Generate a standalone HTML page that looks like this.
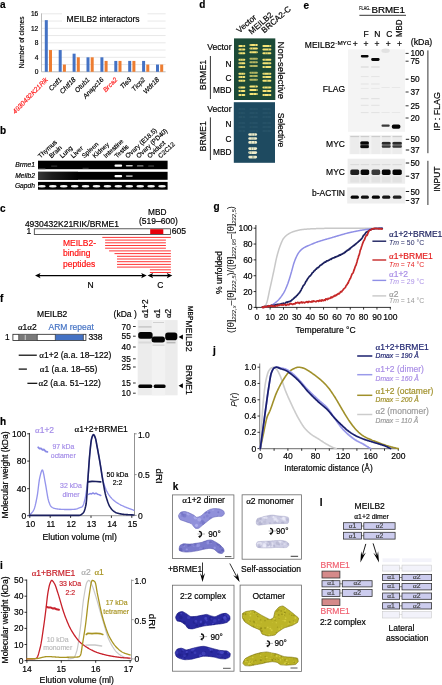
<!DOCTYPE html>
<html><head><meta charset="utf-8"><style>
html,body{margin:0;padding:0;background:#fff;}
svg{display:block;font-family:"Liberation Sans", sans-serif;will-change:transform;}
</style></head><body>
<svg width="442" height="685" viewBox="0 0 442 685">
<rect width="442" height="685" fill="#fff"/>
<text x="0.00" y="8.00" font-size="10" stroke="#000" stroke-width="0.18" font-weight="bold">a</text>
<line x1="41.50" y1="64.55" x2="165.60" y2="64.55" stroke="#d9d9d9" stroke-width="0.6" />
<line x1="41.50" y1="57.30" x2="165.60" y2="57.30" stroke="#d9d9d9" stroke-width="0.6" />
<line x1="41.50" y1="50.05" x2="165.60" y2="50.05" stroke="#d9d9d9" stroke-width="0.6" />
<line x1="41.50" y1="42.80" x2="165.60" y2="42.80" stroke="#d9d9d9" stroke-width="0.6" />
<line x1="41.50" y1="35.55" x2="165.60" y2="35.55" stroke="#d9d9d9" stroke-width="0.6" />
<line x1="41.50" y1="28.30" x2="165.60" y2="28.30" stroke="#d9d9d9" stroke-width="0.6" />
<line x1="41.50" y1="21.05" x2="165.60" y2="21.05" stroke="#d9d9d9" stroke-width="0.6" />
<line x1="41.50" y1="13.80" x2="165.60" y2="13.80" stroke="#d9d9d9" stroke-width="0.6" />
<rect x="62.00" y="10.00" width="85.50" height="14.50" fill="#fff"/>
<text x="66.50" y="21.60" font-size="8.6" stroke="#000" stroke-width="0.18">MEILB2 interactors</text>
<line x1="41.50" y1="13.40" x2="41.50" y2="71.80" stroke="#a0a0a0" stroke-width="0.7" />
<line x1="41.50" y1="71.80" x2="165.60" y2="71.80" stroke="#a0a0a0" stroke-width="0.7" />
<text x="38.30" y="74.10" font-size="6.6" text-anchor="end" stroke="#000" stroke-width="0.18">0</text>
<text x="38.30" y="59.60" font-size="6.6" text-anchor="end" stroke="#000" stroke-width="0.18">4</text>
<text x="38.30" y="45.10" font-size="6.6" text-anchor="end" stroke="#000" stroke-width="0.18">8</text>
<text x="38.30" y="30.60" font-size="6.6" text-anchor="end" stroke="#000" stroke-width="0.18">12</text>
<text x="38.30" y="16.10" font-size="6.6" text-anchor="end" stroke="#000" stroke-width="0.18">16</text>
<text x="24.00" y="42.30" font-size="6.6" text-anchor="middle" stroke="#000" stroke-width="0.18" transform="rotate(-90 24.00 42.30)">Number of clones</text>
<rect x="44.80" y="20.14" width="3.00" height="51.66" fill="#4472c4"/>
<rect x="49.00" y="50.05" width="3.00" height="21.75" fill="#ed7d31"/>
<text x="48.40" y="80.00" font-size="6.7" text-anchor="end" fill="#ff2020" stroke="#ff2020" stroke-width="0.18" font-style="italic" transform="rotate(-46 48.40 80.00)">4930432K21Rik</text>
<rect x="58.70" y="50.05" width="3.00" height="21.75" fill="#4472c4"/>
<rect x="62.90" y="64.55" width="3.00" height="7.25" fill="#ed7d31"/>
<text x="62.30" y="80.00" font-size="6.7" text-anchor="end" stroke="#000" stroke-width="0.18" font-style="italic" transform="rotate(-46 62.30 80.00)">Cstf1</text>
<rect x="72.60" y="53.67" width="3.00" height="18.12" fill="#4472c4"/>
<rect x="76.80" y="57.30" width="3.00" height="14.50" fill="#ed7d31"/>
<text x="76.20" y="80.00" font-size="6.7" text-anchor="end" stroke="#000" stroke-width="0.18" font-style="italic" transform="rotate(-46 76.20 80.00)">Chtf18</text>
<rect x="86.50" y="57.30" width="3.00" height="14.50" fill="#4472c4"/>
<rect x="90.70" y="57.30" width="3.00" height="14.50" fill="#ed7d31"/>
<text x="90.10" y="80.00" font-size="6.7" text-anchor="end" stroke="#000" stroke-width="0.18" font-style="italic" transform="rotate(-46 90.10 80.00)">Otub1</text>
<rect x="100.40" y="57.30" width="3.00" height="14.50" fill="#4472c4"/>
<rect x="104.60" y="60.92" width="3.00" height="10.88" fill="#ed7d31"/>
<text x="104.00" y="80.00" font-size="6.7" text-anchor="end" stroke="#000" stroke-width="0.18" font-style="italic" transform="rotate(-46 104.00 80.00)">Anapc16</text>
<rect x="114.30" y="60.92" width="3.00" height="10.88" fill="#4472c4"/>
<rect x="118.50" y="60.92" width="3.00" height="10.88" fill="#ed7d31"/>
<text x="117.90" y="80.00" font-size="6.7" text-anchor="end" fill="#ff2020" stroke="#ff2020" stroke-width="0.18" font-style="italic" transform="rotate(-46 117.90 80.00)">Brca2</text>
<rect x="128.20" y="60.92" width="3.00" height="10.88" fill="#4472c4"/>
<rect x="132.40" y="60.92" width="3.00" height="10.88" fill="#ed7d31"/>
<text x="131.80" y="80.00" font-size="6.7" text-anchor="end" stroke="#000" stroke-width="0.18" font-style="italic" transform="rotate(-46 131.80 80.00)">Tle3</text>
<rect x="142.10" y="60.92" width="3.00" height="10.88" fill="#4472c4"/>
<rect x="146.30" y="64.55" width="3.00" height="7.25" fill="#ed7d31"/>
<text x="145.70" y="80.00" font-size="6.7" text-anchor="end" stroke="#000" stroke-width="0.18" font-style="italic" transform="rotate(-46 145.70 80.00)">Ticp2</text>
<rect x="156.00" y="64.55" width="3.00" height="7.25" fill="#4472c4"/>
<rect x="160.20" y="64.55" width="3.00" height="7.25" fill="#ed7d31"/>
<text x="159.60" y="80.00" font-size="6.7" text-anchor="end" stroke="#000" stroke-width="0.18" font-style="italic" transform="rotate(-46 159.60 80.00)">Wdr18</text>
<text x="0.00" y="134.30" font-size="10" stroke="#000" stroke-width="0.18" font-weight="bold">b</text>
<rect x="38.00" y="160.70" width="129.60" height="8.50" fill="#000"/>
<rect x="38.00" y="171.80" width="129.60" height="8.00" fill="#000"/>
<rect x="38.00" y="181.90" width="129.60" height="7.80" fill="#000"/>
<text x="35.00" y="167.00" font-size="6.7" text-anchor="end" stroke="#000" stroke-width="0.18" font-style="italic">Brme1</text>
<text x="35.00" y="178.00" font-size="6.7" text-anchor="end" stroke="#000" stroke-width="0.18" font-style="italic">Meilb2</text>
<text x="35.00" y="187.80" font-size="6.7" text-anchor="end" stroke="#000" stroke-width="0.18" font-style="italic">Gapdh</text>
<text x="40.50" y="158.50" font-size="6.5" stroke="#000" stroke-width="0.18" transform="rotate(-43 40.50 158.50)">Thymus</text>
<ellipse cx="41.90" cy="186.2" rx="3.8" ry="1.2" fill="#f4f4f4"/>
<text x="51.42" y="158.50" font-size="6.5" stroke="#000" stroke-width="0.18" transform="rotate(-43 51.42 158.50)">Brain</text>
<ellipse cx="52.82" cy="186.2" rx="3.8" ry="1.2" fill="#f4f4f4"/>
<text x="62.34" y="158.50" font-size="6.5" stroke="#000" stroke-width="0.18" transform="rotate(-43 62.34 158.50)">Lung</text>
<ellipse cx="63.74" cy="186.2" rx="3.8" ry="1.2" fill="#f4f4f4"/>
<text x="73.26" y="158.50" font-size="6.5" stroke="#000" stroke-width="0.18" transform="rotate(-43 73.26 158.50)">Liver</text>
<ellipse cx="74.66" cy="186.2" rx="3.8" ry="1.2" fill="#f4f4f4"/>
<text x="84.18" y="158.50" font-size="6.5" stroke="#000" stroke-width="0.18" transform="rotate(-43 84.18 158.50)">Spleen</text>
<ellipse cx="85.58" cy="186.2" rx="3.8" ry="1.2" fill="#f4f4f4"/>
<text x="95.10" y="158.50" font-size="6.5" stroke="#000" stroke-width="0.18" transform="rotate(-43 95.10 158.50)">Kidney</text>
<ellipse cx="96.50" cy="186.2" rx="3.8" ry="1.2" fill="#f4f4f4"/>
<text x="106.02" y="158.50" font-size="6.5" stroke="#000" stroke-width="0.18" transform="rotate(-43 106.02 158.50)">Intestine</text>
<ellipse cx="107.42" cy="186.2" rx="3.8" ry="1.2" fill="#f4f4f4"/>
<text x="116.94" y="158.50" font-size="6.5" stroke="#000" stroke-width="0.18" transform="rotate(-43 116.94 158.50)">Testis</text>
<ellipse cx="118.34" cy="186.2" rx="3.8" ry="1.2" fill="#f4f4f4"/>
<text x="127.86" y="158.50" font-size="6.5" stroke="#000" stroke-width="0.18" transform="rotate(-43 127.86 158.50)">Ovary (E18.5)</text>
<ellipse cx="129.26" cy="186.2" rx="3.8" ry="1.2" fill="#f4f4f4"/>
<text x="138.78" y="158.50" font-size="6.5" stroke="#000" stroke-width="0.18" transform="rotate(-43 138.78 158.50)">Ovary (PD40)</text>
<ellipse cx="140.18" cy="186.2" rx="3.8" ry="1.2" fill="#f4f4f4"/>
<text x="149.70" y="158.50" font-size="6.5" stroke="#000" stroke-width="0.18" transform="rotate(-43 149.70 158.50)">Oviduct</text>
<ellipse cx="151.10" cy="186.2" rx="3.8" ry="1.2" fill="#f4f4f4"/>
<text x="160.62" y="158.50" font-size="6.5" stroke="#000" stroke-width="0.18" transform="rotate(-43 160.62 158.50)">C2C12</text>
<ellipse cx="162.02" cy="186.2" rx="3.8" ry="1.2" fill="#f4f4f4"/>
<rect x="114.50" y="164.60" width="7.60" height="2.20" fill="#fff" rx="1"/>
<rect x="125.80" y="164.90" width="7.00" height="1.60" fill="#c8c8c8" rx="0.8"/>
<rect x="136.90" y="165.30" width="6.60" height="1.30" fill="#8a8a8a" rx="0.6"/>
<rect x="148.10" y="165.50" width="6.00" height="1.10" fill="#505050" rx="0.5"/>
<rect x="51.20" y="165.60" width="6.00" height="1.00" fill="#3a3a3a"/>
<rect x="38.40" y="168.20" width="7.00" height="1.00" fill="#404040"/>
<rect x="82.60" y="167.80" width="6.00" height="1.00" fill="#3a3a3a"/>
<rect x="114.50" y="175.00" width="7.60" height="2.20" fill="#fff" rx="1"/>
<rect x="125.80" y="175.30" width="7.00" height="1.60" fill="#a0a0a0" rx="0.8"/>
<defs><linearGradient id="mg" x1="0" x2="1" y1="0" y2="0"><stop offset="0" stop-color="#383838"/><stop offset="0.35" stop-color="#1c1c1c"/><stop offset="1" stop-color="#000"/></linearGradient></defs>
<rect x="38.00" y="171.80" width="40.00" height="8.00" fill="url(#mg)"/>
<text x="0.00" y="211.50" font-size="10" stroke="#000" stroke-width="0.18" font-weight="bold">c</text>
<text x="24.90" y="226.60" font-size="8.5" stroke="#000" stroke-width="0.18">4930432K21RIK/BRME1</text>
<text x="157.20" y="215.00" font-size="8.3" text-anchor="middle" stroke="#000" stroke-width="0.18">MBD</text>
<text x="158.40" y="223.80" font-size="8.5" text-anchor="middle" stroke="#000" stroke-width="0.18">(519–600)</text>
<text x="26.60" y="234.20" font-size="8.5" stroke="#000" stroke-width="0.18">1</text>
<text x="171.80" y="234.00" font-size="8.6" stroke="#000" stroke-width="0.18">605</text>
<rect x="34.30" y="228.80" width="136.20" height="5.60" fill="#fff" stroke="#333" stroke-width="0.8"/>
<rect x="150.20" y="229.20" width="13.10" height="4.80" fill="#e8000b"/>
<line x1="102.30" y1="237.40" x2="170.90" y2="237.40" stroke="#ff2020" stroke-width="0.9" />
<line x1="105.10" y1="240.10" x2="165.90" y2="240.10" stroke="#ff2020" stroke-width="0.9" />
<line x1="105.10" y1="242.80" x2="165.90" y2="242.80" stroke="#ff2020" stroke-width="0.9" />
<line x1="105.10" y1="245.50" x2="165.90" y2="245.50" stroke="#ff2020" stroke-width="0.9" />
<line x1="105.10" y1="248.20" x2="165.90" y2="248.20" stroke="#ff2020" stroke-width="0.9" />
<line x1="109.10" y1="250.90" x2="170.90" y2="250.90" stroke="#ff2020" stroke-width="0.9" />
<line x1="114.50" y1="253.60" x2="170.90" y2="253.60" stroke="#ff2020" stroke-width="0.9" />
<line x1="117.00" y1="256.30" x2="170.90" y2="256.30" stroke="#ff2020" stroke-width="0.9" />
<line x1="117.00" y1="259.00" x2="170.90" y2="259.00" stroke="#ff2020" stroke-width="0.9" />
<line x1="117.00" y1="261.70" x2="170.90" y2="261.70" stroke="#ff2020" stroke-width="0.9" />
<line x1="117.00" y1="264.40" x2="170.90" y2="264.40" stroke="#ff2020" stroke-width="0.9" />
<line x1="117.00" y1="267.10" x2="170.90" y2="267.10" stroke="#ff2020" stroke-width="0.9" />
<line x1="149.90" y1="269.80" x2="170.90" y2="269.80" stroke="#ff2020" stroke-width="0.9" />
<line x1="149.90" y1="272.50" x2="170.90" y2="272.50" stroke="#ff2020" stroke-width="0.9" />
<text x="63.00" y="246.00" font-size="8.5" fill="#ff1010" stroke="#ff1010" stroke-width="0.18">MEILB2-</text>
<text x="63.00" y="256.20" font-size="8.5" fill="#ff1010" stroke="#ff1010" stroke-width="0.18">binding</text>
<text x="63.00" y="266.60" font-size="8.5" fill="#ff1010" stroke="#ff1010" stroke-width="0.18">peptides</text>
<line x1="38.50" y1="275.60" x2="143.50" y2="275.60" stroke="#000" stroke-width="1.4" />
<polygon points="35.00,275.60 40.50,273.00 39.30,275.60 40.50,278.20" fill="#000" stroke="none" stroke-width="1" />
<polygon points="146.70,275.60 141.20,273.00 142.40,275.60 141.20,278.20" fill="#000" stroke="none" stroke-width="1" />
<line x1="150.50" y1="275.60" x2="169.00" y2="275.60" stroke="#000" stroke-width="1.4" />
<polygon points="147.60,275.60 153.10,273.00 151.90,275.60 153.10,278.20" fill="#000" stroke="none" stroke-width="1" />
<polygon points="172.30,275.60 166.80,273.00 168.00,275.60 166.80,278.20" fill="#000" stroke="none" stroke-width="1" />
<text x="90.60" y="288.00" font-size="8.5" text-anchor="middle" stroke="#000" stroke-width="0.18">N</text>
<text x="160.30" y="288.00" font-size="8.5" text-anchor="middle" stroke="#000" stroke-width="0.18">C</text>
<text x="199.30" y="8.00" font-size="10" stroke="#000" stroke-width="0.18" font-weight="bold">d</text>
<text x="239.50" y="33.40" font-size="8.2" stroke="#000" stroke-width="0.18" transform="rotate(-41 239.50 33.40)">Vector</text>
<text x="251.50" y="34.80" font-size="8.2" stroke="#000" stroke-width="0.18" transform="rotate(-41 251.50 34.80)">MEILB2</text>
<text x="264.30" y="33.40" font-size="8.2" stroke="#000" stroke-width="0.18" transform="rotate(-41 264.30 33.40)">BRCA2-C</text>
<rect x="234.00" y="38.40" width="41.30" height="61.60" fill="#1c4a37"/>
<rect x="238.40" y="44.90" width="6.90" height="2.00" fill="#f5e476" rx="1.00" opacity="1.00"/>
<rect x="242.14" y="44.90" width="0.77" height="2.00" fill="#1c4734" opacity="0.35"/>
<rect x="242.90" y="44.90" width="0.87" height="2.00" fill="#1c4734" opacity="0.35"/>
<rect x="249.40" y="43.90" width="8.50" height="2.00" fill="#f5e476" rx="1.00" opacity="1.00"/>
<rect x="254.84" y="43.90" width="0.86" height="2.00" fill="#1c4734" opacity="0.35"/>
<rect x="250.57" y="43.90" width="0.63" height="2.00" fill="#1c4734" opacity="0.35"/>
<rect x="262.40" y="44.90" width="9.00" height="2.00" fill="#f5e476" rx="1.00" opacity="1.00"/>
<rect x="269.53" y="44.90" width="0.72" height="2.00" fill="#1c4734" opacity="0.35"/>
<rect x="269.26" y="44.90" width="0.46" height="2.00" fill="#1c4734" opacity="0.35"/>
<rect x="238.40" y="48.50" width="6.90" height="2.00" fill="#f5e476" rx="1.00" opacity="1.00"/>
<rect x="241.46" y="48.50" width="0.52" height="2.00" fill="#1c4734" opacity="0.35"/>
<rect x="241.79" y="48.50" width="0.69" height="2.00" fill="#1c4734" opacity="0.35"/>
<rect x="249.40" y="47.50" width="8.50" height="2.00" fill="#f5e476" rx="1.00" opacity="1.00"/>
<rect x="250.48" y="47.50" width="0.51" height="2.00" fill="#1c4734" opacity="0.35"/>
<rect x="252.08" y="47.50" width="0.86" height="2.00" fill="#1c4734" opacity="0.35"/>
<rect x="262.40" y="48.50" width="9.00" height="2.00" fill="#f5e476" rx="1.00" opacity="1.00"/>
<rect x="268.38" y="48.50" width="0.48" height="2.00" fill="#1c4734" opacity="0.35"/>
<rect x="268.58" y="48.50" width="0.47" height="2.00" fill="#1c4734" opacity="0.35"/>
<rect x="238.40" y="52.20" width="6.90" height="2.00" fill="#f5e476" rx="1.00" opacity="1.00"/>
<rect x="242.12" y="52.20" width="0.46" height="2.00" fill="#1c4734" opacity="0.35"/>
<rect x="239.41" y="52.20" width="0.84" height="2.00" fill="#1c4734" opacity="0.35"/>
<rect x="249.40" y="51.20" width="8.50" height="2.00" fill="#f5e476" rx="1.00" opacity="1.00"/>
<rect x="251.66" y="51.20" width="0.51" height="2.00" fill="#1c4734" opacity="0.35"/>
<rect x="256.29" y="51.20" width="0.84" height="2.00" fill="#1c4734" opacity="0.35"/>
<rect x="262.40" y="52.20" width="9.00" height="2.00" fill="#f5e476" rx="1.00" opacity="1.00"/>
<rect x="265.28" y="52.20" width="0.88" height="2.00" fill="#1c4734" opacity="0.35"/>
<rect x="266.90" y="52.20" width="0.74" height="2.00" fill="#1c4734" opacity="0.35"/>
<rect x="238.40" y="58.70" width="6.90" height="2.00" fill="#f5e476" rx="1.00" opacity="1.00"/>
<rect x="240.30" y="58.70" width="0.87" height="2.00" fill="#1c4734" opacity="0.35"/>
<rect x="242.44" y="58.70" width="0.88" height="2.00" fill="#1c4734" opacity="0.35"/>
<rect x="249.40" y="57.70" width="8.50" height="2.00" fill="#f5e476" rx="1.00" opacity="0.70"/>
<rect x="255.76" y="57.70" width="0.55" height="2.00" fill="#1c4734" opacity="0.24"/>
<rect x="252.57" y="57.70" width="0.48" height="2.00" fill="#1c4734" opacity="0.24"/>
<rect x="262.40" y="58.70" width="9.00" height="2.00" fill="#f5e476" rx="1.00" opacity="1.00"/>
<rect x="264.35" y="58.70" width="0.43" height="2.00" fill="#1c4734" opacity="0.35"/>
<rect x="265.36" y="58.70" width="0.70" height="2.00" fill="#1c4734" opacity="0.35"/>
<rect x="238.40" y="62.30" width="6.90" height="2.00" fill="#f5e476" rx="1.00" opacity="1.00"/>
<rect x="239.41" y="62.30" width="0.74" height="2.00" fill="#1c4734" opacity="0.35"/>
<rect x="240.89" y="62.30" width="0.55" height="2.00" fill="#1c4734" opacity="0.35"/>
<rect x="249.40" y="61.30" width="8.50" height="2.00" fill="#f5e476" rx="1.00" opacity="0.70"/>
<rect x="255.31" y="61.30" width="0.64" height="2.00" fill="#1c4734" opacity="0.24"/>
<rect x="252.29" y="61.30" width="0.64" height="2.00" fill="#1c4734" opacity="0.24"/>
<rect x="262.40" y="62.30" width="9.00" height="2.00" fill="#f5e476" rx="1.00" opacity="1.00"/>
<rect x="267.98" y="62.30" width="0.43" height="2.00" fill="#1c4734" opacity="0.35"/>
<rect x="269.74" y="62.30" width="0.41" height="2.00" fill="#1c4734" opacity="0.35"/>
<rect x="238.40" y="66.00" width="6.90" height="2.00" fill="#f5e476" rx="1.00" opacity="1.00"/>
<rect x="242.70" y="66.00" width="0.82" height="2.00" fill="#1c4734" opacity="0.35"/>
<rect x="239.48" y="66.00" width="0.79" height="2.00" fill="#1c4734" opacity="0.35"/>
<rect x="249.40" y="65.00" width="8.50" height="2.00" fill="#f5e476" rx="1.00" opacity="0.70"/>
<rect x="252.60" y="65.00" width="0.69" height="2.00" fill="#1c4734" opacity="0.24"/>
<rect x="250.45" y="65.00" width="0.42" height="2.00" fill="#1c4734" opacity="0.24"/>
<rect x="262.40" y="66.00" width="9.00" height="2.00" fill="#f5e476" rx="1.00" opacity="1.00"/>
<rect x="264.58" y="66.00" width="0.88" height="2.00" fill="#1c4734" opacity="0.35"/>
<rect x="264.68" y="66.00" width="0.78" height="2.00" fill="#1c4734" opacity="0.35"/>
<rect x="238.40" y="72.70" width="6.90" height="2.00" fill="#f5e476" rx="1.00" opacity="1.00"/>
<rect x="243.49" y="72.70" width="0.87" height="2.00" fill="#1c4734" opacity="0.35"/>
<rect x="240.92" y="72.70" width="0.58" height="2.00" fill="#1c4734" opacity="0.35"/>
<rect x="249.40" y="71.70" width="8.50" height="2.00" fill="#f5e476" rx="1.00" opacity="0.70"/>
<rect x="253.55" y="71.70" width="0.79" height="2.00" fill="#1c4734" opacity="0.24"/>
<rect x="251.05" y="71.70" width="0.77" height="2.00" fill="#1c4734" opacity="0.24"/>
<rect x="262.40" y="72.70" width="9.00" height="2.00" fill="#f5e476" rx="1.00" opacity="1.00"/>
<rect x="268.58" y="72.70" width="0.83" height="2.00" fill="#1c4734" opacity="0.35"/>
<rect x="263.64" y="72.70" width="0.87" height="2.00" fill="#1c4734" opacity="0.35"/>
<rect x="238.40" y="76.00" width="6.90" height="2.00" fill="#f5e476" rx="1.00" opacity="1.00"/>
<rect x="239.80" y="76.00" width="0.57" height="2.00" fill="#1c4734" opacity="0.35"/>
<rect x="242.09" y="76.00" width="0.86" height="2.00" fill="#1c4734" opacity="0.35"/>
<rect x="249.40" y="75.00" width="8.50" height="2.00" fill="#f5e476" rx="1.00" opacity="0.70"/>
<rect x="252.44" y="75.00" width="0.86" height="2.00" fill="#1c4734" opacity="0.24"/>
<rect x="253.67" y="75.00" width="0.56" height="2.00" fill="#1c4734" opacity="0.24"/>
<rect x="262.40" y="76.00" width="9.00" height="2.00" fill="#f5e476" rx="1.00" opacity="1.00"/>
<rect x="265.46" y="76.00" width="0.49" height="2.00" fill="#1c4734" opacity="0.35"/>
<rect x="263.91" y="76.00" width="0.47" height="2.00" fill="#1c4734" opacity="0.35"/>
<rect x="238.40" y="79.70" width="6.90" height="2.00" fill="#f5e476" rx="1.00" opacity="1.00"/>
<rect x="242.43" y="79.70" width="0.90" height="2.00" fill="#1c4734" opacity="0.35"/>
<rect x="240.11" y="79.70" width="0.42" height="2.00" fill="#1c4734" opacity="0.35"/>
<rect x="249.40" y="78.70" width="8.50" height="2.00" fill="#f5e476" rx="1.00" opacity="0.70"/>
<rect x="256.32" y="78.70" width="0.67" height="2.00" fill="#1c4734" opacity="0.24"/>
<rect x="252.84" y="78.70" width="0.52" height="2.00" fill="#1c4734" opacity="0.24"/>
<rect x="262.40" y="79.70" width="9.00" height="2.00" fill="#f5e476" rx="1.00" opacity="1.00"/>
<rect x="267.26" y="79.70" width="0.81" height="2.00" fill="#1c4734" opacity="0.35"/>
<rect x="266.36" y="79.70" width="0.61" height="2.00" fill="#1c4734" opacity="0.35"/>
<rect x="238.40" y="86.40" width="6.90" height="2.00" fill="#f5e476" rx="1.00" opacity="1.00"/>
<rect x="239.65" y="86.40" width="0.86" height="2.00" fill="#1c4734" opacity="0.35"/>
<rect x="239.54" y="86.40" width="0.65" height="2.00" fill="#1c4734" opacity="0.35"/>
<rect x="249.40" y="85.40" width="8.50" height="2.00" fill="#f5e476" rx="1.00" opacity="1.00"/>
<rect x="255.43" y="85.40" width="0.47" height="2.00" fill="#1c4734" opacity="0.35"/>
<rect x="254.79" y="85.40" width="0.87" height="2.00" fill="#1c4734" opacity="0.35"/>
<rect x="262.40" y="86.40" width="9.00" height="2.00" fill="#f5e476" rx="1.00" opacity="1.00"/>
<rect x="267.50" y="86.40" width="0.79" height="2.00" fill="#1c4734" opacity="0.35"/>
<rect x="264.09" y="86.40" width="0.62" height="2.00" fill="#1c4734" opacity="0.35"/>
<rect x="238.40" y="90.00" width="6.90" height="2.00" fill="#f5e476" rx="1.00" opacity="1.00"/>
<rect x="240.06" y="90.00" width="0.82" height="2.00" fill="#1c4734" opacity="0.35"/>
<rect x="240.70" y="90.00" width="0.63" height="2.00" fill="#1c4734" opacity="0.35"/>
<rect x="249.40" y="89.00" width="8.50" height="2.00" fill="#f5e476" rx="1.00" opacity="1.00"/>
<rect x="256.40" y="89.00" width="0.83" height="2.00" fill="#1c4734" opacity="0.35"/>
<rect x="256.26" y="89.00" width="0.63" height="2.00" fill="#1c4734" opacity="0.35"/>
<rect x="262.40" y="90.00" width="9.00" height="2.00" fill="#f5e476" rx="1.00" opacity="1.00"/>
<rect x="266.57" y="90.00" width="0.76" height="2.00" fill="#1c4734" opacity="0.35"/>
<rect x="266.51" y="90.00" width="0.55" height="2.00" fill="#1c4734" opacity="0.35"/>
<rect x="238.40" y="94.10" width="6.90" height="2.00" fill="#f5e476" rx="1.00" opacity="1.00"/>
<rect x="241.18" y="94.10" width="0.47" height="2.00" fill="#1c4734" opacity="0.35"/>
<rect x="241.06" y="94.10" width="0.89" height="2.00" fill="#1c4734" opacity="0.35"/>
<rect x="249.40" y="93.10" width="8.50" height="2.00" fill="#f5e476" rx="1.00" opacity="1.00"/>
<rect x="256.16" y="93.10" width="0.71" height="2.00" fill="#1c4734" opacity="0.35"/>
<rect x="253.40" y="93.10" width="0.57" height="2.00" fill="#1c4734" opacity="0.35"/>
<rect x="262.40" y="94.10" width="9.00" height="2.00" fill="#f5e476" rx="1.00" opacity="1.00"/>
<rect x="263.98" y="94.10" width="0.54" height="2.00" fill="#1c4734" opacity="0.35"/>
<rect x="268.48" y="94.10" width="0.83" height="2.00" fill="#1c4734" opacity="0.35"/>
<rect x="233.80" y="102.20" width="41.20" height="60.60" fill="#1e4a60"/>
<rect x="248.30" y="133.20" width="8.80" height="2.60" fill="#eeeccc" rx="1.30" opacity="1.00"/>
<rect x="251.58" y="133.20" width="0.79" height="2.60" fill="#1c4734" opacity="0.35"/>
<rect x="254.18" y="133.20" width="0.75" height="2.60" fill="#1c4734" opacity="0.35"/>
<rect x="248.30" y="137.20" width="8.80" height="2.60" fill="#eeeccc" rx="1.30" opacity="1.00"/>
<rect x="253.48" y="137.20" width="0.78" height="2.60" fill="#1c4734" opacity="0.35"/>
<rect x="251.59" y="137.20" width="0.75" height="2.60" fill="#1c4734" opacity="0.35"/>
<rect x="248.30" y="141.10" width="8.80" height="2.60" fill="#eeeccc" rx="1.30" opacity="1.00"/>
<rect x="251.07" y="141.10" width="0.64" height="2.60" fill="#1c4734" opacity="0.35"/>
<rect x="254.15" y="141.10" width="0.75" height="2.60" fill="#1c4734" opacity="0.35"/>
<rect x="248.30" y="147.30" width="8.80" height="2.60" fill="#eeeccc" rx="1.30" opacity="1.00"/>
<rect x="251.15" y="147.30" width="0.87" height="2.60" fill="#1c4734" opacity="0.35"/>
<rect x="253.39" y="147.30" width="0.69" height="2.60" fill="#1c4734" opacity="0.35"/>
<rect x="248.30" y="151.30" width="8.80" height="2.60" fill="#eeeccc" rx="1.30" opacity="1.00"/>
<rect x="249.37" y="151.30" width="0.67" height="2.60" fill="#1c4734" opacity="0.35"/>
<rect x="250.88" y="151.30" width="0.74" height="2.60" fill="#1c4734" opacity="0.35"/>
<rect x="248.30" y="155.80" width="8.80" height="2.60" fill="#eeeccc" rx="1.30" opacity="1.00"/>
<rect x="252.22" y="155.80" width="0.81" height="2.60" fill="#1c4734" opacity="0.35"/>
<rect x="253.38" y="155.80" width="0.80" height="2.60" fill="#1c4734" opacity="0.35"/>
<rect x="238.40" y="108.40" width="6.90" height="1.20" fill="#3f6a80" rx="0.60" opacity="0.45"/>
<rect x="240.93" y="108.40" width="0.72" height="1.20" fill="#1c4734" opacity="0.16"/>
<rect x="242.65" y="108.40" width="0.81" height="1.20" fill="#1c4734" opacity="0.16"/>
<rect x="249.40" y="108.40" width="8.50" height="1.20" fill="#3f6a80" rx="0.60" opacity="0.45"/>
<rect x="252.50" y="108.40" width="0.82" height="1.20" fill="#1c4734" opacity="0.16"/>
<rect x="255.62" y="108.40" width="0.74" height="1.20" fill="#1c4734" opacity="0.16"/>
<rect x="262.40" y="108.40" width="9.00" height="1.20" fill="#3f6a80" rx="0.60" opacity="0.45"/>
<rect x="269.74" y="108.40" width="0.88" height="1.20" fill="#1c4734" opacity="0.16"/>
<rect x="266.77" y="108.40" width="0.66" height="1.20" fill="#1c4734" opacity="0.16"/>
<rect x="238.40" y="112.40" width="6.90" height="1.20" fill="#3f6a80" rx="0.60" opacity="0.45"/>
<rect x="240.13" y="112.40" width="0.82" height="1.20" fill="#1c4734" opacity="0.16"/>
<rect x="243.52" y="112.40" width="0.64" height="1.20" fill="#1c4734" opacity="0.16"/>
<rect x="249.40" y="112.40" width="8.50" height="1.20" fill="#3f6a80" rx="0.60" opacity="0.45"/>
<rect x="254.55" y="112.40" width="0.76" height="1.20" fill="#1c4734" opacity="0.16"/>
<rect x="254.78" y="112.40" width="0.49" height="1.20" fill="#1c4734" opacity="0.16"/>
<rect x="262.40" y="112.40" width="9.00" height="1.20" fill="#3f6a80" rx="0.60" opacity="0.45"/>
<rect x="268.47" y="112.40" width="0.69" height="1.20" fill="#1c4734" opacity="0.16"/>
<rect x="267.73" y="112.40" width="0.61" height="1.20" fill="#1c4734" opacity="0.16"/>
<rect x="238.40" y="116.40" width="6.90" height="1.20" fill="#3f6a80" rx="0.60" opacity="0.45"/>
<rect x="242.14" y="116.40" width="0.79" height="1.20" fill="#1c4734" opacity="0.16"/>
<rect x="242.20" y="116.40" width="0.76" height="1.20" fill="#1c4734" opacity="0.16"/>
<rect x="249.40" y="116.40" width="8.50" height="1.20" fill="#3f6a80" rx="0.60" opacity="0.45"/>
<rect x="250.57" y="116.40" width="0.48" height="1.20" fill="#1c4734" opacity="0.16"/>
<rect x="253.05" y="116.40" width="0.73" height="1.20" fill="#1c4734" opacity="0.16"/>
<rect x="262.40" y="116.40" width="9.00" height="1.20" fill="#3f6a80" rx="0.60" opacity="0.45"/>
<rect x="264.82" y="116.40" width="0.74" height="1.20" fill="#1c4734" opacity="0.16"/>
<rect x="267.50" y="116.40" width="0.42" height="1.20" fill="#1c4734" opacity="0.16"/>
<rect x="238.40" y="122.40" width="6.90" height="1.20" fill="#3f6a80" rx="0.60" opacity="0.45"/>
<rect x="241.47" y="122.40" width="0.51" height="1.20" fill="#1c4734" opacity="0.16"/>
<rect x="239.64" y="122.40" width="0.47" height="1.20" fill="#1c4734" opacity="0.16"/>
<rect x="249.40" y="122.40" width="8.50" height="1.20" fill="#3f6a80" rx="0.60" opacity="0.45"/>
<rect x="252.30" y="122.40" width="0.49" height="1.20" fill="#1c4734" opacity="0.16"/>
<rect x="251.56" y="122.40" width="0.42" height="1.20" fill="#1c4734" opacity="0.16"/>
<rect x="262.40" y="122.40" width="9.00" height="1.20" fill="#3f6a80" rx="0.60" opacity="0.45"/>
<rect x="266.42" y="122.40" width="0.59" height="1.20" fill="#1c4734" opacity="0.16"/>
<rect x="267.38" y="122.40" width="0.70" height="1.20" fill="#1c4734" opacity="0.16"/>
<rect x="238.40" y="126.40" width="6.90" height="1.20" fill="#3f6a80" rx="0.60" opacity="0.45"/>
<rect x="240.45" y="126.40" width="0.85" height="1.20" fill="#1c4734" opacity="0.16"/>
<rect x="239.40" y="126.40" width="0.60" height="1.20" fill="#1c4734" opacity="0.16"/>
<rect x="249.40" y="126.40" width="8.50" height="1.20" fill="#3f6a80" rx="0.60" opacity="0.45"/>
<rect x="252.07" y="126.40" width="0.61" height="1.20" fill="#1c4734" opacity="0.16"/>
<rect x="251.09" y="126.40" width="0.82" height="1.20" fill="#1c4734" opacity="0.16"/>
<rect x="262.40" y="126.40" width="9.00" height="1.20" fill="#3f6a80" rx="0.60" opacity="0.45"/>
<rect x="265.83" y="126.40" width="0.42" height="1.20" fill="#1c4734" opacity="0.16"/>
<rect x="267.39" y="126.40" width="0.45" height="1.20" fill="#1c4734" opacity="0.16"/>
<rect x="238.40" y="130.40" width="6.90" height="1.20" fill="#3f6a80" rx="0.60" opacity="0.45"/>
<rect x="241.80" y="130.40" width="0.57" height="1.20" fill="#1c4734" opacity="0.16"/>
<rect x="241.96" y="130.40" width="0.88" height="1.20" fill="#1c4734" opacity="0.16"/>
<rect x="249.40" y="130.40" width="8.50" height="1.20" fill="#3f6a80" rx="0.60" opacity="0.45"/>
<rect x="255.31" y="130.40" width="0.61" height="1.20" fill="#1c4734" opacity="0.16"/>
<rect x="255.28" y="130.40" width="0.72" height="1.20" fill="#1c4734" opacity="0.16"/>
<rect x="262.40" y="130.40" width="9.00" height="1.20" fill="#3f6a80" rx="0.60" opacity="0.45"/>
<rect x="265.80" y="130.40" width="0.47" height="1.20" fill="#1c4734" opacity="0.16"/>
<rect x="267.27" y="130.40" width="0.68" height="1.20" fill="#1c4734" opacity="0.16"/>
<text x="231.50" y="50.30" font-size="8.6" text-anchor="end" stroke="#000" stroke-width="0.18">Vector</text>
<text x="231.50" y="66.50" font-size="8.3" text-anchor="end" stroke="#000" stroke-width="0.18">N</text>
<text x="231.50" y="80.60" font-size="8.3" text-anchor="end" stroke="#000" stroke-width="0.18">C</text>
<text x="231.50" y="93.00" font-size="8.3" text-anchor="end" stroke="#000" stroke-width="0.18">MBD</text>
<line x1="210.40" y1="56.00" x2="210.40" y2="99.00" stroke="#000" stroke-width="0.8" />
<text x="206.40" y="75.00" font-size="8.8" text-anchor="middle" stroke="#000" stroke-width="0.18" transform="rotate(-90 206.40 75.00)">BRME1</text>
<text x="231.50" y="111.70" font-size="8.6" text-anchor="end" stroke="#000" stroke-width="0.18">Vector</text>
<text x="231.50" y="127.00" font-size="8.3" text-anchor="end" stroke="#000" stroke-width="0.18">N</text>
<text x="231.50" y="141.70" font-size="8.3" text-anchor="end" stroke="#000" stroke-width="0.18">C</text>
<text x="231.50" y="155.00" font-size="8.3" text-anchor="end" stroke="#000" stroke-width="0.18">MBD</text>
<line x1="210.40" y1="117.40" x2="210.40" y2="160.00" stroke="#000" stroke-width="0.8" />
<text x="206.40" y="136.30" font-size="8.8" text-anchor="middle" stroke="#000" stroke-width="0.18" transform="rotate(-90 206.40 136.30)">BRME1</text>
<text x="278.00" y="70.30" font-size="8.8" text-anchor="middle" stroke="#000" stroke-width="0.18" transform="rotate(90 278.00 70.30)" textLength="57.5" lengthAdjust="spacingAndGlyphs">Non-selective</text>
<text x="278.00" y="130.00" font-size="8.5" text-anchor="middle" stroke="#000" stroke-width="0.18" transform="rotate(90 278.00 130.00)">Selective</text>
<text x="303.50" y="9.20" font-size="10" stroke="#000" stroke-width="0.18" font-weight="bold">e</text>
<text x="359.30" y="10.20" font-size="6.0" stroke="#000" stroke-width="0.18" textLength="9.8" lengthAdjust="spacingAndGlyphs">FLAG</text>
<text x="368.60" y="11.00" font-size="6" stroke="#000" stroke-width="0.18">-</text>
<text x="371.40" y="12.60" font-size="8.6" stroke="#000" stroke-width="0.18" textLength="33.6" lengthAdjust="spacingAndGlyphs">BRME1</text>
<line x1="359.40" y1="15.30" x2="406.00" y2="15.30" stroke="#000" stroke-width="0.8" />
<text x="366.00" y="37.20" font-size="8.5" text-anchor="middle" stroke="#000" stroke-width="0.18">F</text>
<text x="377.20" y="37.20" font-size="8.5" text-anchor="middle" stroke="#000" stroke-width="0.18">N</text>
<text x="389.30" y="37.20" font-size="8.5" text-anchor="middle" stroke="#000" stroke-width="0.18">C</text>
<text x="402.40" y="37.00" font-size="8.8" stroke="#000" stroke-width="0.18" transform="rotate(-90 402.40 37.00)" textLength="17.6" lengthAdjust="spacingAndGlyphs">MBD</text>
<text x="304.80" y="47.60" font-size="8.5" stroke="#000" stroke-width="0.18">MEILB2</text>
<text x="335.30" y="45.00" font-size="5.6" stroke="#000" stroke-width="0.18" textLength="16" lengthAdjust="spacingAndGlyphs">-MYC</text>
<text x="355.30" y="47.30" font-size="8.5" text-anchor="middle" stroke="#000" stroke-width="0.18">+</text>
<text x="366.00" y="47.30" font-size="8.5" text-anchor="middle" stroke="#000" stroke-width="0.18">+</text>
<text x="377.00" y="47.30" font-size="8.5" text-anchor="middle" stroke="#000" stroke-width="0.18">+</text>
<text x="388.30" y="47.30" font-size="8.5" text-anchor="middle" stroke="#000" stroke-width="0.18">+</text>
<text x="399.60" y="47.30" font-size="8.5" text-anchor="middle" stroke="#000" stroke-width="0.18">+</text>
<text x="410.80" y="45.40" font-size="8.8" stroke="#000" stroke-width="0.18">(kDa)</text>
<rect x="348.00" y="49.40" width="57.00" height="82.40" fill="#f4f4f4"/>
<rect x="360.80" y="55.00" width="7.80" height="2.40" fill="#080808" rx="1.1"/>
<rect x="371.20" y="58.00" width="8.40" height="2.90" fill="#080808" rx="1.3"/>
<rect x="360.80" y="66.50" width="7.80" height="1.00" fill="#d4d4d4"/>
<rect x="371.20" y="66.50" width="8.40" height="1.00" fill="#d4d4d4"/>
<rect x="360.80" y="76.10" width="7.80" height="1.00" fill="#e4e4e4"/>
<rect x="371.20" y="76.10" width="8.40" height="1.00" fill="#e4e4e4"/>
<rect x="360.80" y="83.50" width="7.80" height="1.00" fill="#e2e2e2"/>
<rect x="371.20" y="83.50" width="8.40" height="1.00" fill="#e2e2e2"/>
<rect x="360.80" y="87.90" width="7.80" height="1.00" fill="#e8e8e8"/>
<rect x="371.20" y="87.90" width="8.40" height="1.00" fill="#e8e8e8"/>
<rect x="360.80" y="98.20" width="7.80" height="1.00" fill="#dedede"/>
<rect x="371.20" y="98.20" width="8.40" height="1.00" fill="#dedede"/>
<rect x="360.80" y="104.80" width="7.80" height="1.00" fill="#e2e2e2"/>
<rect x="371.20" y="104.80" width="8.40" height="1.00" fill="#e2e2e2"/>
<rect x="360.80" y="112.10" width="7.80" height="1.00" fill="#e2e2e2"/>
<rect x="371.20" y="112.10" width="8.40" height="1.00" fill="#e2e2e2"/>
<rect x="381.50" y="87.20" width="8.20" height="0.80" fill="#e4e4e4"/>
<rect x="391.80" y="87.20" width="8.40" height="0.80" fill="#e4e4e4"/>
<rect x="381.50" y="112.20" width="8.20" height="0.80" fill="#e4e4e4"/>
<rect x="391.80" y="112.20" width="8.40" height="0.80" fill="#e4e4e4"/>
<rect x="381.50" y="124.60" width="8.20" height="2.20" fill="#3a3a3a" rx="1"/>
<ellipse cx="385.6" cy="50.8" rx="4.2" ry="2.2" fill="#e2e2e2"/>
<rect x="391.80" y="124.50" width="8.60" height="4.20" fill="#050505" rx="1.8"/>
<line x1="405.60" y1="53.40" x2="408.60" y2="53.40" stroke="#000" stroke-width="0.8" />
<text x="410.40" y="56.40" font-size="8.3" stroke="#000" stroke-width="0.18">100</text>
<line x1="405.60" y1="61.20" x2="408.60" y2="61.20" stroke="#000" stroke-width="0.8" />
<text x="410.40" y="64.20" font-size="8.3" stroke="#000" stroke-width="0.18">75</text>
<line x1="405.60" y1="79.20" x2="408.60" y2="79.20" stroke="#000" stroke-width="0.8" />
<text x="410.40" y="82.20" font-size="8.3" stroke="#000" stroke-width="0.18">50</text>
<line x1="405.60" y1="92.00" x2="408.60" y2="92.00" stroke="#000" stroke-width="0.8" />
<text x="410.40" y="95.00" font-size="8.3" stroke="#000" stroke-width="0.18">37</text>
<line x1="405.60" y1="105.80" x2="408.60" y2="105.80" stroke="#000" stroke-width="0.8" />
<text x="410.40" y="108.80" font-size="8.3" stroke="#000" stroke-width="0.18">25</text>
<line x1="405.60" y1="118.00" x2="408.60" y2="118.00" stroke="#000" stroke-width="0.8" />
<text x="410.40" y="121.00" font-size="8.3" stroke="#000" stroke-width="0.18">20</text>
<line x1="427.90" y1="50.40" x2="427.90" y2="153.20" stroke="#000" stroke-width="0.8" />
<text x="439.60" y="111.50" font-size="8.8" text-anchor="middle" stroke="#000" stroke-width="0.18" transform="rotate(-90 439.60 111.50)">IP : FLAG</text>
<rect x="349.40" y="135.10" width="53.00" height="19.20" fill="#f3f3f3"/>
<rect x="350.30" y="135.60" width="8.90" height="18.40" fill="#ececec"/>
<rect x="350.30" y="136.20" width="8.90" height="0.90" fill="#c4c4c4"/>
<rect x="360.60" y="135.60" width="8.60" height="18.40" fill="#ececec"/>
<rect x="360.60" y="136.20" width="8.60" height="0.90" fill="#c4c4c4"/>
<rect x="371.50" y="135.60" width="8.70" height="18.40" fill="#ececec"/>
<rect x="371.50" y="136.20" width="8.70" height="0.90" fill="#c4c4c4"/>
<rect x="381.80" y="135.60" width="8.80" height="18.40" fill="#ececec"/>
<rect x="381.80" y="136.20" width="8.80" height="0.90" fill="#c4c4c4"/>
<rect x="392.50" y="135.60" width="9.30" height="18.40" fill="#ececec"/>
<rect x="392.50" y="136.20" width="9.30" height="0.90" fill="#c4c4c4"/>
<rect x="360.40" y="141.40" width="8.40" height="6.80" fill="#5a5a5a" rx="1.5"/>
<rect x="360.40" y="141.60" width="8.40" height="2.70" fill="#050505" rx="1.2"/>
<rect x="360.40" y="145.30" width="8.40" height="2.60" fill="#0c0c0c" rx="1.2"/>
<rect x="381.80" y="141.70" width="8.80" height="6.20" fill="#8a8a8a" rx="1.5"/>
<rect x="381.80" y="142.00" width="8.80" height="2.40" fill="#2a2a2a" rx="1.1"/>
<rect x="381.80" y="145.40" width="8.80" height="2.20" fill="#383838" rx="1.1"/>
<rect x="392.50" y="141.70" width="9.30" height="6.20" fill="#8a8a8a" rx="1.5"/>
<rect x="392.50" y="142.00" width="9.30" height="2.40" fill="#2a2a2a" rx="1.1"/>
<rect x="392.50" y="145.40" width="9.30" height="2.20" fill="#383838" rx="1.1"/>
<line x1="405.80" y1="139.30" x2="409.20" y2="139.30" stroke="#000" stroke-width="0.9" />
<text x="410.40" y="142.30" font-size="8.3" stroke="#000" stroke-width="0.18">50</text>
<line x1="405.80" y1="150.00" x2="409.20" y2="150.00" stroke="#000" stroke-width="0.9" />
<text x="410.40" y="153.00" font-size="8.3" stroke="#000" stroke-width="0.18">37</text>
<rect x="347.60" y="158.70" width="57.50" height="25.00" fill="#ededed"/>
<rect x="350.30" y="164.20" width="8.90" height="0.90" fill="#d8d8d8"/>
<rect x="350.30" y="169.40" width="8.90" height="5.50" fill="#1e1e1e" rx="1.6"/>
<rect x="350.30" y="176.50" width="8.90" height="6.00" fill="#e2e2e2"/>
<rect x="360.60" y="164.20" width="8.60" height="0.90" fill="#d8d8d8"/>
<rect x="360.60" y="169.40" width="8.60" height="5.50" fill="#080808" rx="1.6"/>
<rect x="360.60" y="176.50" width="8.60" height="6.00" fill="#e2e2e2"/>
<rect x="371.50" y="164.20" width="8.70" height="0.90" fill="#d8d8d8"/>
<rect x="371.50" y="169.40" width="8.70" height="5.50" fill="#3a3a3a" rx="1.6"/>
<rect x="371.50" y="176.50" width="8.70" height="6.00" fill="#e2e2e2"/>
<rect x="381.80" y="164.20" width="8.80" height="0.90" fill="#d8d8d8"/>
<rect x="381.80" y="169.40" width="8.80" height="5.50" fill="#050505" rx="1.6"/>
<rect x="381.80" y="176.50" width="8.80" height="6.00" fill="#e2e2e2"/>
<rect x="392.50" y="164.20" width="9.30" height="0.90" fill="#d8d8d8"/>
<rect x="392.50" y="169.40" width="9.30" height="5.50" fill="#050505" rx="1.6"/>
<rect x="392.50" y="176.50" width="9.30" height="6.00" fill="#e2e2e2"/>
<line x1="405.80" y1="163.00" x2="409.20" y2="163.00" stroke="#000" stroke-width="0.9" />
<text x="410.40" y="166.00" font-size="8.3" stroke="#000" stroke-width="0.18">50</text>
<line x1="405.80" y1="176.20" x2="409.20" y2="176.20" stroke="#000" stroke-width="0.9" />
<text x="410.40" y="179.20" font-size="8.3" stroke="#000" stroke-width="0.18">37</text>
<rect x="347.20" y="187.40" width="58.00" height="16.10" fill="#eeeeee"/>
<rect x="350.60" y="195.40" width="8.30" height="3.40" fill="#050505" rx="1.5"/>
<rect x="360.90" y="195.40" width="8.00" height="3.40" fill="#101010" rx="1.5"/>
<rect x="371.80" y="195.40" width="8.10" height="3.40" fill="#050505" rx="1.5"/>
<rect x="382.10" y="195.40" width="8.20" height="3.40" fill="#151515" rx="1.5"/>
<rect x="392.80" y="195.40" width="8.70" height="3.40" fill="#202020" rx="1.5"/>
<line x1="405.80" y1="191.50" x2="409.20" y2="191.50" stroke="#000" stroke-width="0.9" />
<text x="410.40" y="194.50" font-size="8.3" stroke="#000" stroke-width="0.18">50</text>
<line x1="405.80" y1="200.50" x2="409.20" y2="200.50" stroke="#000" stroke-width="0.9" />
<text x="410.40" y="203.50" font-size="8.3" stroke="#000" stroke-width="0.18">37</text>
<line x1="427.90" y1="160.80" x2="427.90" y2="205.00" stroke="#000" stroke-width="0.8" />
<text x="439.60" y="179.20" font-size="8.4" text-anchor="middle" stroke="#000" stroke-width="0.18" transform="rotate(-90 439.60 179.20)">INPUT</text>
<text x="345.00" y="92.40" font-size="8.5" text-anchor="end" stroke="#000" stroke-width="0.18">FLAG</text>
<text x="345.00" y="147.20" font-size="8.5" text-anchor="end" stroke="#000" stroke-width="0.18">MYC</text>
<text x="345.00" y="175.30" font-size="8.5" text-anchor="end" stroke="#000" stroke-width="0.18">MYC</text>
<text x="345.00" y="195.80" font-size="8.5" text-anchor="end" stroke="#000" stroke-width="0.18">b-ACTIN</text>
<text x="0.00" y="302.00" font-size="10" stroke="#000" stroke-width="0.18" font-weight="bold">f</text>
<text x="52.20" y="316.60" font-size="8.5" text-anchor="middle" stroke="#000" stroke-width="0.18">MEILB2</text>
<text x="17.90" y="329.80" font-size="8.5" stroke="#000" stroke-width="0.18"><tspan font-family="Liberation Serif" font-size="1.05em">α</tspan>1<tspan font-family="Liberation Serif" font-size="1.05em">α</tspan>2</text>
<text x="48.50" y="329.80" font-size="8.5" fill="#4472c4" stroke="#4472c4" stroke-width="0.18">ARM repeat</text>
<text x="5.00" y="339.80" font-size="8.3" stroke="#000" stroke-width="0.18">1</text>
<rect x="12.90" y="334.30" width="73.00" height="6.20" fill="#fff" stroke="#222" stroke-width="0.8"/>
<rect x="18.70" y="334.70" width="6.20" height="5.40" fill="#7a7a7a"/>
<rect x="25.50" y="334.70" width="11.80" height="5.40" fill="#7a7a7a"/>
<line x1="25.20" y1="334.70" x2="25.20" y2="340.10" stroke="#bbb" stroke-width="0.6" />
<rect x="55.30" y="334.70" width="28.10" height="5.40" fill="#4472c4"/>
<line x1="18.70" y1="334.30" x2="18.70" y2="340.50" stroke="#222" stroke-width="0.6" />
<line x1="37.30" y1="334.30" x2="37.30" y2="340.50" stroke="#222" stroke-width="0.6" />
<line x1="55.30" y1="334.30" x2="55.30" y2="340.50" stroke="#222" stroke-width="0.6" />
<line x1="83.40" y1="334.30" x2="83.40" y2="340.50" stroke="#222" stroke-width="0.6" />
<text x="88.40" y="340.00" font-size="8.5" stroke="#000" stroke-width="0.18">338</text>
<line x1="18.70" y1="355.20" x2="36.80" y2="355.20" stroke="#000" stroke-width="1.2" />
<text x="39.30" y="358.20" font-size="8.5" stroke="#000" stroke-width="0.18"><tspan font-family="Liberation Serif" font-size="1.05em">α</tspan>1+2 (a.a. 18–122)</text>
<line x1="18.70" y1="369.10" x2="26.90" y2="369.10" stroke="#000" stroke-width="1.2" />
<text x="39.80" y="372.10" font-size="8.5" stroke="#000" stroke-width="0.18"><tspan font-family="Liberation Serif" font-size="1.05em">α</tspan>1 (a.a. 18–55)</text>
<line x1="27.40" y1="383.30" x2="37.30" y2="383.30" stroke="#000" stroke-width="1.2" />
<text x="38.60" y="386.30" font-size="8.5" stroke="#000" stroke-width="0.18"><tspan font-family="Liberation Serif" font-size="1.05em">α</tspan>2 (a.a. 51–122)</text>
<text x="113.60" y="316.60" font-size="8.5" stroke="#000" stroke-width="0.18">(kDa )</text>
<rect x="137.70" y="320.10" width="39.90" height="75.20" fill="#ececec"/>
<rect x="151.90" y="320.10" width="13.30" height="75.20" fill="#f2f2f2"/>
<line x1="133.00" y1="326.50" x2="135.70" y2="326.50" stroke="#000" stroke-width="0.8" />
<text x="130.80" y="329.50" font-size="8.3" text-anchor="end" stroke="#000" stroke-width="0.18">70</text>
<line x1="133.00" y1="336.20" x2="135.70" y2="336.20" stroke="#000" stroke-width="0.8" />
<text x="130.80" y="339.20" font-size="8.3" text-anchor="end" stroke="#000" stroke-width="0.18">55</text>
<line x1="133.00" y1="347.00" x2="135.70" y2="347.00" stroke="#000" stroke-width="0.8" />
<text x="130.80" y="350.00" font-size="8.3" text-anchor="end" stroke="#000" stroke-width="0.18">40</text>
<line x1="133.00" y1="358.80" x2="135.70" y2="358.80" stroke="#000" stroke-width="0.8" />
<text x="130.80" y="361.80" font-size="8.3" text-anchor="end" stroke="#000" stroke-width="0.18">35</text>
<line x1="133.00" y1="367.00" x2="135.70" y2="367.00" stroke="#000" stroke-width="0.8" />
<text x="130.80" y="370.00" font-size="8.3" text-anchor="end" stroke="#000" stroke-width="0.18">25</text>
<line x1="133.00" y1="383.00" x2="135.70" y2="383.00" stroke="#000" stroke-width="0.8" />
<text x="130.80" y="386.00" font-size="8.3" text-anchor="end" stroke="#000" stroke-width="0.18">15</text>
<line x1="133.00" y1="393.20" x2="135.70" y2="393.20" stroke="#000" stroke-width="0.8" />
<text x="130.80" y="396.20" font-size="8.3" text-anchor="end" stroke="#000" stroke-width="0.18">10</text>
<rect x="138.20" y="332.00" width="14.40" height="6.80" fill="#050505" rx="2.5"/>
<rect x="151.60" y="336.50" width="13.30" height="6.00" fill="#050505" rx="2.5"/>
<rect x="165.20" y="332.60" width="12.10" height="7.60" fill="#050505" rx="2.8"/>
<rect x="138.50" y="326.20" width="13.00" height="1.40" fill="#c4c4c4"/>
<rect x="153.00" y="322.00" width="11.00" height="0.80" fill="#c8c8c8"/>
<rect x="152.50" y="344.50" width="12.00" height="1.30" fill="#d4d4d4"/>
<rect x="166.50" y="341.80" width="9.00" height="1.60" fill="#b8b8b8"/>
<rect x="138.30" y="384.40" width="14.00" height="3.70" fill="#050505" rx="1.5"/>
<rect x="153.70" y="384.40" width="11.90" height="3.70" fill="#050505" rx="1.5"/>
<rect x="138.50" y="341.50" width="13.00" height="2.00" fill="#dadada"/>
<text x="148.00" y="318.00" font-size="8.3" stroke="#000" stroke-width="0.18" transform="rotate(-90 148.00 318.00)"><tspan font-family="Liberation Serif" font-size="1.05em">α</tspan>1+2</text>
<text x="160.00" y="318.00" font-size="8.3" stroke="#000" stroke-width="0.18" transform="rotate(-90 160.00 318.00)"><tspan font-family="Liberation Serif" font-size="1.05em">α</tspan>1</text>
<text x="171.30" y="318.00" font-size="8.3" stroke="#000" stroke-width="0.18" transform="rotate(-90 171.30 318.00)"><tspan font-family="Liberation Serif" font-size="1.05em">α</tspan>2</text>
<polygon points="178.60,337.00 182.90,334.40 182.90,339.60" fill="#000" stroke="none" stroke-width="1" />
<polygon points="178.60,385.70 182.90,383.20 182.90,388.20" fill="#000" stroke="none" stroke-width="1" />
<text x="188.30" y="306.00" font-size="6.6" stroke="#000" stroke-width="0.18" transform="rotate(90 188.30 306.00)">MBP</text>
<text x="185.60" y="320.30" font-size="8.8" stroke="#000" stroke-width="0.18" transform="rotate(90 185.60 320.30)">MEILB2</text>
<text x="186.30" y="365.10" font-size="8.6" stroke="#000" stroke-width="0.18" transform="rotate(90 186.30 365.10)">BRME1</text>
<text x="213.50" y="210.30" font-size="10" stroke="#000" stroke-width="0.18" font-weight="bold">g</text>
<line x1="255.90" y1="225.00" x2="255.90" y2="307.80" stroke="#000" stroke-width="0.8" />
<line x1="255.50" y1="307.40" x2="391.00" y2="307.40" stroke="#000" stroke-width="0.8" />
<line x1="253.60" y1="307.40" x2="255.90" y2="307.40" stroke="#000" stroke-width="0.8" />
<text x="252.60" y="310.40" font-size="8.5" text-anchor="end" stroke="#000" stroke-width="0.18">0</text>
<line x1="253.60" y1="291.56" x2="255.90" y2="291.56" stroke="#000" stroke-width="0.8" />
<text x="252.60" y="294.56" font-size="8.5" text-anchor="end" stroke="#000" stroke-width="0.18">20</text>
<line x1="253.60" y1="275.72" x2="255.90" y2="275.72" stroke="#000" stroke-width="0.8" />
<text x="252.60" y="278.72" font-size="8.5" text-anchor="end" stroke="#000" stroke-width="0.18">40</text>
<line x1="253.60" y1="259.88" x2="255.90" y2="259.88" stroke="#000" stroke-width="0.8" />
<text x="252.60" y="262.88" font-size="8.5" text-anchor="end" stroke="#000" stroke-width="0.18">60</text>
<line x1="253.60" y1="244.04" x2="255.90" y2="244.04" stroke="#000" stroke-width="0.8" />
<text x="252.60" y="247.04" font-size="8.5" text-anchor="end" stroke="#000" stroke-width="0.18">80</text>
<line x1="253.60" y1="228.20" x2="255.90" y2="228.20" stroke="#000" stroke-width="0.8" />
<text x="252.60" y="231.20" font-size="8.5" text-anchor="end" stroke="#000" stroke-width="0.18">100</text>
<line x1="256.80" y1="307.40" x2="256.80" y2="309.60" stroke="#000" stroke-width="0.8" />
<text x="256.80" y="320.00" font-size="8.5" text-anchor="middle" stroke="#000" stroke-width="0.18">0</text>
<line x1="270.15" y1="307.40" x2="270.15" y2="309.60" stroke="#000" stroke-width="0.8" />
<text x="270.15" y="320.00" font-size="8.5" text-anchor="middle" stroke="#000" stroke-width="0.18">10</text>
<line x1="283.50" y1="307.40" x2="283.50" y2="309.60" stroke="#000" stroke-width="0.8" />
<text x="283.50" y="320.00" font-size="8.5" text-anchor="middle" stroke="#000" stroke-width="0.18">20</text>
<line x1="296.85" y1="307.40" x2="296.85" y2="309.60" stroke="#000" stroke-width="0.8" />
<text x="296.85" y="320.00" font-size="8.5" text-anchor="middle" stroke="#000" stroke-width="0.18">30</text>
<line x1="310.20" y1="307.40" x2="310.20" y2="309.60" stroke="#000" stroke-width="0.8" />
<text x="310.20" y="320.00" font-size="8.5" text-anchor="middle" stroke="#000" stroke-width="0.18">40</text>
<line x1="323.55" y1="307.40" x2="323.55" y2="309.60" stroke="#000" stroke-width="0.8" />
<text x="323.55" y="320.00" font-size="8.5" text-anchor="middle" stroke="#000" stroke-width="0.18">50</text>
<line x1="336.90" y1="307.40" x2="336.90" y2="309.60" stroke="#000" stroke-width="0.8" />
<text x="336.90" y="320.00" font-size="8.5" text-anchor="middle" stroke="#000" stroke-width="0.18">60</text>
<line x1="350.25" y1="307.40" x2="350.25" y2="309.60" stroke="#000" stroke-width="0.8" />
<text x="350.25" y="320.00" font-size="8.5" text-anchor="middle" stroke="#000" stroke-width="0.18">70</text>
<line x1="363.60" y1="307.40" x2="363.60" y2="309.60" stroke="#000" stroke-width="0.8" />
<text x="363.60" y="320.00" font-size="8.5" text-anchor="middle" stroke="#000" stroke-width="0.18">80</text>
<line x1="376.95" y1="307.40" x2="376.95" y2="309.60" stroke="#000" stroke-width="0.8" />
<text x="376.95" y="320.00" font-size="8.5" text-anchor="middle" stroke="#000" stroke-width="0.18">90</text>
<line x1="390.30" y1="307.40" x2="390.30" y2="309.60" stroke="#000" stroke-width="0.8" />
<text x="390.30" y="320.00" font-size="8.5" text-anchor="middle" stroke="#000" stroke-width="0.18">100</text>
<text x="325.60" y="333.20" font-size="8.6" text-anchor="middle" stroke="#000" stroke-width="0.18">Temperature °C</text>
<text x="222.00" y="272.60" font-size="8.6" text-anchor="middle" stroke="#000" stroke-width="0.18" transform="rotate(-90 222.00 272.60)">% unfolded</text>
<text x="233.6" y="269.5" font-size="9.2" text-anchor="middle" transform="rotate(-90 233.6 269.5)">([θ]<tspan font-size="5.8" dy="2.2" font-style="italic">222,x</tspan><tspan dy="-2.2">–[θ]</tspan><tspan font-size="5.8" dy="2.2" font-style="italic">222,5</tspan><tspan dy="-2.2">)/([θ]</tspan><tspan font-size="5.8" dy="2.2" font-style="italic">222,95</tspan><tspan dy="-2.2">–[θ]</tspan><tspan font-size="5.8" dy="2.2" font-style="italic">222,5</tspan><tspan dy="-2.2">)</tspan></text>
<polyline points="263.48,307.40 263.99,306.83 264.51,306.32 265.03,305.78 265.55,305.15 266.07,304.37 266.58,303.24 267.10,301.61 267.62,299.57 268.14,297.24 268.66,294.74 269.17,292.18 269.69,289.68 270.21,287.34 270.73,285.06 271.25,282.75 271.77,280.41 272.28,278.05 272.80,275.66 273.32,273.27 273.84,270.86 274.36,268.43 274.87,265.88 275.39,263.27 275.91,260.72 276.43,258.34 276.95,256.25 277.47,254.32 277.98,252.48 278.50,250.74 279.02,249.09 279.54,247.53 280.06,246.06 280.57,244.68 281.09,243.39 281.61,242.14 282.13,240.96 282.65,239.89 283.16,238.98 283.68,238.26 284.20,237.63 284.72,237.05 285.24,236.51 285.76,236.01 286.27,235.56 286.79,235.14 287.31,234.75 287.83,234.38 288.35,234.05 288.86,233.73 289.38,233.43 289.90,233.15 290.42,232.88 290.94,232.62 291.46,232.38 291.97,232.16 292.49,231.95 293.01,231.75 293.53,231.57 294.05,231.41 294.56,231.25 295.08,231.11 295.60,230.96 296.12,230.82 296.64,230.68 297.15,230.55 297.67,230.42 298.19,230.29 298.71,230.18 299.23,230.06 299.75,229.96 300.26,229.86 300.78,229.76 301.30,229.68 301.82,229.60 302.34,229.52 302.85,229.46 303.37,229.40 303.89,229.35 304.41,229.31 304.93,229.26 305.45,229.22 305.96,229.17 306.48,229.13 307.00,229.09 307.52,229.06 308.04,229.02 308.55,228.98 309.07,228.95 309.59,228.92 310.11,228.89 310.63,228.86 311.14,228.83 311.66,228.80 312.18,228.78 312.70,228.75 313.22,228.73 313.74,228.71 314.25,228.69 314.77,228.67 315.29,228.65 315.81,228.63 316.33,228.61 316.84,228.60 317.36,228.58 317.88,228.57 318.40,228.55 318.92,228.53 319.44,228.52 319.95,228.50 320.47,228.49 320.99,228.47 321.51,228.46 322.03,228.44 322.54,228.43 323.06,228.42 323.58,228.40 324.10,228.39 324.62,228.37 325.13,228.36 325.65,228.35 326.17,228.34 326.69,228.33 327.21,228.31 327.73,228.30 328.24,228.29 328.76,228.28 329.28,228.27 329.80,228.26 330.32,228.26 330.83,228.25 331.35,228.24 331.87,228.23 332.39,228.23 332.91,228.22 333.43,228.22 333.94,228.21 334.46,228.21 334.98,228.21 335.50,228.20 336.02,228.20 336.53,228.20 337.05,228.20 337.57,228.20 338.09,228.20 338.61,228.20 339.12,228.20 339.64,228.20 340.16,228.20 340.68,228.20 341.20,228.20 341.72,228.20 342.23,228.20 342.75,228.20 343.27,228.20 343.79,228.20 344.31,228.20 344.82,228.20 345.34,228.20 345.86,228.20 346.38,228.20 346.90,228.20 347.42,228.20 347.93,228.20 348.45,228.20 348.97,228.20 349.49,228.20 350.01,228.20 350.52,228.20 351.04,228.20 351.56,228.20 352.08,228.20 352.60,228.20 353.12,228.20 353.63,228.20 354.15,228.20 354.67,228.20 355.19,228.20 355.71,228.20 356.22,228.20 356.74,228.20 357.26,228.20 357.78,228.20 358.30,228.20 358.81,228.20 359.33,228.20 359.85,228.20 360.37,228.20 360.89,228.20 361.41,228.20 361.92,228.20 362.44,228.20 362.96,228.20 363.48,228.20 364.00,228.20 364.51,228.20 365.03,228.20 365.55,228.20 366.07,228.20 366.59,228.20 367.11,228.20 367.62,228.20 368.14,228.20 368.66,228.20 369.18,228.20 369.70,228.20 370.21,228.20 370.73,228.20 371.25,228.20 371.77,228.20 372.29,228.20 372.80,228.20 373.32,228.20 373.84,228.20 374.36,228.20 374.88,228.20 375.40,228.20 375.91,228.20 376.43,228.20 376.95,228.20" stroke="#c8c8c8" stroke-width="1.5" fill="none" stroke-linejoin="round" stroke-linecap="round" />
<polyline points="263.48,307.40 264.02,307.28 264.56,307.16 265.10,307.05 265.65,306.94 266.19,306.83 266.73,306.72 267.27,306.60 267.82,306.48 268.36,306.35 268.90,306.20 269.44,306.05 269.99,305.87 270.53,305.68 271.07,305.45 271.61,305.18 272.16,304.89 272.70,304.57 273.24,304.23 273.78,303.86 274.33,303.47 274.87,303.06 275.41,302.63 275.95,302.19 276.50,301.74 277.04,301.27 277.58,300.78 278.12,300.25 278.67,299.68 279.21,299.08 279.75,298.44 280.29,297.78 280.84,297.07 281.38,296.34 281.92,295.57 282.46,294.77 283.01,293.93 283.55,293.06 284.09,292.13 284.63,291.09 285.18,289.98 285.72,288.78 286.26,287.52 286.80,286.21 287.35,284.84 287.89,283.41 288.43,281.85 288.97,280.20 289.52,278.46 290.06,276.66 290.60,274.84 291.14,273.00 291.69,271.15 292.23,269.17 292.77,267.11 293.31,265.09 293.86,263.24 294.40,261.64 294.94,260.19 295.48,258.86 296.03,257.62 296.57,256.47 297.11,255.42 297.65,254.41 298.20,253.47 298.74,252.61 299.28,251.86 299.82,251.21 300.37,250.62 300.91,250.08 301.45,249.57 301.99,249.11 302.54,248.68 303.08,248.29 303.62,247.94 304.17,247.61 304.71,247.30 305.25,247.02 305.79,246.74 306.34,246.49 306.88,246.24 307.42,246.00 307.96,245.77 308.51,245.55 309.05,245.32 309.59,245.09 310.13,244.86 310.68,244.63 311.22,244.39 311.76,244.16 312.30,243.94 312.85,243.71 313.39,243.49 313.93,243.27 314.47,243.05 315.02,242.84 315.56,242.63 316.10,242.42 316.64,242.22 317.19,242.02 317.73,241.83 318.27,241.64 318.81,241.46 319.36,241.28 319.90,241.10 320.44,240.93 320.98,240.76 321.53,240.60 322.07,240.43 322.61,240.27 323.15,240.11 323.70,239.95 324.24,239.79 324.78,239.64 325.32,239.48 325.87,239.33 326.41,239.18 326.95,239.03 327.49,238.87 328.04,238.72 328.58,238.57 329.12,238.42 329.66,238.26 330.21,238.11 330.75,237.95 331.29,237.79 331.83,237.63 332.38,237.47 332.92,237.31 333.46,237.15 334.00,236.99 334.55,236.82 335.09,236.66 335.63,236.50 336.17,236.33 336.72,236.17 337.26,236.01 337.80,235.84 338.34,235.68 338.89,235.52 339.43,235.36 339.97,235.20 340.51,235.04 341.06,234.88 341.60,234.72 342.14,234.56 342.69,234.41 343.23,234.25 343.77,234.10 344.31,233.95 344.86,233.80 345.40,233.65 345.94,233.51 346.48,233.37 347.03,233.23 347.57,233.09 348.11,232.95 348.65,232.82 349.20,232.69 349.74,232.57 350.28,232.44 350.82,232.32 351.37,232.21 351.91,232.09 352.45,231.98 352.99,231.87 353.54,231.75 354.08,231.64 354.62,231.53 355.16,231.42 355.71,231.31 356.25,231.20 356.79,231.09 357.33,230.98 357.88,230.87 358.42,230.77 358.96,230.67 359.50,230.56 360.05,230.46 360.59,230.36 361.13,230.27 361.67,230.17 362.22,230.08 362.76,229.99 363.30,229.90 363.84,229.81 364.39,229.73 364.93,229.64 365.47,229.56 366.01,229.49 366.56,229.41 367.10,229.34 367.64,229.27 368.18,229.21 368.73,229.15 369.27,229.09 369.81,229.04 370.35,228.98 370.90,228.94 371.44,228.89 371.98,228.85 372.52,228.80 373.07,228.77 373.61,228.73 374.15,228.69 374.69,228.65 375.24,228.62 375.78,228.59 376.32,228.55 376.86,228.52 377.41,228.49 377.95,228.46 378.49,228.43 379.03,228.40 379.58,228.37 380.12,228.33 380.66,228.30 381.20,228.27 381.75,228.24 382.29,228.20" stroke="#8f8fe6" stroke-width="1.5" fill="none" stroke-linejoin="round" stroke-linecap="round" />
<polyline points="262.14,307.27 262.69,306.90 263.24,307.11 263.79,306.72 264.33,306.65 264.88,306.76 265.43,306.57 265.98,306.63 266.53,306.26 267.08,306.37 267.63,305.99 268.17,306.00 268.72,306.11 269.27,306.17 269.82,306.08 270.37,305.67 270.92,305.46 271.47,305.56 272.02,305.37 272.56,305.56 273.11,305.62 273.66,305.35 274.21,305.27 274.76,305.13 275.31,304.86 275.86,305.09 276.40,304.92 276.95,304.45 277.50,304.35 278.05,304.77 278.60,304.41 279.15,304.21 279.70,304.23 280.24,304.30 280.79,304.04 281.34,303.56 281.89,303.71 282.44,303.52 282.99,303.27 283.54,303.22 284.09,303.39 284.63,303.54 285.18,303.12 285.73,302.64 286.28,302.38 286.83,302.12 287.38,302.35 287.93,301.88 288.47,301.81 289.02,301.53 289.57,301.58 290.12,301.31 290.67,300.84 291.22,300.79 291.77,300.14 292.31,299.42 292.86,299.16 293.41,298.85 293.96,298.12 294.51,297.90 295.06,297.01 295.61,296.97 296.16,296.16 296.70,295.49 297.25,295.35 297.80,294.28 298.35,294.07 298.90,293.16 299.45,292.80 300.00,291.79 300.54,291.08 301.09,290.07 301.64,288.76 302.19,288.06 302.74,286.76 303.29,285.71 303.84,285.22 304.38,284.45 304.93,283.62 305.48,282.33 306.03,281.10 306.58,280.75 307.13,279.67 307.68,278.75 308.22,278.07 308.77,277.23 309.32,276.34 309.87,276.22 310.42,275.67 310.97,274.88 311.52,274.24 312.07,273.16 312.61,272.62 313.16,272.29 313.71,271.32 314.26,270.70 314.81,270.63 315.36,269.75 315.91,269.13 316.45,269.13 317.00,268.09 317.55,267.50 318.10,267.71 318.65,267.32 319.20,266.65 319.75,265.91 320.29,265.25 320.84,265.25 321.39,264.56 321.94,264.64 322.49,263.74 323.04,263.39 323.59,263.41 324.14,262.51 324.68,262.10 325.23,261.97 325.78,262.04 326.33,261.05 326.88,260.92 327.43,260.98 327.98,260.65 328.52,260.43 329.07,260.06 329.62,259.93 330.17,259.28 330.72,259.05 331.27,259.36 331.82,258.44 332.36,258.44 332.91,258.03 333.46,257.87 334.01,257.83 334.56,257.35 335.11,256.93 335.66,257.25 336.21,256.59 336.75,256.57 337.30,256.38 337.85,256.18 338.40,255.70 338.95,255.82 339.50,255.10 340.05,254.86 340.59,255.18 341.14,254.26 341.69,254.47 342.24,253.99 342.79,253.55 343.34,253.39 343.89,253.32 344.43,252.30 344.98,252.46 345.53,252.06 346.08,251.21 346.63,251.18 347.18,250.36 347.73,250.11 348.27,250.05 348.82,249.85 349.37,248.70 349.92,248.96 350.47,248.04 351.02,247.79 351.57,247.14 352.12,246.76 352.66,246.35 353.21,246.02 353.76,245.33 354.31,245.43 354.86,244.87 355.41,244.04 355.96,243.89 356.50,243.22 357.05,242.86 357.60,242.36 358.15,241.99 358.70,241.26 359.25,241.10 359.80,240.29 360.34,240.09 360.89,239.52 361.44,238.97 361.99,238.15 362.54,237.37 363.09,236.19 363.64,235.18 364.19,234.86 364.73,234.18 365.28,233.42 365.83,232.71 366.38,232.00 366.93,231.88 367.48,231.62 368.03,231.35 368.57,230.90 369.12,230.39 369.67,230.11 370.22,229.92 370.77,229.60 371.32,229.48 371.87,229.15 372.41,229.09 372.96,228.91 373.51,228.92 374.06,228.64 374.61,228.64 375.16,228.47 375.71,228.49 376.26,228.48 376.80,228.45 377.35,228.48 377.90,228.48 378.45,228.25 379.00,228.33 379.55,228.23 380.10,228.31 380.64,228.37 381.19,228.22 381.74,228.33 382.29,228.28" stroke="#1a1f5e" stroke-width="1.7" fill="none" stroke-linejoin="round" stroke-linecap="round" />
<polyline points="262.14,307.31 262.69,307.60 263.24,306.53 263.79,307.69 264.33,306.68 264.88,306.82 265.43,306.47 265.98,307.19 266.53,306.68 267.08,306.70 267.63,306.63 268.17,305.95 268.72,305.69 269.27,306.60 269.82,306.08 270.37,306.03 270.92,305.79 271.47,305.43 272.02,306.43 272.56,306.38 273.11,305.68 273.66,306.35 274.21,306.28 274.76,306.38 275.31,306.44 275.86,305.75 276.40,305.51 276.95,305.89 277.50,305.94 278.05,305.22 278.60,305.18 279.15,305.49 279.70,305.11 280.24,304.73 280.79,304.87 281.34,305.06 281.89,304.96 282.44,304.51 282.99,305.18 283.54,304.96 284.09,304.75 284.63,304.31 285.18,304.37 285.73,305.37 286.28,305.17 286.83,304.89 287.38,304.19 287.93,304.37 288.47,304.69 289.02,304.85 289.57,303.96 290.12,303.87 290.67,303.44 291.22,303.99 291.77,303.91 292.31,304.42 292.86,304.39 293.41,303.75 293.96,303.83 294.51,303.85 295.06,303.99 295.61,302.67 296.16,302.77 296.70,303.07 297.25,302.45 297.80,302.31 298.35,302.70 298.90,303.21 299.45,303.47 300.00,302.38 300.54,302.72 301.09,302.41 301.64,301.97 302.19,302.96 302.74,302.33 303.29,302.21 303.84,302.37 304.38,302.89 304.93,302.48 305.48,302.45 306.03,301.93 306.58,301.62 307.13,302.33 307.68,301.77 308.22,302.30 308.77,301.33 309.32,301.47 309.87,301.80 310.42,301.90 310.97,302.05 311.52,302.00 312.07,301.03 312.61,301.79 313.16,301.59 313.71,300.86 314.26,301.28 314.81,301.39 315.36,301.52 315.91,301.78 316.45,301.47 317.00,300.85 317.55,300.97 318.10,300.71 318.65,301.43 319.20,300.86 319.75,300.23 320.29,300.84 320.84,300.38 321.39,301.10 321.94,299.78 322.49,300.19 323.04,300.61 323.59,300.60 324.14,299.92 324.68,299.79 325.23,300.31 325.78,298.89 326.33,298.86 326.88,299.35 327.43,299.68 327.98,298.48 328.52,298.77 329.07,298.25 329.62,298.34 330.17,298.46 330.72,297.43 331.27,296.99 331.82,297.80 332.36,297.11 332.91,297.10 333.46,296.08 334.01,296.41 334.56,295.61 335.11,295.36 335.66,295.92 336.21,294.89 336.75,295.12 337.30,294.05 337.85,294.32 338.40,293.52 338.95,293.91 339.50,293.49 340.05,292.65 340.59,291.60 341.14,291.82 341.69,291.78 342.24,290.66 342.79,290.34 343.34,289.43 343.89,288.80 344.43,288.26 344.98,287.76 345.53,287.22 346.08,285.71 346.63,285.05 347.18,284.66 347.73,282.97 348.27,283.06 348.82,281.08 349.37,280.11 349.92,278.87 350.47,278.32 351.02,276.73 351.57,275.30 352.12,273.87 352.66,273.35 353.21,272.77 353.76,270.85 354.31,269.41 354.86,267.64 355.41,266.19 355.96,265.24 356.50,263.39 357.05,261.65 357.60,259.39 358.15,257.99 358.70,255.83 359.25,254.69 359.80,252.40 360.34,249.90 360.89,249.13 361.44,247.05 361.99,245.56 362.54,243.77 363.09,242.33 363.64,240.94 364.19,240.31 364.73,239.18 365.28,237.48 365.83,236.36 366.38,235.21 366.93,235.48 367.48,234.56 368.03,232.90 368.57,231.62 369.12,230.69 369.67,230.36 370.22,230.24 370.77,230.05 371.32,229.50 371.87,229.10 372.41,229.04 372.96,228.73 373.51,228.50 374.06,228.80 374.61,228.47 375.16,228.69 375.71,228.67 376.26,228.79 376.80,228.65 377.35,228.66 377.90,228.60 378.45,228.90 379.00,228.97 379.55,228.67 380.10,228.81 380.64,229.01 381.19,228.75 381.74,229.12 382.29,229.01" stroke="#c62828" stroke-width="1.7" fill="none" stroke-linejoin="round" stroke-linecap="round" />
<line x1="372.40" y1="241.20" x2="386.20" y2="241.20" stroke="#1a1f5e" stroke-width="1.4" />
<text x="389.00" y="237.30" font-size="8.5" fill="#1a1f5e" stroke="#1a1f5e" stroke-width="0.18"><tspan font-family="Liberation Serif" font-size="1.05em">α</tspan>1+2+BRME1</text>
<text x="389.0" y="244.8" font-size="6.9" fill="#1a1f5e"><tspan font-style="italic">Tm</tspan> = 50 °C</text>
<line x1="372.40" y1="260.00" x2="386.20" y2="260.00" stroke="#c62828" stroke-width="1.4" />
<text x="389.00" y="259.40" font-size="8.5" fill="#e42020" stroke="#e42020" stroke-width="0.18"><tspan font-family="Liberation Serif" font-size="1.05em">α</tspan>1+BRME1</text>
<text x="389.0" y="267.2" font-size="6.9" fill="#e42020"><tspan font-style="italic">Tm</tspan> = 74 °C</text>
<line x1="372.40" y1="280.40" x2="386.20" y2="280.40" stroke="#8f8fe6" stroke-width="1.4" />
<text x="389.00" y="276.50" font-size="8.5" fill="#a98ee6" stroke="#a98ee6" stroke-width="0.18"><tspan font-family="Liberation Serif" font-size="1.05em">α</tspan>1+2</text>
<text x="389.0" y="284.0" font-size="6.9" fill="#a98ee6"><tspan font-style="italic">Tm</tspan> = 29 °C</text>
<line x1="372.40" y1="295.90" x2="386.20" y2="295.90" stroke="#c8c8c8" stroke-width="1.4" />
<text x="389.00" y="297.20" font-size="8.5" fill="#999" stroke="#999" stroke-width="0.18"><tspan font-family="Liberation Serif" font-size="1.05em">α</tspan>2</text>
<text x="389.0" y="303.1" font-size="6.9" fill="#999"><tspan font-style="italic">Tm</tspan> = 14 °C</text>
<text x="0.00" y="424.70" font-size="10" stroke="#000" stroke-width="0.18" font-weight="bold">h</text>
<line x1="29.40" y1="433.00" x2="29.40" y2="515.70" stroke="#000" stroke-width="0.8" />
<line x1="29.00" y1="515.70" x2="134.50" y2="515.70" stroke="#999" stroke-width="1.0" />
<line x1="134.50" y1="433.00" x2="134.50" y2="515.70" stroke="#777" stroke-width="0.8" />
<line x1="27.20" y1="433.80" x2="29.40" y2="433.80" stroke="#000" stroke-width="0.8" />
<text x="26.20" y="436.80" font-size="8.5" text-anchor="end" stroke="#000" stroke-width="0.18">100</text>
<line x1="27.20" y1="461.10" x2="29.40" y2="461.10" stroke="#000" stroke-width="0.8" />
<text x="26.20" y="464.10" font-size="8.5" text-anchor="end" stroke="#000" stroke-width="0.18">80</text>
<line x1="27.20" y1="488.70" x2="29.40" y2="488.70" stroke="#000" stroke-width="0.8" />
<text x="26.20" y="491.70" font-size="8.5" text-anchor="end" stroke="#000" stroke-width="0.18">40</text>
<line x1="27.20" y1="515.70" x2="29.40" y2="515.70" stroke="#000" stroke-width="0.8" />
<text x="26.20" y="518.70" font-size="8.5" text-anchor="end" stroke="#000" stroke-width="0.18">0</text>
<line x1="29.80" y1="515.70" x2="29.80" y2="517.90" stroke="#000" stroke-width="0.8" />
<text x="30.40" y="526.70" font-size="8.5" text-anchor="middle" stroke="#000" stroke-width="0.18">10</text>
<line x1="50.20" y1="515.70" x2="50.20" y2="517.90" stroke="#000" stroke-width="0.8" />
<text x="50.80" y="526.70" font-size="8.5" text-anchor="middle" stroke="#000" stroke-width="0.18">11</text>
<line x1="70.60" y1="515.70" x2="70.60" y2="517.90" stroke="#000" stroke-width="0.8" />
<text x="71.20" y="526.70" font-size="8.5" text-anchor="middle" stroke="#000" stroke-width="0.18">12</text>
<line x1="91.00" y1="515.70" x2="91.00" y2="517.90" stroke="#000" stroke-width="0.8" />
<text x="91.60" y="526.70" font-size="8.5" text-anchor="middle" stroke="#000" stroke-width="0.18">13</text>
<line x1="111.40" y1="515.70" x2="111.40" y2="517.90" stroke="#000" stroke-width="0.8" />
<text x="112.00" y="526.70" font-size="8.5" text-anchor="middle" stroke="#000" stroke-width="0.18">14</text>
<line x1="131.80" y1="515.70" x2="131.80" y2="517.90" stroke="#000" stroke-width="0.8" />
<text x="132.40" y="526.70" font-size="8.5" text-anchor="middle" stroke="#000" stroke-width="0.18">15</text>
<line x1="134.50" y1="433.80" x2="136.70" y2="433.80" stroke="#777" stroke-width="0.8" />
<text x="137.90" y="437.80" font-size="8.5" stroke="#000" stroke-width="0.18">1.0</text>
<line x1="134.50" y1="474.60" x2="136.70" y2="474.60" stroke="#777" stroke-width="0.8" />
<text x="137.90" y="477.80" font-size="8.5" stroke="#000" stroke-width="0.18">0.5</text>
<line x1="134.50" y1="515.40" x2="136.70" y2="515.40" stroke="#777" stroke-width="0.8" />
<text x="137.90" y="518.60" font-size="8.5" stroke="#000" stroke-width="0.18">0</text>
<text x="155.60" y="476.20" font-size="9.8" text-anchor="middle" stroke="#000" stroke-width="0.18" transform="rotate(90 155.60 476.20)">dRI</text>
<text x="8.00" y="475.00" font-size="8.5" text-anchor="middle" stroke="#000" stroke-width="0.18" transform="rotate(-90 8.00 475.00)">Molecular weight (kDa)</text>
<text x="42.50" y="539.80" font-size="8.7" stroke="#000" stroke-width="0.18">Elution volume (ml)</text>
<polyline points="29.40,515.40 29.88,514.81 30.35,514.28 30.83,513.77 31.31,513.27 31.78,512.75 32.26,512.18 32.74,511.55 33.22,510.83 33.69,509.99 34.17,508.99 34.65,507.63 35.12,505.93 35.60,503.95 36.08,501.75 36.55,499.37 37.03,496.87 37.51,494.12 37.98,490.52 38.46,486.50 38.94,482.59 39.41,479.30 39.89,477.06 40.37,475.06 40.85,473.22 41.32,471.66 41.80,470.56 42.28,470.05 42.75,470.41 43.23,471.85 43.71,474.04 44.18,476.70 44.66,479.50 45.14,482.14 45.61,484.59 46.09,487.36 46.57,490.31 47.05,493.26 47.52,496.04 48.00,498.50 48.48,500.44 48.95,501.94 49.43,503.31 49.91,504.52 50.38,505.51 50.86,506.24 51.34,506.71 51.81,507.11 52.29,507.46 52.77,507.75 53.25,508.00 53.72,508.19 54.20,508.35 54.68,508.47 55.15,508.58 55.63,508.68 56.11,508.78 56.58,508.86 57.06,508.94 57.54,509.01 58.01,509.08 58.49,509.13 58.97,509.18 59.44,509.22 59.92,509.26 60.40,509.29 60.88,509.31 61.35,509.34 61.83,509.36 62.31,509.38 62.78,509.40 63.26,509.42 63.74,509.44 64.21,509.46 64.69,509.47 65.17,509.49 65.64,509.50 66.12,509.51 66.60,509.52 67.08,509.52 67.55,509.52 68.03,509.52 68.51,509.52 68.98,509.52 69.46,509.51 69.94,509.50 70.41,509.49 70.89,509.48 71.37,509.46 71.84,509.44 72.32,509.42 72.80,509.40 73.28,509.38 73.75,509.35 74.23,509.32 74.71,509.29 75.18,509.26 75.66,509.18 76.14,509.07 76.61,508.93 77.09,508.77 77.57,508.59 78.04,508.40 78.52,508.20 79.00,508.00 79.47,507.80 79.95,507.62 80.43,507.46 80.91,507.30 81.38,507.12 81.86,506.89 82.34,506.59 82.81,506.00 83.29,504.99 83.77,503.63 84.24,502.02 84.72,500.24 85.20,498.33 85.67,495.87 86.15,492.89 86.63,489.57 87.11,485.88 87.58,481.60 88.06,476.78 88.54,470.90 89.01,463.96 89.49,457.31 89.97,452.03 90.44,447.15 90.92,442.83 91.40,439.63 91.87,437.80 92.35,436.34 92.83,435.23 93.31,434.66 93.78,434.75 94.26,435.39 94.74,436.40 95.21,437.60 95.69,439.14 96.17,441.42 96.64,444.09 97.12,446.74 97.60,449.22 98.07,451.75 98.55,454.33 99.03,456.95 99.50,459.62 99.98,462.33 100.46,465.22 100.94,468.38 101.41,471.64 101.89,474.78 102.37,477.60 102.84,479.92 103.32,481.73 103.80,483.39 104.27,484.93 104.75,486.36 105.23,487.67 105.70,488.88 106.18,489.99 106.66,491.01 107.14,491.94 107.61,492.79 108.09,493.60 108.57,494.36 109.04,495.07 109.52,495.75 110.00,496.40 110.47,497.00 110.95,497.57 111.43,498.11 111.90,498.62 112.38,499.10 112.86,499.55 113.34,499.98 113.81,500.38 114.29,500.78 114.77,501.15 115.24,501.52 115.72,501.87 116.20,502.20 116.67,502.53 117.15,502.84 117.63,503.15 118.10,503.44 118.58,503.72 119.06,504.00 119.53,504.27 120.01,504.53 120.49,504.78 120.97,505.03 121.44,505.28 121.92,505.52 122.40,505.75 122.87,505.98 123.35,506.20 123.83,506.42 124.30,506.63 124.78,506.83 125.26,507.03 125.73,507.22 126.21,507.41 126.69,507.60 127.17,507.78 127.64,507.96 128.12,508.14 128.60,508.31 129.07,508.49 129.55,508.66 130.03,508.83 130.50,509.00 130.98,509.18 131.46,509.35 131.93,509.53 132.41,509.71 132.89,509.89 133.37,510.07 133.84,510.26" stroke="#9494ec" stroke-width="1.35" fill="none" stroke-linejoin="round" stroke-linecap="round" />
<polyline points="29.40,515.40 29.88,515.40 30.35,515.40 30.83,515.40 31.31,515.40 31.78,515.40 32.26,515.40 32.74,515.40 33.22,515.40 33.69,515.40 34.17,515.40 34.65,515.40 35.12,515.40 35.60,515.40 36.08,515.40 36.55,515.40 37.03,515.40 37.51,515.40 37.98,515.40 38.46,515.40 38.94,515.40 39.41,515.40 39.89,515.40 40.37,515.40 40.85,515.40 41.32,515.40 41.80,515.40 42.28,515.40 42.75,515.40 43.23,515.40 43.71,515.40 44.18,515.40 44.66,515.40 45.14,515.40 45.61,515.40 46.09,515.40 46.57,515.40 47.05,515.40 47.52,515.40 48.00,515.40 48.48,515.40 48.95,515.40 49.43,515.40 49.91,515.40 50.38,515.40 50.86,515.40 51.34,515.40 51.81,515.40 52.29,515.40 52.77,515.40 53.25,515.40 53.72,515.40 54.20,515.40 54.68,515.40 55.15,515.40 55.63,515.40 56.11,515.40 56.58,515.40 57.06,515.40 57.54,515.40 58.01,515.40 58.49,515.40 58.97,515.40 59.44,515.40 59.92,515.40 60.40,515.40 60.88,515.40 61.35,515.40 61.83,515.40 62.31,515.40 62.78,515.40 63.26,515.40 63.74,515.40 64.21,515.40 64.69,515.40 65.17,515.40 65.64,515.40 66.12,515.40 66.60,515.40 67.08,515.40 67.55,515.40 68.03,515.40 68.51,515.40 68.98,515.40 69.46,515.40 69.94,515.40 70.41,515.40 70.89,515.40 71.37,515.40 71.84,515.40 72.32,515.40 72.80,515.40 73.28,515.40 73.75,515.40 74.23,515.40 74.71,515.40 75.18,515.40 75.66,515.40 76.14,515.40 76.61,515.40 77.09,515.40 77.57,515.40 78.04,515.40 78.52,515.40 79.00,515.40 79.47,515.34 79.95,515.21 80.43,515.02 80.91,514.77 81.38,514.47 81.86,514.12 82.34,513.73 82.81,513.29 83.29,512.82 83.77,512.12 84.24,511.11 84.72,509.79 85.20,508.15 85.67,506.18 86.15,503.78 86.63,499.03 87.11,492.08 87.58,484.26 88.06,476.93 88.54,470.25 89.01,463.46 89.49,457.21 89.97,452.03 90.44,447.15 90.92,442.83 91.40,439.63 91.87,437.80 92.35,436.34 92.83,435.23 93.31,434.66 93.78,434.75 94.26,435.39 94.74,436.40 95.21,437.60 95.69,439.13 96.17,441.41 96.64,444.07 97.12,446.74 97.60,449.26 98.07,451.84 98.55,454.49 99.03,457.19 99.50,459.94 99.98,462.73 100.46,465.60 100.94,468.62 101.41,471.69 101.89,474.76 102.37,477.74 102.84,480.57 103.32,483.27 103.80,485.98 104.27,488.63 104.75,491.14 105.23,493.42 105.70,495.38 106.18,497.04 106.66,498.61 107.14,500.09 107.61,501.48 108.09,502.77 108.57,503.97 109.04,505.06 109.52,506.04 110.00,506.90 110.47,507.66 110.95,508.34 111.43,508.96 111.90,509.53 112.38,510.05 112.86,510.51 113.34,510.92 113.81,511.29 114.29,511.61 114.77,511.91 115.24,512.19 115.72,512.45 116.20,512.68 116.67,512.89 117.15,513.07 117.63,513.21 118.10,513.34 118.58,513.47 119.06,513.59 119.53,513.70 120.01,513.80 120.49,513.90 120.97,513.99 121.44,514.07 121.92,514.15 122.40,514.22 122.87,514.28 123.35,514.34 123.83,514.39 124.30,514.43 124.78,514.48 125.26,514.51 125.73,514.55 126.21,514.58 126.69,514.62 127.17,514.65 127.64,514.67 128.12,514.70 128.60,514.73 129.07,514.75 129.55,514.77 130.03,514.80 130.50,514.82 130.98,514.84 131.46,514.87 131.93,514.89 132.41,514.91 132.89,514.94 133.37,514.96 133.84,514.99" stroke="#1a1f5e" stroke-width="1.6" fill="none" stroke-linejoin="round" stroke-linecap="round" />
<polyline points="88.20,481.90 92.00,481.40 96.00,481.50 100.70,481.90" stroke="#1a1f5e" stroke-width="1.7" fill="none" stroke-linejoin="round" stroke-linecap="round" />
<polyline points="88.60,494.40 90.00,493.60 91.50,493.90 93.00,493.00 94.50,493.90 96.00,493.20 97.50,494.20 99.00,494.60 100.80,495.50" stroke="#8a8ae6" stroke-width="1.5" fill="none" stroke-linejoin="round" stroke-linecap="round" />
<polyline points="38.20,447.30 39.50,448.60 41.00,448.30 42.50,449.80 44.00,449.50 45.60,451.30 47.40,451.90" stroke="#8a8ae6" stroke-width="1.8" fill="none" stroke-linejoin="round" stroke-linecap="round" />
<text x="35.00" y="433.40" font-size="8.5" fill="#a48de8" stroke="#a48de8" stroke-width="0.18"><tspan font-family="Liberation Serif" font-size="1.05em">α</tspan>1+2</text>
<text x="63.30" y="448.60" font-size="6.9" text-anchor="middle" fill="#a48de8" stroke="#a48de8" stroke-width="0.18">97 kDa</text>
<text x="63.30" y="457.60" font-size="6.9" text-anchor="middle" fill="#a48de8" stroke="#a48de8" stroke-width="0.18">octamer</text>
<text x="71.00" y="487.50" font-size="6.9" text-anchor="middle" fill="#a48de8" stroke="#a48de8" stroke-width="0.18">32 kDa</text>
<text x="71.00" y="496.60" font-size="6.9" text-anchor="middle" fill="#a48de8" stroke="#a48de8" stroke-width="0.18">dimer</text>
<text x="74.50" y="432.20" font-size="8.5" stroke="#000" stroke-width="0.18"><tspan font-family="Liberation Serif" font-size="1.05em">α</tspan>1+2+BRME1</text>
<text x="117.50" y="477.00" font-size="6.9" text-anchor="middle" stroke="#000" stroke-width="0.18">50 kDa</text>
<text x="117.50" y="485.40" font-size="6.9" text-anchor="middle" stroke="#000" stroke-width="0.18">2:2</text>
<text x="0.00" y="568.60" font-size="10" stroke="#000" stroke-width="0.18" font-weight="bold">i</text>
<line x1="26.70" y1="579.50" x2="26.70" y2="660.60" stroke="#000" stroke-width="0.8" />
<line x1="26.30" y1="660.60" x2="131.50" y2="660.60" stroke="#000" stroke-width="0.8" />
<line x1="131.50" y1="579.50" x2="131.50" y2="660.60" stroke="#888" stroke-width="0.8" />
<line x1="24.50" y1="660.60" x2="26.70" y2="660.60" stroke="#000" stroke-width="0.8" />
<text x="23.50" y="663.60" font-size="8.5" text-anchor="end" stroke="#000" stroke-width="0.18">0</text>
<line x1="24.50" y1="644.50" x2="26.70" y2="644.50" stroke="#000" stroke-width="0.8" />
<text x="23.50" y="647.50" font-size="8.5" text-anchor="end" stroke="#000" stroke-width="0.18">10</text>
<line x1="24.50" y1="628.40" x2="26.70" y2="628.40" stroke="#000" stroke-width="0.8" />
<text x="23.50" y="631.40" font-size="8.5" text-anchor="end" stroke="#000" stroke-width="0.18">20</text>
<line x1="24.50" y1="612.30" x2="26.70" y2="612.30" stroke="#000" stroke-width="0.8" />
<text x="23.50" y="615.30" font-size="8.5" text-anchor="end" stroke="#000" stroke-width="0.18">30</text>
<line x1="24.50" y1="596.20" x2="26.70" y2="596.20" stroke="#000" stroke-width="0.8" />
<text x="23.50" y="599.20" font-size="8.5" text-anchor="end" stroke="#000" stroke-width="0.18">40</text>
<line x1="24.50" y1="580.10" x2="26.70" y2="580.10" stroke="#000" stroke-width="0.8" />
<text x="23.50" y="583.10" font-size="8.5" text-anchor="end" stroke="#000" stroke-width="0.18">50</text>
<line x1="26.90" y1="660.60" x2="26.90" y2="662.80" stroke="#000" stroke-width="0.8" />
<text x="26.90" y="671.60" font-size="8.5" text-anchor="middle" stroke="#000" stroke-width="0.18">14</text>
<line x1="61.30" y1="660.60" x2="61.30" y2="662.80" stroke="#000" stroke-width="0.8" />
<text x="61.30" y="671.60" font-size="8.5" text-anchor="middle" stroke="#000" stroke-width="0.18">15</text>
<line x1="95.70" y1="660.60" x2="95.70" y2="662.80" stroke="#000" stroke-width="0.8" />
<text x="95.70" y="671.60" font-size="8.5" text-anchor="middle" stroke="#000" stroke-width="0.18">16</text>
<line x1="130.10" y1="660.60" x2="130.10" y2="662.80" stroke="#000" stroke-width="0.8" />
<text x="128.60" y="671.60" font-size="8.5" text-anchor="middle" stroke="#000" stroke-width="0.18">17</text>
<line x1="131.50" y1="580.40" x2="133.70" y2="580.40" stroke="#888" stroke-width="0.8" />
<text x="134.50" y="584.40" font-size="8.5" stroke="#000" stroke-width="0.18">1.0</text>
<line x1="131.50" y1="619.65" x2="133.70" y2="619.65" stroke="#888" stroke-width="0.8" />
<text x="134.50" y="623.65" font-size="8.5" stroke="#000" stroke-width="0.18">0.5</text>
<line x1="131.50" y1="658.90" x2="133.70" y2="658.90" stroke="#888" stroke-width="0.8" />
<text x="134.50" y="661.90" font-size="8.5" stroke="#000" stroke-width="0.18">0</text>
<text x="148.60" y="621.40" font-size="9.8" text-anchor="middle" stroke="#000" stroke-width="0.18" transform="rotate(90 148.60 621.40)">dRI</text>
<text x="8.00" y="620.00" font-size="8.5" text-anchor="middle" stroke="#000" stroke-width="0.18" transform="rotate(-90 8.00 620.00)">Molecular weight (kDa)</text>
<text x="39.60" y="683.30" font-size="8.7" stroke="#000" stroke-width="0.18">Elution volume (ml)</text>
<polyline points="68.18,658.90 68.46,658.86 68.75,658.82 69.03,658.79 69.31,658.76 69.59,658.73 69.88,658.70 70.16,658.67 70.44,658.64 70.72,658.61 71.01,658.57 71.29,658.54 71.57,658.50 71.86,658.45 72.14,658.40 72.42,658.35 72.70,658.28 72.99,658.21 73.27,658.14 73.55,658.02 73.83,657.80 74.12,657.48 74.40,657.07 74.68,656.57 74.97,656.00 75.25,655.36 75.53,654.66 75.81,653.90 76.10,653.11 76.38,652.27 76.66,651.41 76.94,650.49 77.23,649.35 77.51,648.00 77.79,646.45 78.08,644.74 78.36,642.89 78.64,640.93 78.92,638.88 79.21,636.76 79.49,634.61 79.77,632.45 80.06,630.31 80.34,628.17 80.62,625.85 80.90,623.34 81.19,620.68 81.47,617.93 81.75,615.12 82.03,612.31 82.32,609.54 82.60,606.87 82.88,604.33 83.17,601.98 83.45,599.86 83.73,598.01 84.01,596.24 84.30,594.48 84.58,592.74 84.86,591.05 85.14,589.43 85.43,587.90 85.71,586.49 85.99,585.22 86.28,584.10 86.56,583.17 86.84,582.44 87.12,581.94 87.41,581.54 87.69,581.18 87.97,580.87 88.25,580.62 88.54,580.46 88.82,580.40 89.10,580.47 89.39,580.66 89.67,580.95 89.95,581.33 90.23,581.79 90.52,582.29 90.80,582.83 91.08,583.38 91.36,583.93 91.65,584.47 91.93,585.04 92.21,585.68 92.50,586.37 92.78,587.11 93.06,587.89 93.34,588.70 93.63,589.55 93.91,590.42 94.19,591.31 94.47,592.21 94.76,593.11 95.04,594.02 95.32,594.92 95.61,595.81 95.89,596.69 96.17,597.58 96.45,598.49 96.74,599.42 97.02,600.36 97.30,601.32 97.58,602.29 97.87,603.26 98.15,604.25 98.43,605.24 98.72,606.24 99.00,607.24 99.28,608.24 99.56,609.25 99.85,610.25 100.13,611.26 100.41,612.26 100.70,613.25 100.98,614.24 101.26,615.22 101.54,616.19 101.83,617.15 102.11,618.10 102.39,619.04 102.67,619.96 102.96,620.89 103.24,621.83 103.52,622.79 103.81,623.75 104.09,624.72 104.37,625.70 104.65,626.67 104.94,627.64 105.22,628.61 105.50,629.57 105.78,630.53 106.07,631.47 106.35,632.39 106.63,633.30 106.92,634.19 107.20,635.05 107.48,635.89 107.76,636.70 108.05,637.48 108.33,638.23 108.61,638.95 108.89,639.62 109.18,640.25 109.46,640.85 109.74,641.41 110.03,641.96 110.31,642.51 110.59,643.05 110.87,643.58 111.16,644.10 111.44,644.61 111.72,645.11 112.00,645.60 112.29,646.09 112.57,646.56 112.85,647.02 113.14,647.47 113.42,647.91 113.70,648.34 113.98,648.76 114.27,649.16 114.55,649.56 114.83,649.94 115.11,650.31 115.40,650.67 115.68,651.02 115.96,651.35 116.25,651.67 116.53,651.98 116.81,652.27 117.09,652.55 117.38,652.82 117.66,653.07 117.94,653.31 118.22,653.54 118.51,653.76 118.79,653.97 119.07,654.18 119.36,654.39 119.64,654.59 119.92,654.79 120.20,654.98 120.49,655.17 120.77,655.35 121.05,655.53 121.34,655.70 121.62,655.87 121.90,656.03 122.18,656.19 122.47,656.35 122.75,656.50 123.03,656.64 123.31,656.78 123.60,656.92 123.88,657.05 124.16,657.18 124.45,657.30 124.73,657.42 125.01,657.54 125.29,657.65 125.58,657.75 125.86,657.85 126.14,657.95 126.42,658.04 126.71,658.13 126.99,658.21 127.27,658.29 127.56,658.36 127.84,658.42 128.12,658.49 128.40,658.55 128.69,658.60 128.97,658.66 129.25,658.72 129.53,658.78 129.82,658.84 130.10,658.90" stroke="#c8c8c8" stroke-width="1.2" fill="none" stroke-linejoin="round" stroke-linecap="round" />
<polyline points="26.90,658.90 27.37,658.90 27.84,658.90 28.31,658.90 28.78,658.90 29.26,658.90 29.73,658.90 30.20,658.90 30.67,658.90 31.14,658.90 31.61,658.90 32.08,658.90 32.55,658.90 33.03,658.90 33.50,658.90 33.97,658.90 34.44,658.85 34.91,658.75 35.38,658.61 35.85,658.43 36.32,658.22 36.80,657.92 37.27,657.25 37.74,656.24 38.21,654.94 38.68,653.41 39.15,651.70 39.62,649.88 40.09,648.01 40.57,646.06 41.04,643.72 41.51,641.01 41.98,638.03 42.45,634.87 42.92,631.63 43.39,628.41 43.86,625.15 44.34,621.72 44.81,618.16 45.28,614.50 45.75,610.79 46.22,606.84 46.69,602.54 47.16,598.31 47.63,594.59 48.11,591.67 48.58,589.08 49.05,586.78 49.52,584.87 49.99,583.43 50.46,582.22 50.93,581.17 51.40,580.51 51.88,580.43 52.35,580.68 52.82,581.14 53.29,581.76 53.76,582.48 54.23,583.24 54.70,584.04 55.17,585.05 55.65,586.25 56.12,587.59 56.59,589.02 57.06,590.49 57.53,591.96 58.00,593.38 58.47,594.84 58.94,596.37 59.42,597.95 59.89,599.56 60.36,601.21 60.83,602.86 61.30,604.51 61.77,606.14 62.24,607.75 62.71,609.31 63.18,610.81 63.66,612.24 64.13,613.58 64.60,614.88 65.07,616.16 65.54,617.41 66.01,618.64 66.48,619.84 66.95,621.02 67.43,622.16 67.90,623.27 68.37,624.35 68.84,625.40 69.31,626.41 69.78,627.37 70.25,628.30 70.72,629.19 71.20,630.06 71.67,630.89 72.14,631.69 72.61,632.46 73.08,633.21 73.55,633.94 74.02,634.65 74.49,635.33 74.97,636.00 75.44,636.66 75.91,637.31 76.38,637.94 76.85,638.56 77.32,639.17 77.79,639.76 78.26,640.33 78.74,640.87 79.21,641.39 79.68,641.89 80.15,642.35 80.62,642.78 81.09,643.19 81.56,643.59 82.03,643.96 82.51,644.33 82.98,644.67 83.45,645.01 83.92,645.34 84.39,645.67 84.86,645.99 85.33,646.31 85.80,646.62 86.28,646.94 86.75,647.24 87.22,647.54 87.69,647.84 88.16,648.13 88.63,648.41 89.10,648.69 89.57,648.96 90.05,649.22 90.52,649.47 90.99,649.71 91.46,649.96 91.93,650.20 92.40,650.44 92.87,650.68 93.34,650.91 93.82,651.13 94.29,651.35 94.76,651.56 95.23,651.77 95.70,651.97 96.17,652.16 96.64,652.34 97.11,652.51 97.58,652.68 98.06,652.83 98.53,652.99 99.00,653.14 99.47,653.29 99.94,653.43 100.41,653.58 100.88,653.72 101.35,653.85 101.83,653.99 102.30,654.12 102.77,654.25 103.24,654.37 103.71,654.49 104.18,654.61 104.65,654.73 105.12,654.84 105.60,654.95 106.07,655.06 106.54,655.17 107.01,655.27 107.48,655.37 107.95,655.47 108.42,655.56 108.89,655.65 109.37,655.74 109.84,655.83 110.31,655.92 110.78,656.00 111.25,656.09 111.72,656.17 112.19,656.25 112.66,656.34 113.14,656.42 113.61,656.50 114.08,656.57 114.55,656.65 115.02,656.72 115.49,656.80 115.96,656.87 116.43,656.94 116.91,657.01 117.38,657.08 117.85,657.14 118.32,657.20 118.79,657.26 119.26,657.32 119.73,657.38 120.20,657.43 120.68,657.49 121.15,657.54 121.62,657.58 122.09,657.63 122.56,657.67 123.03,657.71 123.50,657.74 123.97,657.78 124.45,657.81 124.92,657.84 125.39,657.87 125.86,657.89 126.33,657.92 126.80,657.94 127.27,657.97 127.74,657.99 128.22,658.02 128.69,658.04 129.16,658.06 129.63,658.09 130.10,658.12" stroke="#c8202a" stroke-width="1.3" fill="none" stroke-linejoin="round" stroke-linecap="round" />
<polyline points="26.90,658.90 27.37,658.88 27.84,658.87 28.31,658.85 28.78,658.84 29.26,658.82 29.73,658.81 30.20,658.80 30.67,658.79 31.14,658.77 31.61,658.76 32.08,658.75 32.55,658.73 33.03,658.72 33.50,658.70 33.97,658.68 34.44,658.66 34.91,658.64 35.38,658.62 35.85,658.59 36.32,658.57 36.80,658.54 37.27,658.50 37.74,658.45 38.21,658.38 38.68,658.28 39.15,658.16 39.62,658.04 40.09,657.91 40.57,657.77 41.04,657.64 41.51,657.52 41.98,657.41 42.45,657.32 42.92,657.23 43.39,657.13 43.86,657.03 44.34,656.94 44.81,656.85 45.28,656.76 45.75,656.69 46.22,656.63 46.69,656.58 47.16,656.55 47.63,656.55 48.11,656.55 48.58,656.56 49.05,656.58 49.52,656.60 49.99,656.63 50.46,656.66 50.93,656.69 51.40,656.72 51.88,656.76 52.35,656.79 52.82,656.83 53.29,656.86 53.76,656.90 54.23,656.93 54.70,656.95 55.17,656.98 55.65,657.02 56.12,657.05 56.59,657.09 57.06,657.12 57.53,657.16 58.00,657.19 58.47,657.22 58.94,657.25 59.42,657.28 59.89,657.30 60.36,657.32 60.83,657.33 61.30,657.33 61.77,657.33 62.24,657.33 62.71,657.33 63.18,657.32 63.66,657.32 64.13,657.31 64.60,657.31 65.07,657.30 65.54,657.29 66.01,657.29 66.48,657.28 66.95,657.27 67.43,657.26 67.90,657.25 68.37,657.24 68.84,657.23 69.31,657.22 69.78,657.21 70.25,657.20 70.72,657.19 71.20,657.18 71.67,657.17 72.14,657.16 72.61,657.15 73.08,657.15 73.55,657.14 74.02,657.13 74.49,657.12 74.97,657.11 75.44,657.09 75.91,657.08 76.38,657.06 76.85,657.04 77.32,657.02 77.79,656.99 78.26,656.96 78.74,656.89 79.21,656.64 79.68,656.20 80.15,655.61 80.62,654.87 81.09,653.18 81.56,650.42 82.03,647.16 82.51,643.95 82.98,641.13 83.45,638.32 83.92,635.47 84.39,632.54 84.86,629.48 85.33,626.26 85.80,622.72 86.28,618.79 86.75,614.62 87.22,610.38 87.69,606.23 88.16,602.35 88.63,598.90 89.10,595.85 89.57,592.68 90.05,589.49 90.52,586.50 90.99,583.89 91.46,581.88 91.93,580.67 92.40,580.40 92.87,580.49 93.34,580.67 93.82,580.94 94.29,581.29 94.76,581.71 95.23,582.34 95.70,584.00 96.17,586.48 96.64,589.34 97.11,592.15 97.58,594.53 98.06,596.80 98.53,599.11 99.00,601.42 99.47,603.73 99.94,606.01 100.41,608.23 100.88,610.39 101.35,612.47 101.83,614.43 102.30,616.26 102.77,617.96 103.24,619.60 103.71,621.21 104.18,622.78 104.65,624.31 105.12,625.79 105.60,627.23 106.07,628.62 106.54,629.95 107.01,631.24 107.48,632.46 107.95,633.63 108.42,634.73 108.89,635.77 109.37,636.73 109.84,637.65 110.31,638.52 110.78,639.37 111.25,640.19 111.72,640.97 112.19,641.73 112.66,642.46 113.14,643.15 113.61,643.82 114.08,644.46 114.55,645.07 115.02,645.65 115.49,646.20 115.96,646.72 116.43,647.22 116.91,647.70 117.38,648.17 117.85,648.63 118.32,649.08 118.79,649.51 119.26,649.92 119.73,650.31 120.20,650.69 120.68,651.05 121.15,651.39 121.62,651.71 122.09,652.01 122.56,652.28 123.03,652.53 123.50,652.75 123.97,652.96 124.45,653.15 124.92,653.33 125.39,653.50 125.86,653.66 126.33,653.81 126.80,653.96 127.27,654.10 127.74,654.24 128.22,654.38 128.69,654.52 129.16,654.67 129.63,654.82 130.10,654.98" stroke="#a89422" stroke-width="1.3" fill="none" stroke-linejoin="round" stroke-linecap="round" />
<polyline points="46.80,606.80 48.50,607.60 50.50,607.40 52.50,608.40 54.50,608.20 56.50,609.30 59.00,609.80" stroke="#c8202a" stroke-width="2.0" fill="none" stroke-linejoin="round" stroke-linecap="round" />
<polyline points="86.30,634.50 88.00,633.20 92.00,633.60 96.00,633.20 100.00,633.60 102.80,634.50" stroke="#a89422" stroke-width="1.6" fill="none" stroke-linejoin="round" stroke-linecap="round" />
<polyline points="85.80,645.20 90.00,644.80 95.00,645.00 101.70,646.00" stroke="#c8c8c8" stroke-width="1.3" fill="none" stroke-linejoin="round" stroke-linecap="round" />
<text x="31.70" y="576.30" font-size="8.5" fill="#c8202a" stroke="#c8202a" stroke-width="0.18"><tspan font-family="Liberation Serif" font-size="1.05em">α</tspan>1+BRME1</text>
<text x="81.30" y="575.40" font-size="8.5" fill="#aaa" stroke="#aaa" stroke-width="0.18"><tspan font-family="Liberation Serif" font-size="1.05em">α</tspan>2</text>
<text x="94.40" y="575.40" font-size="8.5" fill="#a89422" stroke="#a89422" stroke-width="0.18"><tspan font-family="Liberation Serif" font-size="1.05em">α</tspan>1</text>
<text x="70.20" y="586.20" font-size="6.9" text-anchor="middle" fill="#c8202a" stroke="#c8202a" stroke-width="0.18">33 kDa</text>
<text x="70.20" y="595.20" font-size="6.9" text-anchor="middle" fill="#c8202a" stroke="#c8202a" stroke-width="0.18">2:2</text>
<text x="116.60" y="605.40" font-size="6.9" text-anchor="middle" fill="#a89422" stroke="#a89422" stroke-width="0.18">17 kDa</text>
<text x="116.20" y="614.40" font-size="6.9" text-anchor="middle" fill="#a89422" stroke="#a89422" stroke-width="0.18">tetramer</text>
<text x="57.70" y="641.50" font-size="6.9" text-anchor="middle" fill="#bbb" stroke="#bbb" stroke-width="0.18">10 kDa</text>
<text x="57.70" y="650.00" font-size="6.9" text-anchor="middle" fill="#bbb" stroke="#bbb" stroke-width="0.18">monomer</text>
<text x="213.00" y="353.60" font-size="10" stroke="#000" stroke-width="0.18" font-weight="bold">j</text>
<line x1="259.70" y1="363.50" x2="259.70" y2="448.60" stroke="#888" stroke-width="1.1" />
<line x1="259.30" y1="448.60" x2="399.00" y2="448.60" stroke="#888" stroke-width="1.1" />
<line x1="257.50" y1="448.60" x2="259.70" y2="448.60" stroke="#000" stroke-width="0.8" />
<text x="256.30" y="451.60" font-size="8.5" text-anchor="end" stroke="#000" stroke-width="0.18">0</text>
<line x1="257.50" y1="432.32" x2="259.70" y2="432.32" stroke="#000" stroke-width="0.8" />
<text x="256.30" y="435.32" font-size="8.5" text-anchor="end" stroke="#000" stroke-width="0.18">0.2</text>
<line x1="257.50" y1="416.04" x2="259.70" y2="416.04" stroke="#000" stroke-width="0.8" />
<text x="256.30" y="419.04" font-size="8.5" text-anchor="end" stroke="#000" stroke-width="0.18">0.4</text>
<line x1="257.50" y1="399.76" x2="259.70" y2="399.76" stroke="#000" stroke-width="0.8" />
<text x="256.30" y="402.76" font-size="8.5" text-anchor="end" stroke="#000" stroke-width="0.18">0.6</text>
<line x1="257.50" y1="383.48" x2="259.70" y2="383.48" stroke="#000" stroke-width="0.8" />
<text x="256.30" y="386.48" font-size="8.5" text-anchor="end" stroke="#000" stroke-width="0.18">0.8</text>
<line x1="257.50" y1="367.20" x2="259.70" y2="367.20" stroke="#000" stroke-width="0.8" />
<text x="256.30" y="370.20" font-size="8.5" text-anchor="end" stroke="#000" stroke-width="0.18">1.0</text>
<line x1="260.30" y1="448.60" x2="260.30" y2="450.80" stroke="#000" stroke-width="0.8" />
<line x1="274.10" y1="448.60" x2="274.10" y2="450.80" stroke="#000" stroke-width="0.8" />
<line x1="287.90" y1="448.60" x2="287.90" y2="450.80" stroke="#000" stroke-width="0.8" />
<line x1="301.70" y1="448.60" x2="301.70" y2="450.80" stroke="#000" stroke-width="0.8" />
<line x1="315.50" y1="448.60" x2="315.50" y2="450.80" stroke="#000" stroke-width="0.8" />
<line x1="329.30" y1="448.60" x2="329.30" y2="450.80" stroke="#000" stroke-width="0.8" />
<line x1="343.10" y1="448.60" x2="343.10" y2="450.80" stroke="#000" stroke-width="0.8" />
<line x1="356.90" y1="448.60" x2="356.90" y2="450.80" stroke="#000" stroke-width="0.8" />
<line x1="370.70" y1="448.60" x2="370.70" y2="450.80" stroke="#000" stroke-width="0.8" />
<line x1="384.50" y1="448.60" x2="384.50" y2="450.80" stroke="#000" stroke-width="0.8" />
<line x1="398.30" y1="448.60" x2="398.30" y2="450.80" stroke="#000" stroke-width="0.8" />
<text x="260.30" y="459.20" font-size="8.5" text-anchor="middle" stroke="#000" stroke-width="0.18">0</text>
<text x="287.90" y="459.20" font-size="8.5" text-anchor="middle" stroke="#000" stroke-width="0.18">40</text>
<text x="315.50" y="459.20" font-size="8.5" text-anchor="middle" stroke="#000" stroke-width="0.18">80</text>
<text x="343.10" y="459.20" font-size="8.5" text-anchor="middle" stroke="#000" stroke-width="0.18">120</text>
<text x="370.70" y="459.20" font-size="8.5" text-anchor="middle" stroke="#000" stroke-width="0.18">160</text>
<text x="398.30" y="459.20" font-size="8.5" text-anchor="middle" stroke="#000" stroke-width="0.18">200</text>
<text x="328.50" y="470.70" font-size="8.4" text-anchor="middle" stroke="#000" stroke-width="0.18">Interatomic distance (Å)</text>
<text x="237.5" y="399.7" font-size="8.5" text-anchor="middle" transform="rotate(-90 237.5 399.7)"><tspan font-style="italic">P</tspan>(<tspan font-style="italic">r</tspan>)</text>
<polyline points="260.30,448.60 260.65,442.36 260.99,436.06 261.34,429.89 261.69,424.08 262.03,418.46 262.38,412.97 262.73,407.94 263.07,403.69 263.42,400.00 263.77,396.51 264.11,393.24 264.46,390.21 264.81,387.45 265.15,384.96 265.50,382.77 265.85,380.91 266.19,379.25 266.54,377.69 266.88,376.25 267.23,374.94 267.58,373.77 267.92,372.75 268.27,371.89 268.62,371.20 268.96,370.62 269.31,370.07 269.66,369.58 270.00,369.14 270.35,368.76 270.70,368.44 271.04,368.18 271.39,367.99 271.74,367.83 272.08,367.68 272.43,367.55 272.78,367.43 273.12,367.33 273.47,367.26 273.82,367.21 274.16,367.20 274.51,367.28 274.86,367.47 275.20,367.74 275.55,368.09 275.90,368.47 276.24,368.89 276.59,369.32 276.94,369.73 277.28,370.20 277.63,370.73 277.98,371.31 278.32,371.95 278.67,372.62 279.02,373.32 279.36,374.03 279.71,374.77 280.05,375.55 280.40,376.39 280.75,377.27 281.09,378.19 281.44,379.14 281.79,380.12 282.13,381.12 282.48,382.13 282.83,383.16 283.17,384.19 283.52,385.22 283.87,386.24 284.21,387.25 284.56,388.24 284.91,389.20 285.25,390.14 285.60,391.04 285.95,391.91 286.29,392.75 286.64,393.58 286.99,394.41 287.33,395.22 287.68,396.03 288.03,396.82 288.37,397.61 288.72,398.39 289.07,399.16 289.41,399.93 289.76,400.69 290.11,401.44 290.45,402.19 290.80,402.94 291.15,403.68 291.49,404.41 291.84,405.15 292.18,405.88 292.53,406.61 292.88,407.34 293.22,408.07 293.57,408.79 293.92,409.52 294.26,410.24 294.61,410.95 294.96,411.66 295.30,412.36 295.65,413.06 296.00,413.75 296.34,414.43 296.69,415.10 297.04,415.77 297.38,416.42 297.73,417.06 298.08,417.69 298.42,418.30 298.77,418.91 299.12,419.51 299.46,420.11 299.81,420.71 300.16,421.30 300.50,421.89 300.85,422.47 301.20,423.05 301.54,423.61 301.89,424.16 302.24,424.71 302.58,425.24 302.93,425.75 303.28,426.25 303.62,426.74 303.97,427.20 304.32,427.65 304.66,428.08 305.01,428.49 305.35,428.89 305.70,429.28 306.05,429.65 306.39,430.02 306.74,430.39 307.09,430.74 307.43,431.08 307.78,431.42 308.13,431.74 308.47,432.06 308.82,432.38 309.17,432.68 309.51,432.98 309.86,433.27 310.21,433.55 310.55,433.83 310.90,434.11 311.25,434.37 311.59,434.63 311.94,434.89 312.29,435.13 312.63,435.37 312.98,435.60 313.33,435.83 313.67,436.05 314.02,436.27 314.37,436.48 314.71,436.69 315.06,436.90 315.41,437.11 315.75,437.31 316.10,437.52 316.45,437.72 316.79,437.92 317.14,438.13 317.48,438.33 317.83,438.54 318.18,438.76 318.52,438.97 318.87,439.19 319.22,439.41 319.56,439.64 319.91,439.87 320.26,440.09 320.60,440.33 320.95,440.56 321.30,440.79 321.64,441.03 321.99,441.26 322.34,441.49 322.68,441.72 323.03,441.95 323.38,442.18 323.72,442.41 324.07,442.63 324.42,442.85 324.76,443.07 325.11,443.28 325.46,443.49 325.80,443.69 326.15,443.89 326.50,444.09 326.84,444.28 327.19,444.48 327.54,444.68 327.88,444.87 328.23,445.06 328.58,445.25 328.92,445.44 329.27,445.63 329.62,445.81 329.96,445.99 330.31,446.17 330.65,446.35 331.00,446.52 331.35,446.69 331.69,446.85 332.04,447.02 332.39,447.17 332.73,447.33 333.08,447.47 333.43,447.62 333.77,447.76 334.12,447.88 334.47,448.01 334.81,448.13 335.16,448.25 335.51,448.36 335.85,448.48 336.20,448.60" stroke="#cccccc" stroke-width="1.6" fill="none" stroke-linejoin="round" stroke-linecap="round" />
<polyline points="260.30,448.60 260.93,445.62 261.56,442.62 262.19,439.64 262.82,436.69 263.45,433.72 264.08,430.59 264.71,427.41 265.34,424.30 265.97,421.40 266.60,418.84 267.23,416.76 267.86,415.15 268.49,413.81 269.12,412.56 269.75,411.24 270.38,409.70 271.01,408.03 271.64,406.27 272.27,404.44 272.90,402.58 273.53,400.72 274.16,398.89 274.79,397.11 275.42,395.42 276.05,393.85 276.68,392.39 277.31,390.99 277.94,389.62 278.57,388.29 279.20,387.01 279.83,385.77 280.46,384.57 281.09,383.41 281.72,382.30 282.35,381.23 282.98,380.21 283.62,379.21 284.25,378.23 284.88,377.27 285.51,376.34 286.14,375.46 286.77,374.61 287.40,373.82 288.03,373.09 288.66,372.42 289.29,371.82 289.92,371.25 290.55,370.71 291.18,370.21 291.81,369.75 292.44,369.35 293.07,369.00 293.70,368.70 294.33,368.42 294.96,368.14 295.59,367.87 296.22,367.64 296.85,367.45 297.48,367.30 298.11,367.22 298.74,367.20 299.37,367.24 300.00,367.32 300.63,367.42 301.26,367.56 301.89,367.71 302.52,367.87 303.15,368.03 303.78,368.23 304.41,368.49 305.04,368.79 305.67,369.12 306.30,369.47 306.93,369.84 307.56,370.21 308.19,370.58 308.82,370.97 309.45,371.38 310.08,371.81 310.71,372.25 311.34,372.71 311.97,373.16 312.60,373.61 313.23,374.06 313.86,374.50 314.49,374.95 315.12,375.40 315.75,375.85 316.38,376.32 317.01,376.79 317.64,377.28 318.27,377.79 318.90,378.31 319.53,378.84 320.16,379.38 320.79,379.93 321.42,380.49 322.05,381.06 322.68,381.64 323.31,382.24 323.94,382.85 324.57,383.48 325.20,384.12 325.83,384.79 326.46,385.47 327.09,386.17 327.72,386.91 328.35,387.68 328.98,388.49 329.62,389.33 330.25,390.20 330.88,391.10 331.51,392.01 332.14,392.95 332.77,393.90 333.40,394.85 334.03,395.82 334.66,396.78 335.29,397.78 335.92,398.80 336.55,399.85 337.18,400.91 337.81,401.99 338.44,403.08 339.07,404.18 339.70,405.27 340.33,406.36 340.96,407.44 341.59,408.49 342.22,409.54 342.85,410.60 343.48,411.67 344.11,412.73 344.74,413.80 345.37,414.85 346.00,415.90 346.63,416.93 347.26,417.93 347.89,418.91 348.52,419.87 349.15,420.78 349.78,421.69 350.41,422.58 351.04,423.47 351.67,424.34 352.30,425.19 352.93,426.02 353.56,426.83 354.19,427.61 354.82,428.36 355.45,429.07 356.08,429.74 356.71,430.39 357.34,431.01 357.97,431.62 358.60,432.22 359.23,432.79 359.86,433.34 360.49,433.87 361.12,434.38 361.75,434.86 362.38,435.31 363.01,435.74 363.64,436.14 364.27,436.52 364.90,436.88 365.53,437.23 366.16,437.56 366.79,437.87 367.42,438.18 368.05,438.47 368.68,438.76 369.31,439.04 369.94,439.32 370.57,439.59 371.20,439.86 371.83,440.13 372.46,440.38 373.09,440.63 373.72,440.87 374.35,441.11 374.98,441.34 375.62,441.58 376.25,441.81 376.88,442.04 377.51,442.27 378.14,442.51 378.77,442.75 379.40,442.99 380.03,443.23 380.66,443.47 381.29,443.71 381.92,443.95 382.55,444.18 383.18,444.41 383.81,444.63 384.44,444.85 385.07,445.06 385.70,445.26 386.33,445.47 386.96,445.66 387.59,445.86 388.22,446.05 388.85,446.24 389.48,446.42 390.11,446.60 390.74,446.78 391.37,446.95 392.00,447.12 392.63,447.28 393.26,447.44 393.89,447.59 394.52,447.74 395.15,447.89 395.78,448.03 396.41,448.17 397.04,448.31 397.67,448.45 398.30,448.60" stroke="#a0902a" stroke-width="1.6" fill="none" stroke-linejoin="round" stroke-linecap="round" />
<polyline points="260.30,448.60 260.80,444.88 261.31,441.17 261.81,437.45 262.32,433.73 262.82,430.02 263.32,426.30 263.83,422.56 264.33,418.82 264.84,415.09 265.34,411.38 265.85,407.72 266.35,404.04 266.85,400.33 267.36,396.66 267.86,393.11 268.37,389.73 268.87,386.51 269.37,383.18 269.88,379.91 270.38,376.93 270.89,374.48 271.39,372.76 271.89,371.49 272.40,370.36 272.90,369.41 273.41,368.66 273.91,368.14 274.42,367.83 274.92,367.57 275.42,367.36 275.93,367.23 276.43,367.20 276.94,367.22 277.44,367.28 277.94,367.35 278.45,367.44 278.95,367.55 279.46,367.66 279.96,367.78 280.46,367.90 280.97,368.01 281.47,368.11 281.98,368.22 282.48,368.32 282.98,368.43 283.49,368.55 283.99,368.68 284.50,368.81 285.00,368.96 285.51,369.12 286.01,369.30 286.51,369.51 287.02,369.76 287.52,370.03 288.03,370.33 288.53,370.65 289.03,370.99 289.54,371.34 290.04,371.69 290.55,372.05 291.05,372.42 291.55,372.81 292.06,373.22 292.56,373.64 293.07,374.08 293.57,374.53 294.08,375.00 294.58,375.47 295.08,375.96 295.59,376.45 296.09,376.95 296.60,377.46 297.10,377.97 297.60,378.48 298.11,378.99 298.61,379.50 299.12,380.02 299.62,380.55 300.12,381.10 300.63,381.66 301.13,382.22 301.64,382.80 302.14,383.38 302.65,383.97 303.15,384.56 303.65,385.15 304.16,385.74 304.66,386.32 305.17,386.90 305.67,387.48 306.17,388.05 306.68,388.61 307.18,389.15 307.69,389.69 308.19,390.21 308.69,390.72 309.20,391.23 309.70,391.73 310.21,392.22 310.71,392.72 311.22,393.20 311.72,393.68 312.22,394.16 312.73,394.64 313.23,395.11 313.74,395.58 314.24,396.05 314.74,396.52 315.25,396.98 315.75,397.45 316.26,397.91 316.76,398.37 317.26,398.84 317.77,399.30 318.27,399.77 318.78,400.23 319.28,400.68 319.78,401.12 320.29,401.56 320.79,401.98 321.30,402.41 321.80,402.83 322.31,403.26 322.81,403.69 323.31,404.12 323.82,404.56 324.32,405.01 324.83,405.48 325.33,405.95 325.83,406.44 326.34,406.95 326.84,407.48 327.35,408.03 327.85,408.61 328.35,409.23 328.86,409.88 329.36,410.55 329.87,411.25 330.37,411.96 330.88,412.69 331.38,413.42 331.88,414.17 332.39,414.91 332.89,415.65 333.40,416.38 333.90,417.11 334.40,417.81 334.91,418.52 335.41,419.23 335.92,419.96 336.42,420.69 336.92,421.42 337.43,422.16 337.93,422.89 338.44,423.61 338.94,424.33 339.45,425.03 339.95,425.71 340.45,426.37 340.96,427.01 341.46,427.62 341.97,428.21 342.47,428.77 342.97,429.33 343.48,429.87 343.98,430.41 344.49,430.93 344.99,431.43 345.49,431.93 346.00,432.42 346.50,432.90 347.01,433.36 347.51,433.82 348.02,434.27 348.52,434.71 349.02,435.14 349.53,435.56 350.03,435.98 350.54,436.39 351.04,436.79 351.54,437.19 352.05,437.58 352.55,437.96 353.06,438.33 353.56,438.70 354.06,439.05 354.57,439.40 355.07,439.74 355.58,440.06 356.08,440.38 356.58,440.69 357.09,440.98 357.59,441.25 358.10,441.52 358.60,441.78 359.11,442.03 359.61,442.28 360.11,442.53 360.62,442.77 361.12,443.02 361.63,443.27 362.13,443.53 362.63,443.79 363.14,444.07 363.64,444.35 364.15,444.65 364.65,444.96 365.15,445.27 365.66,445.58 366.16,445.90 366.67,446.21 367.17,446.52 367.68,446.82 368.18,447.12 368.68,447.42 369.19,447.71 369.69,448.01 370.20,448.30 370.70,448.60" stroke="#9a9aea" stroke-width="1.8" fill="none" stroke-linejoin="round" stroke-linecap="round" />
<polyline points="260.30,448.60 260.89,444.22 261.49,439.83 262.08,435.45 262.68,431.07 263.27,426.68 263.87,422.27 264.46,417.86 265.06,413.47 265.65,409.13 266.25,404.80 266.84,400.43 267.43,396.11 268.03,391.96 268.62,388.09 269.22,384.21 269.81,380.32 270.41,376.80 271.00,374.01 271.60,372.23 272.19,370.81 272.79,369.62 273.38,368.70 273.97,368.10 274.57,367.75 275.16,367.46 275.76,367.27 276.35,367.20 276.95,367.26 277.54,367.40 278.14,367.60 278.73,367.85 279.33,368.12 279.92,368.39 280.51,368.65 281.11,368.86 281.70,369.06 282.30,369.24 282.89,369.42 283.49,369.60 284.08,369.79 284.68,369.99 285.27,370.22 285.86,370.47 286.46,370.77 287.05,371.12 287.65,371.51 288.24,371.92 288.84,372.37 289.43,372.82 290.03,373.28 290.62,373.73 291.22,374.19 291.81,374.66 292.40,375.13 293.00,375.62 293.59,376.11 294.19,376.62 294.78,377.14 295.38,377.66 295.97,378.20 296.57,378.75 297.16,379.31 297.76,379.88 298.35,380.46 298.94,381.05 299.54,381.68 300.13,382.33 300.73,383.01 301.32,383.70 301.92,384.41 302.51,385.13 303.11,385.85 303.70,386.58 304.30,387.32 304.89,388.04 305.48,388.76 306.08,389.47 306.67,390.17 307.27,390.84 307.86,391.50 308.46,392.13 309.05,392.76 309.65,393.38 310.24,394.00 310.84,394.61 311.43,395.21 312.02,395.81 312.62,396.40 313.21,396.99 313.81,397.58 314.40,398.16 315.00,398.73 315.59,399.30 316.19,399.86 316.78,400.42 317.38,400.98 317.97,401.53 318.56,402.07 319.16,402.60 319.75,403.12 320.35,403.62 320.94,404.11 321.54,404.60 322.13,405.08 322.73,405.56 323.32,406.05 323.92,406.54 324.51,407.04 325.10,407.56 325.70,408.08 326.29,408.63 326.89,409.19 327.48,409.78 328.08,410.41 328.67,411.06 329.27,411.75 329.86,412.45 330.46,413.16 331.05,413.89 331.64,414.61 332.24,415.34 332.83,416.05 333.43,416.74 334.02,417.42 334.62,418.06 335.21,418.70 335.81,419.32 336.40,419.94 336.99,420.55 337.59,421.15 338.18,421.75 338.78,422.34 339.37,422.92 339.97,423.49 340.56,424.06 341.16,424.63 341.75,425.19 342.35,425.74 342.94,426.30 343.53,426.86 344.13,427.41 344.72,427.96 345.32,428.50 345.91,429.03 346.51,429.55 347.10,430.05 347.70,430.54 348.29,431.00 348.89,431.45 349.48,431.88 350.07,432.29 350.67,432.70 351.26,433.10 351.86,433.48 352.45,433.86 353.05,434.22 353.64,434.58 354.24,434.92 354.83,435.25 355.43,435.58 356.02,435.89 356.61,436.19 357.21,436.48 357.80,436.76 358.40,437.04 358.99,437.30 359.59,437.56 360.18,437.82 360.78,438.06 361.37,438.30 361.97,438.54 362.56,438.77 363.15,438.99 363.75,439.21 364.34,439.42 364.94,439.62 365.53,439.82 366.13,440.02 366.72,440.21 367.32,440.39 367.91,440.58 368.51,440.76 369.10,440.94 369.69,441.12 370.29,441.31 370.88,441.49 371.48,441.68 372.07,441.86 372.67,442.04 373.26,442.23 373.86,442.41 374.45,442.58 375.05,442.76 375.64,442.95 376.23,443.13 376.83,443.31 377.42,443.49 378.02,443.68 378.61,443.86 379.21,444.04 379.80,444.22 380.40,444.40 380.99,444.58 381.58,444.76 382.18,444.94 382.77,445.13 383.37,445.33 383.96,445.54 384.56,445.75 385.15,445.98 385.75,446.22 386.34,446.49 386.94,446.77 387.53,447.07 388.12,447.38 388.72,447.69 389.31,448.00 389.91,448.30 390.50,448.60" stroke="#1a1f6e" stroke-width="1.7" fill="none" stroke-linejoin="round" stroke-linecap="round" />
<line x1="357.20" y1="356.00" x2="372.30" y2="356.00" stroke="#1a1f6e" stroke-width="1.5" />
<text x="375.50" y="350.20" font-size="8.5" fill="#1a1f6e" stroke="#1a1f6e" stroke-width="0.18"><tspan font-family="Liberation Serif" font-size="1.05em">α</tspan>1+2+BRME1</text>
<text x="375.50" y="358.10" font-size="6.8" fill="#1a1f6e" stroke="#1a1f6e" stroke-width="0.18" font-style="italic">Dmax = 190 Å</text>
<line x1="357.20" y1="374.70" x2="372.30" y2="374.70" stroke="#9a9aea" stroke-width="1.5" />
<text x="375.50" y="372.00" font-size="8.5" fill="#a98ee6" stroke="#a98ee6" stroke-width="0.18"><tspan font-family="Liberation Serif" font-size="1.05em">α</tspan>1+2 (dimer)</text>
<text x="375.50" y="380.60" font-size="6.8" fill="#a98ee6" stroke="#a98ee6" stroke-width="0.18" font-style="italic">Dmax = 160 Å</text>
<line x1="357.20" y1="395.30" x2="372.30" y2="395.30" stroke="#a0902a" stroke-width="1.5" />
<text x="375.50" y="393.50" font-size="8.5" fill="#a0902a" stroke="#a0902a" stroke-width="0.18"><tspan font-family="Liberation Serif" font-size="1.05em">α</tspan>1+2 (octamer)</text>
<text x="375.50" y="401.80" font-size="6.8" fill="#a0902a" stroke="#a0902a" stroke-width="0.18" font-style="italic">Dmax = 200 Å</text>
<line x1="357.20" y1="414.50" x2="372.30" y2="414.50" stroke="#cccccc" stroke-width="1.5" />
<text x="375.50" y="414.40" font-size="8.5" fill="#999" stroke="#999" stroke-width="0.18"><tspan font-family="Liberation Serif" font-size="1.05em">α</tspan>2 (monomer)</text>
<text x="375.50" y="423.30" font-size="6.8" fill="#999" stroke="#999" stroke-width="0.18" font-style="italic">Dmax = 110 Å</text>
<text x="172.80" y="489.80" font-size="10" stroke="#000" stroke-width="0.18" font-weight="bold">k</text>
<rect x="172.40" y="494.90" width="61.50" height="63.50" fill="#fff" stroke="#6a6a6a" stroke-width="0.8"/>
<rect x="242.10" y="494.80" width="59.40" height="64.40" fill="#fff" stroke="#6a6a6a" stroke-width="0.8"/>
<rect x="172.40" y="585.20" width="61.60" height="86.00" fill="#fff" stroke="#6a6a6a" stroke-width="0.8"/>
<rect x="240.10" y="585.10" width="61.40" height="86.50" fill="#fff" stroke="#6a6a6a" stroke-width="0.8"/>
<text x="203.60" y="503.40" font-size="8.5" text-anchor="middle" stroke="#000" stroke-width="0.18"><tspan font-family="Liberation Serif" font-size="1.05em">α</tspan>1+2 dimer</text>
<text x="270.00" y="503.60" font-size="8.5" text-anchor="middle" stroke="#000" stroke-width="0.18"><tspan font-family="Liberation Serif" font-size="1.05em">α</tspan>2 monomer</text>
<text x="203.00" y="598.60" font-size="8.5" text-anchor="middle" stroke="#000" stroke-width="0.18">2:2 complex</text>
<text x="268.80" y="598.60" font-size="8.5" text-anchor="middle" stroke="#000" stroke-width="0.18">Octamer</text>
<clipPath id="bc1"><path d="M178.50,515.90 C178.57,515.17 180.05,512.64 180.70,512.20 C181.35,511.76 184.13,511.42 185.00,511.50 C185.87,511.58 188.53,512.64 189.40,513.00 C190.27,513.36 192.98,514.67 193.70,515.10 C194.42,515.53 195.87,517.22 196.60,517.30 C197.33,517.38 200.13,516.41 201.00,515.90 C201.87,515.39 204.36,512.86 205.30,512.20 C206.24,511.54 209.39,509.66 210.40,509.30 C211.41,508.94 214.46,508.62 215.40,508.60 C216.34,508.58 219.00,508.88 219.80,509.10 C220.60,509.32 222.94,510.34 223.40,510.80 C223.86,511.26 224.54,513.15 224.40,513.70 C224.26,514.25 222.61,516.04 222.00,516.30 C221.39,516.56 219.17,516.20 218.30,516.30 C217.43,516.40 214.17,516.98 213.30,517.30 C212.43,517.62 210.33,518.99 209.60,519.50 C208.87,520.01 206.72,521.82 206.00,522.40 C205.28,522.98 203.12,524.72 202.40,525.30 C201.68,525.88 199.52,527.91 198.80,528.20 C198.08,528.49 195.93,528.64 195.20,528.20 C194.47,527.76 192.23,524.38 191.50,523.80 C190.77,523.22 188.69,522.69 187.90,522.40 C187.11,522.11 184.39,521.19 183.60,520.90 C182.81,520.61 180.51,520.00 180.00,519.50 C179.49,519.00 178.43,516.63 178.50,515.90 Z"/></clipPath>
<path d="M178.50,515.90 C178.57,515.17 180.05,512.64 180.70,512.20 C181.35,511.76 184.13,511.42 185.00,511.50 C185.87,511.58 188.53,512.64 189.40,513.00 C190.27,513.36 192.98,514.67 193.70,515.10 C194.42,515.53 195.87,517.22 196.60,517.30 C197.33,517.38 200.13,516.41 201.00,515.90 C201.87,515.39 204.36,512.86 205.30,512.20 C206.24,511.54 209.39,509.66 210.40,509.30 C211.41,508.94 214.46,508.62 215.40,508.60 C216.34,508.58 219.00,508.88 219.80,509.10 C220.60,509.32 222.94,510.34 223.40,510.80 C223.86,511.26 224.54,513.15 224.40,513.70 C224.26,514.25 222.61,516.04 222.00,516.30 C221.39,516.56 219.17,516.20 218.30,516.30 C217.43,516.40 214.17,516.98 213.30,517.30 C212.43,517.62 210.33,518.99 209.60,519.50 C208.87,520.01 206.72,521.82 206.00,522.40 C205.28,522.98 203.12,524.72 202.40,525.30 C201.68,525.88 199.52,527.91 198.80,528.20 C198.08,528.49 195.93,528.64 195.20,528.20 C194.47,527.76 192.23,524.38 191.50,523.80 C190.77,523.22 188.69,522.69 187.90,522.40 C187.11,522.11 184.39,521.19 183.60,520.90 C182.81,520.61 180.51,520.00 180.00,519.50 C179.49,519.00 178.43,516.63 178.50,515.90 Z" fill="#9090da"/>
<g clip-path="url(#bc1)"><circle cx="199.26" cy="519.57" r="1.91" fill="#b8b8f2" opacity="0.58"/><circle cx="205.46" cy="512.22" r="1.41" fill="#7070c4" opacity="0.71"/><circle cx="182.82" cy="514.55" r="0.91" fill="#7070c4" opacity="0.66"/><circle cx="180.42" cy="527.85" r="1.96" fill="#7070c4" opacity="0.63"/><circle cx="185.73" cy="508.89" r="1.43" fill="#b8b8f2" opacity="0.44"/><circle cx="189.61" cy="509.19" r="1.36" fill="#b8b8f2" opacity="0.73"/><circle cx="202.33" cy="521.15" r="1.40" fill="#7070c4" opacity="0.56"/><circle cx="191.27" cy="528.15" r="1.99" fill="#7070c4" opacity="0.67"/><circle cx="192.97" cy="513.10" r="1.15" fill="#b8b8f2" opacity="0.69"/><circle cx="196.88" cy="525.19" r="1.26" fill="#7070c4" opacity="0.73"/><circle cx="178.53" cy="512.71" r="1.89" fill="#b8b8f2" opacity="0.79"/><circle cx="196.74" cy="510.03" r="1.56" fill="#7070c4" opacity="0.47"/><circle cx="182.50" cy="515.12" r="1.96" fill="#7070c4" opacity="0.40"/><circle cx="189.81" cy="510.58" r="0.87" fill="#7070c4" opacity="0.43"/><circle cx="204.17" cy="517.37" r="1.03" fill="#7070c4" opacity="0.41"/><circle cx="208.05" cy="510.88" r="1.30" fill="#b8b8f2" opacity="0.47"/><circle cx="223.07" cy="524.35" r="1.16" fill="#7070c4" opacity="0.44"/><circle cx="196.60" cy="525.35" r="1.57" fill="#b8b8f2" opacity="0.80"/><circle cx="188.29" cy="513.66" r="1.73" fill="#b8b8f2" opacity="0.48"/><circle cx="181.87" cy="510.37" r="1.50" fill="#b8b8f2" opacity="0.62"/><circle cx="195.56" cy="517.48" r="1.95" fill="#b8b8f2" opacity="0.61"/><circle cx="218.27" cy="512.18" r="0.98" fill="#7070c4" opacity="0.72"/><circle cx="189.95" cy="512.32" r="1.69" fill="#7070c4" opacity="0.44"/><circle cx="222.11" cy="525.89" r="1.52" fill="#b8b8f2" opacity="0.40"/><circle cx="180.28" cy="527.47" r="1.09" fill="#7070c4" opacity="0.47"/><circle cx="216.31" cy="520.29" r="1.15" fill="#b8b8f2" opacity="0.67"/><circle cx="181.66" cy="513.08" r="1.47" fill="#7070c4" opacity="0.63"/><circle cx="191.36" cy="526.58" r="1.04" fill="#b8b8f2" opacity="0.47"/><circle cx="198.96" cy="509.78" r="1.01" fill="#b8b8f2" opacity="0.61"/><circle cx="184.54" cy="515.70" r="1.87" fill="#7070c4" opacity="0.65"/><circle cx="210.23" cy="520.06" r="0.97" fill="#b8b8f2" opacity="0.36"/><circle cx="220.28" cy="522.34" r="1.96" fill="#b8b8f2" opacity="0.64"/><circle cx="200.63" cy="522.92" r="1.18" fill="#7070c4" opacity="0.38"/><circle cx="203.57" cy="523.05" r="1.88" fill="#7070c4" opacity="0.67"/><circle cx="214.91" cy="526.53" r="1.22" fill="#7070c4" opacity="0.76"/><circle cx="218.48" cy="516.78" r="1.75" fill="#7070c4" opacity="0.61"/><circle cx="207.19" cy="516.09" r="1.50" fill="#7070c4" opacity="0.39"/><circle cx="207.85" cy="528.07" r="1.86" fill="#7070c4" opacity="0.52"/><circle cx="212.24" cy="519.99" r="1.33" fill="#7070c4" opacity="0.39"/><circle cx="212.93" cy="509.18" r="1.52" fill="#b8b8f2" opacity="0.45"/><circle cx="210.55" cy="518.35" r="1.54" fill="#7070c4" opacity="0.47"/><circle cx="179.02" cy="514.50" r="1.61" fill="#b8b8f2" opacity="0.43"/><circle cx="220.07" cy="521.54" r="1.33" fill="#7070c4" opacity="0.50"/><circle cx="209.06" cy="512.49" r="1.32" fill="#7070c4" opacity="0.76"/><circle cx="218.90" cy="516.13" r="1.50" fill="#b8b8f2" opacity="0.41"/></g>
<path d="M178.50,515.90 C178.57,515.17 180.05,512.64 180.70,512.20 C181.35,511.76 184.13,511.42 185.00,511.50 C185.87,511.58 188.53,512.64 189.40,513.00 C190.27,513.36 192.98,514.67 193.70,515.10 C194.42,515.53 195.87,517.22 196.60,517.30 C197.33,517.38 200.13,516.41 201.00,515.90 C201.87,515.39 204.36,512.86 205.30,512.20 C206.24,511.54 209.39,509.66 210.40,509.30 C211.41,508.94 214.46,508.62 215.40,508.60 C216.34,508.58 219.00,508.88 219.80,509.10 C220.60,509.32 222.94,510.34 223.40,510.80 C223.86,511.26 224.54,513.15 224.40,513.70 C224.26,514.25 222.61,516.04 222.00,516.30 C221.39,516.56 219.17,516.20 218.30,516.30 C217.43,516.40 214.17,516.98 213.30,517.30 C212.43,517.62 210.33,518.99 209.60,519.50 C208.87,520.01 206.72,521.82 206.00,522.40 C205.28,522.98 203.12,524.72 202.40,525.30 C201.68,525.88 199.52,527.91 198.80,528.20 C198.08,528.49 195.93,528.64 195.20,528.20 C194.47,527.76 192.23,524.38 191.50,523.80 C190.77,523.22 188.69,522.69 187.90,522.40 C187.11,522.11 184.39,521.19 183.60,520.90 C182.81,520.61 180.51,520.00 180.00,519.50 C179.49,519.00 178.43,516.63 178.50,515.90 Z" fill="none" stroke="#6a6ab8" stroke-width="0.6"/>
<clipPath id="bc2"><path d="M179.20,548.40 C179.25,547.89 179.56,545.96 180.00,545.50 C180.44,545.04 182.66,543.94 183.60,543.80 C184.54,543.66 188.24,544.14 189.40,544.10 C190.56,544.06 194.04,543.55 195.20,543.40 C196.36,543.25 199.84,542.89 201.00,542.60 C202.16,542.31 205.79,540.76 206.80,540.50 C207.81,540.24 210.24,539.86 211.10,540.00 C211.96,540.14 214.53,541.42 215.40,541.90 C216.27,542.38 219.00,544.15 219.80,544.80 C220.60,545.45 222.97,547.75 223.40,548.40 C223.83,549.05 224.24,550.79 224.10,551.30 C223.96,551.81 222.58,553.35 222.00,553.50 C221.42,553.65 219.10,553.23 218.30,552.80 C217.50,552.37 214.87,549.64 214.00,549.20 C213.13,548.76 210.61,548.40 209.60,548.40 C208.59,548.40 205.05,548.98 203.90,549.20 C202.75,549.42 199.26,550.36 198.10,550.60 C196.94,550.84 193.46,551.45 192.30,551.60 C191.14,551.75 187.52,552.10 186.50,552.10 C185.48,552.10 182.80,551.75 182.10,551.60 C181.40,551.45 179.79,550.92 179.50,550.60 C179.21,550.28 179.15,548.91 179.20,548.40 Z"/></clipPath>
<path d="M179.20,548.40 C179.25,547.89 179.56,545.96 180.00,545.50 C180.44,545.04 182.66,543.94 183.60,543.80 C184.54,543.66 188.24,544.14 189.40,544.10 C190.56,544.06 194.04,543.55 195.20,543.40 C196.36,543.25 199.84,542.89 201.00,542.60 C202.16,542.31 205.79,540.76 206.80,540.50 C207.81,540.24 210.24,539.86 211.10,540.00 C211.96,540.14 214.53,541.42 215.40,541.90 C216.27,542.38 219.00,544.15 219.80,544.80 C220.60,545.45 222.97,547.75 223.40,548.40 C223.83,549.05 224.24,550.79 224.10,551.30 C223.96,551.81 222.58,553.35 222.00,553.50 C221.42,553.65 219.10,553.23 218.30,552.80 C217.50,552.37 214.87,549.64 214.00,549.20 C213.13,548.76 210.61,548.40 209.60,548.40 C208.59,548.40 205.05,548.98 203.90,549.20 C202.75,549.42 199.26,550.36 198.10,550.60 C196.94,550.84 193.46,551.45 192.30,551.60 C191.14,551.75 187.52,552.10 186.50,552.10 C185.48,552.10 182.80,551.75 182.10,551.60 C181.40,551.45 179.79,550.92 179.50,550.60 C179.21,550.28 179.15,548.91 179.20,548.40 Z" fill="#7a7acc"/>
<g clip-path="url(#bc2)"><circle cx="200.51" cy="548.88" r="1.60" fill="#9c9ce6" opacity="0.35"/><circle cx="196.03" cy="543.70" r="1.77" fill="#6060b4" opacity="0.62"/><circle cx="204.26" cy="548.93" r="0.97" fill="#9c9ce6" opacity="0.42"/><circle cx="219.88" cy="540.79" r="1.78" fill="#9c9ce6" opacity="0.66"/><circle cx="194.33" cy="545.46" r="1.81" fill="#9c9ce6" opacity="0.38"/><circle cx="220.29" cy="546.87" r="0.91" fill="#6060b4" opacity="0.78"/><circle cx="184.25" cy="545.71" r="0.96" fill="#9c9ce6" opacity="0.63"/><circle cx="186.54" cy="549.41" r="0.86" fill="#9c9ce6" opacity="0.72"/><circle cx="197.18" cy="545.65" r="1.52" fill="#9c9ce6" opacity="0.52"/><circle cx="180.57" cy="549.81" r="1.96" fill="#6060b4" opacity="0.65"/><circle cx="195.20" cy="544.90" r="1.63" fill="#6060b4" opacity="0.40"/><circle cx="189.75" cy="544.90" r="1.41" fill="#6060b4" opacity="0.58"/><circle cx="180.46" cy="551.10" r="1.32" fill="#6060b4" opacity="0.45"/><circle cx="198.38" cy="545.24" r="1.73" fill="#9c9ce6" opacity="0.60"/><circle cx="187.19" cy="549.39" r="0.84" fill="#9c9ce6" opacity="0.50"/><circle cx="207.80" cy="540.70" r="1.35" fill="#9c9ce6" opacity="0.48"/><circle cx="200.58" cy="552.94" r="1.38" fill="#6060b4" opacity="0.43"/><circle cx="220.70" cy="544.92" r="1.03" fill="#6060b4" opacity="0.76"/><circle cx="179.50" cy="543.62" r="1.72" fill="#9c9ce6" opacity="0.46"/><circle cx="179.59" cy="540.54" r="1.54" fill="#6060b4" opacity="0.80"/><circle cx="201.81" cy="540.32" r="1.19" fill="#6060b4" opacity="0.72"/><circle cx="207.91" cy="543.10" r="1.43" fill="#9c9ce6" opacity="0.63"/><circle cx="190.99" cy="552.78" r="1.87" fill="#9c9ce6" opacity="0.48"/><circle cx="218.41" cy="543.76" r="1.93" fill="#6060b4" opacity="0.66"/><circle cx="210.84" cy="542.89" r="1.14" fill="#9c9ce6" opacity="0.66"/><circle cx="210.37" cy="541.78" r="1.86" fill="#9c9ce6" opacity="0.46"/><circle cx="198.74" cy="553.22" r="1.47" fill="#6060b4" opacity="0.76"/><circle cx="222.39" cy="550.27" r="1.30" fill="#6060b4" opacity="0.76"/><circle cx="214.64" cy="547.83" r="1.22" fill="#9c9ce6" opacity="0.68"/><circle cx="204.49" cy="540.23" r="1.65" fill="#6060b4" opacity="0.71"/><circle cx="219.50" cy="552.29" r="1.44" fill="#6060b4" opacity="0.52"/><circle cx="183.61" cy="544.77" r="1.17" fill="#6060b4" opacity="0.66"/><circle cx="203.52" cy="548.40" r="0.95" fill="#6060b4" opacity="0.67"/><circle cx="196.90" cy="543.32" r="1.29" fill="#9c9ce6" opacity="0.66"/><circle cx="185.57" cy="541.22" r="1.17" fill="#6060b4" opacity="0.69"/><circle cx="208.81" cy="552.62" r="1.24" fill="#9c9ce6" opacity="0.57"/><circle cx="199.12" cy="542.42" r="1.60" fill="#9c9ce6" opacity="0.46"/><circle cx="193.90" cy="552.74" r="0.81" fill="#9c9ce6" opacity="0.48"/><circle cx="188.24" cy="545.84" r="1.06" fill="#6060b4" opacity="0.58"/><circle cx="210.54" cy="542.19" r="1.36" fill="#6060b4" opacity="0.73"/></g>
<path d="M179.20,548.40 C179.25,547.89 179.56,545.96 180.00,545.50 C180.44,545.04 182.66,543.94 183.60,543.80 C184.54,543.66 188.24,544.14 189.40,544.10 C190.56,544.06 194.04,543.55 195.20,543.40 C196.36,543.25 199.84,542.89 201.00,542.60 C202.16,542.31 205.79,540.76 206.80,540.50 C207.81,540.24 210.24,539.86 211.10,540.00 C211.96,540.14 214.53,541.42 215.40,541.90 C216.27,542.38 219.00,544.15 219.80,544.80 C220.60,545.45 222.97,547.75 223.40,548.40 C223.83,549.05 224.24,550.79 224.10,551.30 C223.96,551.81 222.58,553.35 222.00,553.50 C221.42,553.65 219.10,553.23 218.30,552.80 C217.50,552.37 214.87,549.64 214.00,549.20 C213.13,548.76 210.61,548.40 209.60,548.40 C208.59,548.40 205.05,548.98 203.90,549.20 C202.75,549.42 199.26,550.36 198.10,550.60 C196.94,550.84 193.46,551.45 192.30,551.60 C191.14,551.75 187.52,552.10 186.50,552.10 C185.48,552.10 182.80,551.75 182.10,551.60 C181.40,551.45 179.79,550.92 179.50,550.60 C179.21,550.28 179.15,548.91 179.20,548.40 Z" fill="none" stroke="#5a5aae" stroke-width="0.6"/>
<line x1="197.50" y1="534.00" x2="205.00" y2="534.00" stroke="#999" stroke-width="0.7" />
<path d="M198.90,531.40 C202.30,531.40 202.30,536.60 199.30,536.60" fill="none" stroke="#111" stroke-width="1.3"/>
<polygon points="198.10,536.60 200.40,535.00 200.20,538.20" fill="#111" stroke="none" stroke-width="1" />
<text x="208.20" y="537.00" font-size="8.3" stroke="#000" stroke-width="0.18">90°</text>
<line x1="225.00" y1="556.60" x2="231.40" y2="556.60" stroke="#444" stroke-width="0.9" />
<clipPath id="bc3"><path d="M256.30,521.50 C256.39,520.94 257.03,519.00 257.50,518.60 C257.97,518.20 260.25,517.73 261.00,517.50 C261.75,517.27 264.20,516.51 265.00,516.30 C265.80,516.09 268.20,515.52 269.00,515.40 C269.80,515.28 272.20,515.06 273.00,515.10 C273.80,515.14 276.20,515.69 277.00,515.80 C277.80,515.91 280.20,516.14 281.00,516.20 C281.80,516.26 284.27,516.27 285.00,516.40 C285.73,516.53 287.93,517.09 288.30,517.50 C288.67,517.91 288.73,519.93 288.70,520.50 C288.67,521.07 288.47,522.91 288.00,523.20 C287.53,523.49 284.90,523.37 284.00,523.40 C283.10,523.43 280.00,523.46 279.00,523.50 C278.00,523.54 275.00,523.75 274.00,523.80 C273.00,523.85 270.00,523.93 269.00,524.00 C268.00,524.07 265.00,524.38 264.00,524.50 C263.00,524.62 259.74,525.23 259.00,525.20 C258.26,525.17 256.87,524.57 256.60,524.20 C256.33,523.83 256.21,522.06 256.30,521.50 Z"/></clipPath>
<path d="M256.30,521.50 C256.39,520.94 257.03,519.00 257.50,518.60 C257.97,518.20 260.25,517.73 261.00,517.50 C261.75,517.27 264.20,516.51 265.00,516.30 C265.80,516.09 268.20,515.52 269.00,515.40 C269.80,515.28 272.20,515.06 273.00,515.10 C273.80,515.14 276.20,515.69 277.00,515.80 C277.80,515.91 280.20,516.14 281.00,516.20 C281.80,516.26 284.27,516.27 285.00,516.40 C285.73,516.53 287.93,517.09 288.30,517.50 C288.67,517.91 288.73,519.93 288.70,520.50 C288.67,521.07 288.47,522.91 288.00,523.20 C287.53,523.49 284.90,523.37 284.00,523.40 C283.10,523.43 280.00,523.46 279.00,523.50 C278.00,523.54 275.00,523.75 274.00,523.80 C273.00,523.85 270.00,523.93 269.00,524.00 C268.00,524.07 265.00,524.38 264.00,524.50 C263.00,524.62 259.74,525.23 259.00,525.20 C258.26,525.17 256.87,524.57 256.60,524.20 C256.33,523.83 256.21,522.06 256.30,521.50 Z" fill="#cacae2"/>
<g clip-path="url(#bc3)"><circle cx="264.69" cy="522.02" r="1.62" fill="#b0b0cc" opacity="0.43"/><circle cx="263.77" cy="516.59" r="1.07" fill="#b0b0cc" opacity="0.41"/><circle cx="273.51" cy="517.26" r="1.15" fill="#eeeefa" opacity="0.73"/><circle cx="276.01" cy="515.25" r="1.13" fill="#eeeefa" opacity="0.74"/><circle cx="282.54" cy="523.24" r="1.79" fill="#b0b0cc" opacity="0.78"/><circle cx="282.02" cy="517.69" r="1.82" fill="#eeeefa" opacity="0.69"/><circle cx="274.58" cy="519.44" r="1.24" fill="#eeeefa" opacity="0.49"/><circle cx="260.10" cy="523.38" r="1.76" fill="#b0b0cc" opacity="0.66"/><circle cx="274.26" cy="522.66" r="0.96" fill="#b0b0cc" opacity="0.55"/><circle cx="262.02" cy="517.15" r="1.43" fill="#eeeefa" opacity="0.56"/><circle cx="275.92" cy="519.10" r="0.96" fill="#eeeefa" opacity="0.46"/><circle cx="263.94" cy="517.06" r="1.24" fill="#eeeefa" opacity="0.64"/><circle cx="287.20" cy="519.04" r="1.66" fill="#b0b0cc" opacity="0.37"/><circle cx="260.89" cy="523.24" r="1.81" fill="#b0b0cc" opacity="0.42"/><circle cx="269.70" cy="523.87" r="1.86" fill="#b0b0cc" opacity="0.44"/><circle cx="283.96" cy="518.89" r="1.66" fill="#eeeefa" opacity="0.79"/><circle cx="275.85" cy="522.40" r="1.05" fill="#b0b0cc" opacity="0.61"/><circle cx="275.46" cy="518.73" r="1.67" fill="#eeeefa" opacity="0.48"/><circle cx="261.63" cy="522.01" r="0.93" fill="#eeeefa" opacity="0.38"/><circle cx="277.15" cy="520.72" r="1.45" fill="#eeeefa" opacity="0.55"/><circle cx="267.42" cy="516.04" r="0.80" fill="#b0b0cc" opacity="0.40"/><circle cx="266.07" cy="517.82" r="1.52" fill="#eeeefa" opacity="0.56"/><circle cx="268.18" cy="523.53" r="0.81" fill="#eeeefa" opacity="0.57"/><circle cx="287.72" cy="520.32" r="1.37" fill="#b0b0cc" opacity="0.48"/><circle cx="257.33" cy="520.16" r="1.89" fill="#b0b0cc" opacity="0.47"/><circle cx="278.46" cy="523.68" r="1.11" fill="#b0b0cc" opacity="0.51"/><circle cx="264.21" cy="518.00" r="1.04" fill="#eeeefa" opacity="0.37"/><circle cx="269.18" cy="515.98" r="1.71" fill="#b0b0cc" opacity="0.35"/><circle cx="281.37" cy="517.02" r="1.38" fill="#b0b0cc" opacity="0.50"/><circle cx="265.68" cy="519.49" r="0.96" fill="#b0b0cc" opacity="0.40"/><circle cx="282.98" cy="517.30" r="1.16" fill="#eeeefa" opacity="0.37"/><circle cx="260.46" cy="518.75" r="1.33" fill="#b0b0cc" opacity="0.80"/><circle cx="257.71" cy="520.50" r="0.96" fill="#b0b0cc" opacity="0.50"/><circle cx="285.23" cy="520.61" r="0.95" fill="#eeeefa" opacity="0.46"/><circle cx="284.42" cy="516.61" r="1.37" fill="#eeeefa" opacity="0.51"/></g>
<path d="M256.30,521.50 C256.39,520.94 257.03,519.00 257.50,518.60 C257.97,518.20 260.25,517.73 261.00,517.50 C261.75,517.27 264.20,516.51 265.00,516.30 C265.80,516.09 268.20,515.52 269.00,515.40 C269.80,515.28 272.20,515.06 273.00,515.10 C273.80,515.14 276.20,515.69 277.00,515.80 C277.80,515.91 280.20,516.14 281.00,516.20 C281.80,516.26 284.27,516.27 285.00,516.40 C285.73,516.53 287.93,517.09 288.30,517.50 C288.67,517.91 288.73,519.93 288.70,520.50 C288.67,521.07 288.47,522.91 288.00,523.20 C287.53,523.49 284.90,523.37 284.00,523.40 C283.10,523.43 280.00,523.46 279.00,523.50 C278.00,523.54 275.00,523.75 274.00,523.80 C273.00,523.85 270.00,523.93 269.00,524.00 C268.00,524.07 265.00,524.38 264.00,524.50 C263.00,524.62 259.74,525.23 259.00,525.20 C258.26,525.17 256.87,524.57 256.60,524.20 C256.33,523.83 256.21,522.06 256.30,521.50 Z" fill="none" stroke="#a8a8c8" stroke-width="0.5"/>
<clipPath id="bc4"><path d="M256.30,544.50 C256.32,543.96 257.03,542.11 257.50,541.80 C257.97,541.49 260.15,541.46 261.00,541.40 C261.85,541.34 265.00,541.24 266.00,541.20 C267.00,541.16 270.00,541.06 271.00,541.00 C272.00,540.94 275.00,540.66 276.00,540.60 C277.00,540.54 280.05,540.34 281.00,540.40 C281.95,540.46 284.75,540.92 285.50,541.20 C286.25,541.48 288.18,542.76 288.50,543.20 C288.82,543.64 288.90,545.17 288.70,545.60 C288.50,546.03 287.27,547.30 286.50,547.50 C285.73,547.70 282.05,547.61 281.00,547.60 C279.95,547.59 277.00,547.38 276.00,547.40 C275.00,547.42 272.00,547.75 271.00,547.80 C270.00,547.85 267.00,547.90 266.00,547.90 C265.00,547.90 261.87,547.87 261.00,547.80 C260.13,547.73 257.77,547.53 257.30,547.20 C256.83,546.87 256.28,545.04 256.30,544.50 Z"/></clipPath>
<path d="M256.30,544.50 C256.32,543.96 257.03,542.11 257.50,541.80 C257.97,541.49 260.15,541.46 261.00,541.40 C261.85,541.34 265.00,541.24 266.00,541.20 C267.00,541.16 270.00,541.06 271.00,541.00 C272.00,540.94 275.00,540.66 276.00,540.60 C277.00,540.54 280.05,540.34 281.00,540.40 C281.95,540.46 284.75,540.92 285.50,541.20 C286.25,541.48 288.18,542.76 288.50,543.20 C288.82,543.64 288.90,545.17 288.70,545.60 C288.50,546.03 287.27,547.30 286.50,547.50 C285.73,547.70 282.05,547.61 281.00,547.60 C279.95,547.59 277.00,547.38 276.00,547.40 C275.00,547.42 272.00,547.75 271.00,547.80 C270.00,547.85 267.00,547.90 266.00,547.90 C265.00,547.90 261.87,547.87 261.00,547.80 C260.13,547.73 257.77,547.53 257.30,547.20 C256.83,546.87 256.28,545.04 256.30,544.50 Z" fill="#cdcde4"/>
<g clip-path="url(#bc4)"><circle cx="259.76" cy="545.67" r="1.58" fill="#b0b0cc" opacity="0.47"/><circle cx="264.59" cy="545.91" r="1.59" fill="#eeeefa" opacity="0.66"/><circle cx="269.15" cy="546.23" r="0.94" fill="#eeeefa" opacity="0.76"/><circle cx="267.90" cy="542.35" r="1.77" fill="#b0b0cc" opacity="0.42"/><circle cx="274.16" cy="545.38" r="1.00" fill="#b0b0cc" opacity="0.41"/><circle cx="267.22" cy="541.02" r="1.05" fill="#b0b0cc" opacity="0.53"/><circle cx="288.39" cy="543.69" r="1.53" fill="#b0b0cc" opacity="0.66"/><circle cx="259.91" cy="544.82" r="1.56" fill="#eeeefa" opacity="0.39"/><circle cx="284.64" cy="544.25" r="1.03" fill="#eeeefa" opacity="0.45"/><circle cx="282.16" cy="544.15" r="0.92" fill="#b0b0cc" opacity="0.39"/><circle cx="265.39" cy="540.61" r="1.69" fill="#eeeefa" opacity="0.59"/><circle cx="259.31" cy="544.00" r="1.62" fill="#b0b0cc" opacity="0.55"/><circle cx="272.01" cy="543.68" r="1.51" fill="#eeeefa" opacity="0.56"/><circle cx="263.95" cy="546.89" r="1.93" fill="#eeeefa" opacity="0.41"/><circle cx="279.09" cy="544.69" r="0.82" fill="#b0b0cc" opacity="0.77"/><circle cx="270.01" cy="543.01" r="1.48" fill="#b0b0cc" opacity="0.47"/><circle cx="266.09" cy="541.82" r="1.55" fill="#eeeefa" opacity="0.47"/><circle cx="268.87" cy="540.66" r="1.17" fill="#b0b0cc" opacity="0.61"/><circle cx="265.46" cy="547.42" r="1.23" fill="#eeeefa" opacity="0.37"/><circle cx="261.04" cy="541.89" r="1.08" fill="#b0b0cc" opacity="0.47"/><circle cx="264.35" cy="544.93" r="1.90" fill="#eeeefa" opacity="0.69"/><circle cx="268.25" cy="544.61" r="1.52" fill="#b0b0cc" opacity="0.69"/><circle cx="272.76" cy="546.71" r="1.24" fill="#eeeefa" opacity="0.78"/><circle cx="273.99" cy="546.20" r="1.18" fill="#b0b0cc" opacity="0.63"/><circle cx="264.31" cy="547.40" r="1.36" fill="#eeeefa" opacity="0.47"/><circle cx="259.65" cy="541.90" r="1.63" fill="#eeeefa" opacity="0.47"/><circle cx="270.80" cy="544.49" r="1.26" fill="#b0b0cc" opacity="0.47"/><circle cx="268.24" cy="543.59" r="0.95" fill="#eeeefa" opacity="0.42"/><circle cx="279.80" cy="541.50" r="1.60" fill="#eeeefa" opacity="0.64"/><circle cx="277.57" cy="543.05" r="1.92" fill="#b0b0cc" opacity="0.60"/><circle cx="257.80" cy="543.45" r="1.12" fill="#eeeefa" opacity="0.77"/><circle cx="284.29" cy="540.86" r="1.62" fill="#b0b0cc" opacity="0.59"/><circle cx="259.43" cy="546.90" r="1.31" fill="#b0b0cc" opacity="0.74"/><circle cx="283.16" cy="547.38" r="0.88" fill="#b0b0cc" opacity="0.49"/><circle cx="260.68" cy="543.24" r="1.51" fill="#eeeefa" opacity="0.55"/></g>
<path d="M256.30,544.50 C256.32,543.96 257.03,542.11 257.50,541.80 C257.97,541.49 260.15,541.46 261.00,541.40 C261.85,541.34 265.00,541.24 266.00,541.20 C267.00,541.16 270.00,541.06 271.00,541.00 C272.00,540.94 275.00,540.66 276.00,540.60 C277.00,540.54 280.05,540.34 281.00,540.40 C281.95,540.46 284.75,540.92 285.50,541.20 C286.25,541.48 288.18,542.76 288.50,543.20 C288.82,543.64 288.90,545.17 288.70,545.60 C288.50,546.03 287.27,547.30 286.50,547.50 C285.73,547.70 282.05,547.61 281.00,547.60 C279.95,547.59 277.00,547.38 276.00,547.40 C275.00,547.42 272.00,547.75 271.00,547.80 C270.00,547.85 267.00,547.90 266.00,547.90 C265.00,547.90 261.87,547.87 261.00,547.80 C260.13,547.73 257.77,547.53 257.30,547.20 C256.83,546.87 256.28,545.04 256.30,544.50 Z" fill="none" stroke="#a8a8c8" stroke-width="0.5"/>
<line x1="268.60" y1="531.00" x2="276.10" y2="531.00" stroke="#999" stroke-width="0.7" />
<path d="M270.00,528.40 C273.40,528.40 273.40,533.60 270.40,533.60" fill="none" stroke="#111" stroke-width="1.3"/>
<polygon points="269.20,533.60 271.50,532.00 271.30,535.20" fill="#111" stroke="none" stroke-width="1" />
<text x="276.00" y="534.00" font-size="8.3" stroke="#000" stroke-width="0.18">90°</text>
<line x1="290.70" y1="556.30" x2="298.10" y2="556.30" stroke="#222" stroke-width="0.9" />
<clipPath id="bc5"><path d="M175.60,617.30 C175.67,616.51 177.15,613.58 177.80,613.00 C178.45,612.42 181.23,611.43 182.10,611.50 C182.97,611.57 185.63,613.19 186.50,613.70 C187.37,614.21 189.79,616.34 190.80,616.60 C191.81,616.86 195.44,616.45 196.60,616.30 C197.76,616.15 201.38,615.29 202.40,615.10 C203.42,614.91 205.93,614.32 206.80,614.40 C207.67,614.48 210.24,615.68 211.10,615.90 C211.96,616.12 214.39,616.79 215.40,616.60 C216.41,616.41 220.11,614.32 221.20,614.00 C222.29,613.68 225.46,613.21 226.30,613.40 C227.14,613.59 229.24,615.29 229.60,615.90 C229.96,616.51 230.16,618.85 229.90,619.50 C229.64,620.15 227.87,621.97 227.00,622.40 C226.13,622.83 222.36,623.59 221.20,623.80 C220.04,624.01 216.56,624.35 215.40,624.50 C214.24,624.65 210.75,625.15 209.60,625.30 C208.45,625.45 205.05,625.79 203.90,626.00 C202.75,626.21 199.26,627.11 198.10,627.40 C196.94,627.69 193.32,628.82 192.30,628.90 C191.28,628.98 188.63,628.64 187.90,628.20 C187.17,627.76 185.72,625.15 185.00,624.50 C184.28,623.85 181.49,622.06 180.70,621.70 C179.91,621.34 177.61,621.34 177.10,620.90 C176.59,620.46 175.53,618.09 175.60,617.30 Z"/></clipPath>
<path d="M175.60,617.30 C175.67,616.51 177.15,613.58 177.80,613.00 C178.45,612.42 181.23,611.43 182.10,611.50 C182.97,611.57 185.63,613.19 186.50,613.70 C187.37,614.21 189.79,616.34 190.80,616.60 C191.81,616.86 195.44,616.45 196.60,616.30 C197.76,616.15 201.38,615.29 202.40,615.10 C203.42,614.91 205.93,614.32 206.80,614.40 C207.67,614.48 210.24,615.68 211.10,615.90 C211.96,616.12 214.39,616.79 215.40,616.60 C216.41,616.41 220.11,614.32 221.20,614.00 C222.29,613.68 225.46,613.21 226.30,613.40 C227.14,613.59 229.24,615.29 229.60,615.90 C229.96,616.51 230.16,618.85 229.90,619.50 C229.64,620.15 227.87,621.97 227.00,622.40 C226.13,622.83 222.36,623.59 221.20,623.80 C220.04,624.01 216.56,624.35 215.40,624.50 C214.24,624.65 210.75,625.15 209.60,625.30 C208.45,625.45 205.05,625.79 203.90,626.00 C202.75,626.21 199.26,627.11 198.10,627.40 C196.94,627.69 193.32,628.82 192.30,628.90 C191.28,628.98 188.63,628.64 187.90,628.20 C187.17,627.76 185.72,625.15 185.00,624.50 C184.28,623.85 181.49,622.06 180.70,621.70 C179.91,621.34 177.61,621.34 177.10,620.90 C176.59,620.46 175.53,618.09 175.60,617.30 Z" fill="#2a2aa0"/>
<g clip-path="url(#bc5)"><circle cx="228.01" cy="611.70" r="1.68" fill="#4c4cc8" opacity="0.79"/><circle cx="176.52" cy="626.80" r="1.62" fill="#1e1e88" opacity="0.80"/><circle cx="188.62" cy="617.38" r="1.65" fill="#4c4cc8" opacity="0.47"/><circle cx="188.01" cy="626.43" r="1.85" fill="#1e1e88" opacity="0.45"/><circle cx="225.82" cy="620.40" r="1.08" fill="#4c4cc8" opacity="0.54"/><circle cx="179.89" cy="621.33" r="1.23" fill="#1e1e88" opacity="0.77"/><circle cx="210.65" cy="618.55" r="1.84" fill="#1e1e88" opacity="0.57"/><circle cx="226.91" cy="611.83" r="0.97" fill="#4c4cc8" opacity="0.77"/><circle cx="213.09" cy="624.01" r="1.14" fill="#4c4cc8" opacity="0.75"/><circle cx="181.02" cy="613.52" r="0.86" fill="#4c4cc8" opacity="0.73"/><circle cx="205.74" cy="618.49" r="1.40" fill="#4c4cc8" opacity="0.78"/><circle cx="194.81" cy="615.59" r="1.17" fill="#1e1e88" opacity="0.49"/><circle cx="224.73" cy="617.35" r="1.33" fill="#4c4cc8" opacity="0.76"/><circle cx="218.83" cy="619.76" r="0.94" fill="#4c4cc8" opacity="0.52"/><circle cx="221.21" cy="627.65" r="1.69" fill="#4c4cc8" opacity="0.37"/><circle cx="224.14" cy="627.93" r="0.99" fill="#4c4cc8" opacity="0.57"/><circle cx="228.62" cy="612.25" r="0.87" fill="#1e1e88" opacity="0.61"/><circle cx="200.70" cy="625.03" r="1.51" fill="#1e1e88" opacity="0.47"/><circle cx="180.21" cy="611.66" r="1.20" fill="#1e1e88" opacity="0.52"/><circle cx="194.46" cy="622.26" r="1.65" fill="#1e1e88" opacity="0.49"/><circle cx="220.22" cy="625.43" r="1.87" fill="#1e1e88" opacity="0.36"/><circle cx="211.94" cy="617.56" r="1.27" fill="#1e1e88" opacity="0.41"/><circle cx="189.14" cy="628.66" r="1.20" fill="#1e1e88" opacity="0.66"/><circle cx="192.69" cy="617.05" r="1.53" fill="#1e1e88" opacity="0.50"/><circle cx="178.81" cy="614.50" r="1.83" fill="#1e1e88" opacity="0.40"/><circle cx="220.95" cy="621.52" r="1.20" fill="#1e1e88" opacity="0.41"/><circle cx="180.93" cy="617.48" r="1.69" fill="#1e1e88" opacity="0.57"/><circle cx="224.84" cy="618.35" r="1.75" fill="#4c4cc8" opacity="0.70"/><circle cx="184.04" cy="622.91" r="1.81" fill="#1e1e88" opacity="0.61"/><circle cx="205.47" cy="624.57" r="1.24" fill="#4c4cc8" opacity="0.60"/><circle cx="203.86" cy="613.52" r="1.44" fill="#4c4cc8" opacity="0.42"/><circle cx="214.02" cy="625.05" r="1.21" fill="#1e1e88" opacity="0.79"/><circle cx="211.56" cy="618.60" r="1.13" fill="#4c4cc8" opacity="0.47"/><circle cx="229.84" cy="612.55" r="1.90" fill="#1e1e88" opacity="0.70"/><circle cx="180.99" cy="622.74" r="1.05" fill="#1e1e88" opacity="0.71"/><circle cx="214.78" cy="620.81" r="1.86" fill="#4c4cc8" opacity="0.42"/><circle cx="222.60" cy="612.47" r="1.30" fill="#4c4cc8" opacity="0.74"/><circle cx="195.82" cy="621.41" r="1.40" fill="#4c4cc8" opacity="0.56"/><circle cx="201.03" cy="621.88" r="1.32" fill="#4c4cc8" opacity="0.77"/><circle cx="228.62" cy="615.80" r="1.94" fill="#4c4cc8" opacity="0.50"/><circle cx="224.42" cy="614.44" r="1.60" fill="#1e1e88" opacity="0.63"/><circle cx="200.55" cy="612.03" r="1.34" fill="#4c4cc8" opacity="0.70"/><circle cx="196.80" cy="625.52" r="1.29" fill="#1e1e88" opacity="0.69"/><circle cx="184.62" cy="628.09" r="1.34" fill="#4c4cc8" opacity="0.79"/><circle cx="206.61" cy="620.55" r="1.06" fill="#4c4cc8" opacity="0.69"/><circle cx="203.07" cy="622.96" r="1.63" fill="#1e1e88" opacity="0.50"/><circle cx="222.46" cy="619.33" r="1.01" fill="#1e1e88" opacity="0.76"/><circle cx="182.14" cy="626.90" r="1.63" fill="#4c4cc8" opacity="0.61"/><circle cx="225.66" cy="614.14" r="1.59" fill="#4c4cc8" opacity="0.42"/><circle cx="227.21" cy="628.82" r="1.59" fill="#1e1e88" opacity="0.53"/></g>
<path d="M175.60,617.30 C175.67,616.51 177.15,613.58 177.80,613.00 C178.45,612.42 181.23,611.43 182.10,611.50 C182.97,611.57 185.63,613.19 186.50,613.70 C187.37,614.21 189.79,616.34 190.80,616.60 C191.81,616.86 195.44,616.45 196.60,616.30 C197.76,616.15 201.38,615.29 202.40,615.10 C203.42,614.91 205.93,614.32 206.80,614.40 C207.67,614.48 210.24,615.68 211.10,615.90 C211.96,616.12 214.39,616.79 215.40,616.60 C216.41,616.41 220.11,614.32 221.20,614.00 C222.29,613.68 225.46,613.21 226.30,613.40 C227.14,613.59 229.24,615.29 229.60,615.90 C229.96,616.51 230.16,618.85 229.90,619.50 C229.64,620.15 227.87,621.97 227.00,622.40 C226.13,622.83 222.36,623.59 221.20,623.80 C220.04,624.01 216.56,624.35 215.40,624.50 C214.24,624.65 210.75,625.15 209.60,625.30 C208.45,625.45 205.05,625.79 203.90,626.00 C202.75,626.21 199.26,627.11 198.10,627.40 C196.94,627.69 193.32,628.82 192.30,628.90 C191.28,628.98 188.63,628.64 187.90,628.20 C187.17,627.76 185.72,625.15 185.00,624.50 C184.28,623.85 181.49,622.06 180.70,621.70 C179.91,621.34 177.61,621.34 177.10,620.90 C176.59,620.46 175.53,618.09 175.60,617.30 Z" fill="none" stroke="#1a1a7a" stroke-width="0.6"/>
<clipPath id="bc6"><path d="M175.20,652.80 C175.28,652.08 176.48,649.66 177.10,649.20 C177.72,648.74 180.46,648.13 181.40,648.20 C182.34,648.27 185.41,649.88 186.50,649.90 C187.59,649.92 191.14,648.69 192.30,648.40 C193.46,648.11 196.94,647.21 198.10,647.00 C199.26,646.79 202.75,646.23 203.90,646.30 C205.05,646.37 208.45,647.41 209.60,647.70 C210.75,647.99 214.24,648.91 215.40,649.20 C216.56,649.49 220.04,650.42 221.20,650.60 C222.36,650.78 226.10,650.71 227.00,651.00 C227.90,651.29 229.94,652.89 230.20,653.50 C230.46,654.11 230.06,656.56 229.60,657.10 C229.14,657.64 226.58,658.75 225.60,658.90 C224.62,659.05 220.96,658.78 219.80,658.60 C218.64,658.42 215.16,657.32 214.00,657.10 C212.84,656.88 209.36,656.47 208.20,656.40 C207.04,656.33 203.56,656.25 202.40,656.40 C201.24,656.55 197.76,657.61 196.60,657.90 C195.44,658.19 191.96,659.12 190.80,659.30 C189.64,659.48 186.08,659.77 185.00,659.70 C183.92,659.63 180.87,658.93 180.00,658.60 C179.13,658.27 176.78,656.98 176.30,656.40 C175.82,655.82 175.12,653.52 175.20,652.80 Z"/></clipPath>
<path d="M175.20,652.80 C175.28,652.08 176.48,649.66 177.10,649.20 C177.72,648.74 180.46,648.13 181.40,648.20 C182.34,648.27 185.41,649.88 186.50,649.90 C187.59,649.92 191.14,648.69 192.30,648.40 C193.46,648.11 196.94,647.21 198.10,647.00 C199.26,646.79 202.75,646.23 203.90,646.30 C205.05,646.37 208.45,647.41 209.60,647.70 C210.75,647.99 214.24,648.91 215.40,649.20 C216.56,649.49 220.04,650.42 221.20,650.60 C222.36,650.78 226.10,650.71 227.00,651.00 C227.90,651.29 229.94,652.89 230.20,653.50 C230.46,654.11 230.06,656.56 229.60,657.10 C229.14,657.64 226.58,658.75 225.60,658.90 C224.62,659.05 220.96,658.78 219.80,658.60 C218.64,658.42 215.16,657.32 214.00,657.10 C212.84,656.88 209.36,656.47 208.20,656.40 C207.04,656.33 203.56,656.25 202.40,656.40 C201.24,656.55 197.76,657.61 196.60,657.90 C195.44,658.19 191.96,659.12 190.80,659.30 C189.64,659.48 186.08,659.77 185.00,659.70 C183.92,659.63 180.87,658.93 180.00,658.60 C179.13,658.27 176.78,656.98 176.30,656.40 C175.82,655.82 175.12,653.52 175.20,652.80 Z" fill="#2a2aa0"/>
<g clip-path="url(#bc6)"><circle cx="195.08" cy="652.74" r="1.30" fill="#4c4cc8" opacity="0.53"/><circle cx="211.37" cy="649.77" r="1.56" fill="#4c4cc8" opacity="0.49"/><circle cx="193.63" cy="648.20" r="1.69" fill="#4c4cc8" opacity="0.71"/><circle cx="227.79" cy="649.70" r="1.87" fill="#1e1e88" opacity="0.65"/><circle cx="176.71" cy="652.42" r="1.55" fill="#4c4cc8" opacity="0.45"/><circle cx="192.24" cy="649.76" r="1.75" fill="#4c4cc8" opacity="0.54"/><circle cx="210.57" cy="659.01" r="1.15" fill="#4c4cc8" opacity="0.79"/><circle cx="220.99" cy="656.89" r="1.43" fill="#4c4cc8" opacity="0.42"/><circle cx="191.93" cy="652.48" r="0.88" fill="#1e1e88" opacity="0.68"/><circle cx="175.92" cy="657.59" r="1.39" fill="#1e1e88" opacity="0.56"/><circle cx="218.97" cy="652.39" r="1.54" fill="#4c4cc8" opacity="0.36"/><circle cx="183.12" cy="649.41" r="1.29" fill="#4c4cc8" opacity="0.59"/><circle cx="211.47" cy="651.66" r="1.18" fill="#1e1e88" opacity="0.78"/><circle cx="218.26" cy="655.08" r="1.78" fill="#4c4cc8" opacity="0.40"/><circle cx="180.32" cy="647.93" r="0.81" fill="#1e1e88" opacity="0.76"/><circle cx="181.45" cy="655.50" r="1.93" fill="#1e1e88" opacity="0.42"/><circle cx="210.31" cy="649.72" r="1.01" fill="#4c4cc8" opacity="0.59"/><circle cx="225.74" cy="647.69" r="0.98" fill="#4c4cc8" opacity="0.37"/><circle cx="200.75" cy="656.09" r="1.35" fill="#4c4cc8" opacity="0.36"/><circle cx="186.10" cy="655.24" r="1.91" fill="#1e1e88" opacity="0.40"/><circle cx="187.08" cy="651.87" r="0.93" fill="#4c4cc8" opacity="0.55"/><circle cx="221.43" cy="649.48" r="1.86" fill="#1e1e88" opacity="0.54"/><circle cx="187.57" cy="648.77" r="1.60" fill="#1e1e88" opacity="0.74"/><circle cx="186.68" cy="652.02" r="0.83" fill="#4c4cc8" opacity="0.48"/><circle cx="182.01" cy="647.32" r="1.99" fill="#4c4cc8" opacity="0.57"/><circle cx="204.59" cy="652.63" r="1.51" fill="#1e1e88" opacity="0.57"/><circle cx="179.57" cy="654.78" r="1.60" fill="#1e1e88" opacity="0.49"/><circle cx="200.63" cy="657.10" r="1.67" fill="#4c4cc8" opacity="0.50"/><circle cx="184.63" cy="655.83" r="1.28" fill="#4c4cc8" opacity="0.45"/><circle cx="200.18" cy="655.93" r="1.56" fill="#4c4cc8" opacity="0.53"/><circle cx="209.47" cy="647.04" r="1.88" fill="#4c4cc8" opacity="0.63"/><circle cx="183.30" cy="659.11" r="1.63" fill="#4c4cc8" opacity="0.58"/><circle cx="221.70" cy="657.74" r="1.60" fill="#1e1e88" opacity="0.68"/><circle cx="225.55" cy="653.18" r="1.54" fill="#1e1e88" opacity="0.58"/><circle cx="187.23" cy="654.08" r="1.22" fill="#1e1e88" opacity="0.69"/><circle cx="225.06" cy="647.76" r="0.83" fill="#1e1e88" opacity="0.68"/><circle cx="230.06" cy="657.21" r="1.94" fill="#4c4cc8" opacity="0.43"/><circle cx="208.91" cy="656.46" r="0.94" fill="#1e1e88" opacity="0.45"/><circle cx="186.40" cy="652.15" r="1.02" fill="#4c4cc8" opacity="0.39"/><circle cx="177.00" cy="648.32" r="1.62" fill="#1e1e88" opacity="0.70"/><circle cx="198.16" cy="656.39" r="0.94" fill="#1e1e88" opacity="0.53"/><circle cx="181.95" cy="651.44" r="1.03" fill="#1e1e88" opacity="0.52"/><circle cx="176.13" cy="648.88" r="0.90" fill="#1e1e88" opacity="0.54"/><circle cx="218.29" cy="654.25" r="1.29" fill="#1e1e88" opacity="0.60"/><circle cx="177.59" cy="659.62" r="1.22" fill="#1e1e88" opacity="0.54"/><circle cx="228.13" cy="648.54" r="0.87" fill="#4c4cc8" opacity="0.53"/><circle cx="221.85" cy="652.30" r="1.92" fill="#4c4cc8" opacity="0.78"/><circle cx="184.42" cy="658.15" r="1.03" fill="#1e1e88" opacity="0.63"/><circle cx="228.62" cy="651.82" r="1.81" fill="#4c4cc8" opacity="0.75"/><circle cx="203.72" cy="653.50" r="1.96" fill="#4c4cc8" opacity="0.63"/></g>
<path d="M175.20,652.80 C175.28,652.08 176.48,649.66 177.10,649.20 C177.72,648.74 180.46,648.13 181.40,648.20 C182.34,648.27 185.41,649.88 186.50,649.90 C187.59,649.92 191.14,648.69 192.30,648.40 C193.46,648.11 196.94,647.21 198.10,647.00 C199.26,646.79 202.75,646.23 203.90,646.30 C205.05,646.37 208.45,647.41 209.60,647.70 C210.75,647.99 214.24,648.91 215.40,649.20 C216.56,649.49 220.04,650.42 221.20,650.60 C222.36,650.78 226.10,650.71 227.00,651.00 C227.90,651.29 229.94,652.89 230.20,653.50 C230.46,654.11 230.06,656.56 229.60,657.10 C229.14,657.64 226.58,658.75 225.60,658.90 C224.62,659.05 220.96,658.78 219.80,658.60 C218.64,658.42 215.16,657.32 214.00,657.10 C212.84,656.88 209.36,656.47 208.20,656.40 C207.04,656.33 203.56,656.25 202.40,656.40 C201.24,656.55 197.76,657.61 196.60,657.90 C195.44,658.19 191.96,659.12 190.80,659.30 C189.64,659.48 186.08,659.77 185.00,659.70 C183.92,659.63 180.87,658.93 180.00,658.60 C179.13,658.27 176.78,656.98 176.30,656.40 C175.82,655.82 175.12,653.52 175.20,652.80 Z" fill="none" stroke="#1a1a7a" stroke-width="0.6"/>
<line x1="199.60" y1="636.60" x2="207.10" y2="636.60" stroke="#999" stroke-width="0.7" />
<path d="M201.00,634.00 C204.40,634.00 204.40,639.20 201.40,639.20" fill="none" stroke="#111" stroke-width="1.3"/>
<polygon points="200.20,639.20 202.50,637.60 202.30,640.80" fill="#111" stroke="none" stroke-width="1" />
<text x="210.40" y="639.60" font-size="8.3" stroke="#000" stroke-width="0.18">90°</text>
<line x1="223.00" y1="668.30" x2="230.70" y2="668.30" stroke="#444" stroke-width="0.9" />
<clipPath id="bc7"><path d="M242.50,613.50 C242.68,613.17 245.45,611.65 246.00,611.50 C246.55,611.35 252.70,610.30 253.50,610.50 C254.30,610.70 261.18,615.05 262.00,615.50 C262.82,615.95 269.43,619.40 270.00,619.50 C270.57,619.60 273.25,617.90 273.50,617.50 C273.75,617.10 274.73,612.02 275.00,611.50 C275.27,610.98 278.60,607.27 279.00,607.00 C279.40,606.73 282.45,605.80 283.00,606.00 C283.55,606.20 289.23,610.40 290.00,611.00 C290.77,611.60 298.12,617.42 298.50,618.00 C298.88,618.58 297.82,622.12 297.50,622.50 C297.18,622.88 292.68,625.23 292.00,625.50 C291.32,625.77 284.70,627.67 284.00,628.00 C283.30,628.33 278.45,631.65 278.00,632.00 C277.55,632.35 275.50,634.80 275.00,635.00 C274.50,635.20 268.65,636.05 268.00,636.00 C267.35,635.95 262.40,634.30 262.00,634.00 C261.60,633.70 260.50,630.38 260.00,630.00 C259.50,629.62 252.75,626.90 252.00,626.50 C251.25,626.10 245.47,622.42 245.00,622.00 C244.53,621.58 242.62,618.42 242.50,618.00 C242.38,617.58 242.32,613.83 242.50,613.50 Z"/></clipPath>
<path d="M242.50,613.50 C242.68,613.17 245.45,611.65 246.00,611.50 C246.55,611.35 252.70,610.30 253.50,610.50 C254.30,610.70 261.18,615.05 262.00,615.50 C262.82,615.95 269.43,619.40 270.00,619.50 C270.57,619.60 273.25,617.90 273.50,617.50 C273.75,617.10 274.73,612.02 275.00,611.50 C275.27,610.98 278.60,607.27 279.00,607.00 C279.40,606.73 282.45,605.80 283.00,606.00 C283.55,606.20 289.23,610.40 290.00,611.00 C290.77,611.60 298.12,617.42 298.50,618.00 C298.88,618.58 297.82,622.12 297.50,622.50 C297.18,622.88 292.68,625.23 292.00,625.50 C291.32,625.77 284.70,627.67 284.00,628.00 C283.30,628.33 278.45,631.65 278.00,632.00 C277.55,632.35 275.50,634.80 275.00,635.00 C274.50,635.20 268.65,636.05 268.00,636.00 C267.35,635.95 262.40,634.30 262.00,634.00 C261.60,633.70 260.50,630.38 260.00,630.00 C259.50,629.62 252.75,626.90 252.00,626.50 C251.25,626.10 245.47,622.42 245.00,622.00 C244.53,621.58 242.62,618.42 242.50,618.00 C242.38,617.58 242.32,613.83 242.50,613.50 Z" fill="#bcb428"/>
<g clip-path="url(#bc7)"><circle cx="271.73" cy="630.20" r="0.98" fill="#dcd448" opacity="0.69"/><circle cx="281.94" cy="625.84" r="0.56" fill="#dcd448" opacity="0.52"/><circle cx="284.30" cy="613.57" r="0.75" fill="#dcd448" opacity="0.73"/><circle cx="295.43" cy="618.05" r="1.00" fill="#dcd448" opacity="0.72"/><circle cx="291.52" cy="610.53" r="0.85" fill="#8c8414" opacity="0.78"/><circle cx="254.26" cy="622.20" r="0.94" fill="#8c8414" opacity="0.49"/><circle cx="247.08" cy="634.19" r="0.74" fill="#8c8414" opacity="0.41"/><circle cx="287.98" cy="630.40" r="0.96" fill="#dcd448" opacity="0.52"/><circle cx="245.39" cy="628.56" r="0.68" fill="#8c8414" opacity="0.52"/><circle cx="285.86" cy="632.03" r="0.62" fill="#8c8414" opacity="0.78"/><circle cx="272.01" cy="616.79" r="0.63" fill="#8c8414" opacity="0.44"/><circle cx="276.32" cy="622.67" r="0.78" fill="#dcd448" opacity="0.65"/><circle cx="293.83" cy="615.57" r="0.67" fill="#8c8414" opacity="0.61"/><circle cx="257.76" cy="606.29" r="0.88" fill="#dcd448" opacity="0.56"/><circle cx="257.76" cy="624.99" r="0.86" fill="#dcd448" opacity="0.38"/><circle cx="297.76" cy="633.30" r="0.51" fill="#8c8414" opacity="0.66"/><circle cx="265.07" cy="627.95" r="0.98" fill="#8c8414" opacity="0.53"/><circle cx="253.46" cy="613.54" r="0.58" fill="#dcd448" opacity="0.45"/><circle cx="289.65" cy="622.11" r="0.90" fill="#8c8414" opacity="0.71"/><circle cx="245.27" cy="633.78" r="0.55" fill="#8c8414" opacity="0.73"/><circle cx="279.32" cy="618.11" r="0.54" fill="#dcd448" opacity="0.64"/><circle cx="256.04" cy="621.97" r="0.63" fill="#dcd448" opacity="0.48"/><circle cx="283.09" cy="620.60" r="0.70" fill="#dcd448" opacity="0.60"/><circle cx="271.38" cy="619.35" r="0.98" fill="#8c8414" opacity="0.45"/><circle cx="260.32" cy="611.66" r="0.68" fill="#dcd448" opacity="0.69"/><circle cx="274.30" cy="618.68" r="0.95" fill="#dcd448" opacity="0.61"/><circle cx="294.57" cy="622.68" r="0.81" fill="#dcd448" opacity="0.80"/><circle cx="284.77" cy="615.10" r="0.68" fill="#8c8414" opacity="0.58"/><circle cx="271.81" cy="611.76" r="0.79" fill="#8c8414" opacity="0.69"/><circle cx="267.67" cy="619.37" r="0.75" fill="#8c8414" opacity="0.56"/><circle cx="243.18" cy="613.90" r="0.99" fill="#8c8414" opacity="0.56"/><circle cx="284.61" cy="612.34" r="0.63" fill="#8c8414" opacity="0.66"/><circle cx="244.04" cy="620.15" r="0.95" fill="#8c8414" opacity="0.80"/><circle cx="248.03" cy="633.26" r="0.92" fill="#dcd448" opacity="0.59"/><circle cx="285.02" cy="612.66" r="0.82" fill="#8c8414" opacity="0.71"/><circle cx="266.47" cy="607.75" r="0.77" fill="#dcd448" opacity="0.59"/><circle cx="257.59" cy="616.42" r="0.77" fill="#8c8414" opacity="0.79"/><circle cx="265.21" cy="606.22" r="0.88" fill="#dcd448" opacity="0.69"/><circle cx="289.01" cy="607.01" r="0.87" fill="#dcd448" opacity="0.49"/><circle cx="261.22" cy="622.15" r="0.62" fill="#dcd448" opacity="0.48"/><circle cx="249.48" cy="613.50" r="0.84" fill="#dcd448" opacity="0.44"/><circle cx="262.97" cy="612.41" r="0.99" fill="#8c8414" opacity="0.42"/><circle cx="258.95" cy="619.08" r="0.76" fill="#dcd448" opacity="0.59"/><circle cx="285.07" cy="610.62" r="0.78" fill="#dcd448" opacity="0.59"/><circle cx="260.26" cy="630.10" r="0.94" fill="#8c8414" opacity="0.53"/><circle cx="277.04" cy="611.06" r="0.86" fill="#8c8414" opacity="0.54"/><circle cx="260.51" cy="628.74" r="0.88" fill="#8c8414" opacity="0.48"/><circle cx="256.09" cy="613.52" r="0.60" fill="#dcd448" opacity="0.41"/><circle cx="270.09" cy="618.92" r="0.94" fill="#dcd448" opacity="0.43"/><circle cx="294.63" cy="608.18" r="0.67" fill="#8c8414" opacity="0.49"/><circle cx="296.48" cy="628.30" r="0.65" fill="#8c8414" opacity="0.76"/><circle cx="271.28" cy="610.31" r="0.55" fill="#8c8414" opacity="0.75"/><circle cx="279.12" cy="629.22" r="0.90" fill="#dcd448" opacity="0.45"/><circle cx="291.09" cy="631.18" r="0.72" fill="#dcd448" opacity="0.39"/><circle cx="265.15" cy="633.27" r="0.60" fill="#dcd448" opacity="0.37"/><circle cx="274.36" cy="607.80" r="0.84" fill="#dcd448" opacity="0.54"/><circle cx="257.02" cy="615.08" r="0.95" fill="#8c8414" opacity="0.69"/><circle cx="254.43" cy="612.24" r="0.68" fill="#8c8414" opacity="0.77"/><circle cx="255.38" cy="625.00" r="0.69" fill="#dcd448" opacity="0.44"/><circle cx="282.91" cy="629.46" r="0.97" fill="#dcd448" opacity="0.55"/><circle cx="278.69" cy="609.94" r="0.94" fill="#8c8414" opacity="0.45"/><circle cx="265.00" cy="620.58" r="0.93" fill="#8c8414" opacity="0.46"/><circle cx="295.76" cy="633.90" r="0.93" fill="#dcd448" opacity="0.56"/><circle cx="265.27" cy="635.33" r="0.74" fill="#8c8414" opacity="0.43"/><circle cx="244.20" cy="620.16" r="0.60" fill="#dcd448" opacity="0.37"/><circle cx="249.47" cy="619.23" r="0.54" fill="#dcd448" opacity="0.63"/><circle cx="257.06" cy="615.34" r="0.69" fill="#dcd448" opacity="0.60"/><circle cx="286.00" cy="606.93" r="0.77" fill="#8c8414" opacity="0.76"/><circle cx="281.93" cy="614.24" r="0.81" fill="#8c8414" opacity="0.78"/><circle cx="285.48" cy="609.23" r="0.69" fill="#dcd448" opacity="0.50"/><circle cx="284.98" cy="620.79" r="0.99" fill="#dcd448" opacity="0.71"/><circle cx="248.86" cy="621.56" r="0.57" fill="#dcd448" opacity="0.63"/><circle cx="296.19" cy="607.23" r="0.70" fill="#dcd448" opacity="0.68"/><circle cx="250.54" cy="611.91" r="0.90" fill="#dcd448" opacity="0.75"/><circle cx="257.52" cy="635.88" r="0.55" fill="#dcd448" opacity="0.56"/><circle cx="259.80" cy="625.32" r="0.65" fill="#dcd448" opacity="0.36"/><circle cx="247.46" cy="606.09" r="0.73" fill="#8c8414" opacity="0.59"/><circle cx="260.61" cy="619.78" r="0.88" fill="#8c8414" opacity="0.39"/><circle cx="278.70" cy="614.91" r="0.96" fill="#8c8414" opacity="0.62"/><circle cx="279.80" cy="628.86" r="0.54" fill="#dcd448" opacity="0.37"/><circle cx="251.13" cy="633.83" r="0.79" fill="#dcd448" opacity="0.48"/><circle cx="265.99" cy="608.56" r="0.91" fill="#dcd448" opacity="0.38"/><circle cx="271.32" cy="618.41" r="0.88" fill="#dcd448" opacity="0.46"/><circle cx="270.59" cy="618.14" r="0.56" fill="#8c8414" opacity="0.74"/><circle cx="289.04" cy="625.73" r="0.74" fill="#8c8414" opacity="0.44"/><circle cx="248.04" cy="612.15" r="0.77" fill="#dcd448" opacity="0.55"/><circle cx="288.00" cy="624.53" r="0.60" fill="#dcd448" opacity="0.35"/><circle cx="245.36" cy="613.85" r="0.86" fill="#8c8414" opacity="0.52"/><circle cx="245.07" cy="622.79" r="0.97" fill="#dcd448" opacity="0.63"/><circle cx="298.39" cy="615.71" r="0.80" fill="#8c8414" opacity="0.65"/><circle cx="252.17" cy="629.59" r="0.79" fill="#8c8414" opacity="0.62"/><circle cx="288.74" cy="623.14" r="0.96" fill="#dcd448" opacity="0.36"/><circle cx="250.20" cy="621.22" r="0.86" fill="#8c8414" opacity="0.35"/><circle cx="242.94" cy="617.48" r="0.83" fill="#dcd448" opacity="0.48"/><circle cx="253.85" cy="627.38" r="0.80" fill="#8c8414" opacity="0.50"/><circle cx="269.16" cy="634.86" r="0.85" fill="#dcd448" opacity="0.68"/><circle cx="267.55" cy="608.69" r="0.55" fill="#dcd448" opacity="0.49"/><circle cx="257.04" cy="627.70" r="0.63" fill="#dcd448" opacity="0.58"/><circle cx="242.95" cy="630.12" r="0.63" fill="#dcd448" opacity="0.58"/><circle cx="254.44" cy="606.97" r="0.56" fill="#dcd448" opacity="0.51"/><circle cx="260.78" cy="612.29" r="0.59" fill="#8c8414" opacity="0.61"/><circle cx="276.48" cy="606.29" r="0.96" fill="#dcd448" opacity="0.69"/><circle cx="279.11" cy="618.33" r="0.67" fill="#8c8414" opacity="0.61"/><circle cx="289.70" cy="607.70" r="0.54" fill="#8c8414" opacity="0.48"/><circle cx="274.98" cy="617.48" r="0.52" fill="#8c8414" opacity="0.43"/><circle cx="261.18" cy="628.31" r="0.96" fill="#8c8414" opacity="0.77"/><circle cx="260.40" cy="613.01" r="0.73" fill="#8c8414" opacity="0.64"/><circle cx="277.50" cy="627.18" r="0.61" fill="#8c8414" opacity="0.54"/><circle cx="291.81" cy="615.29" r="0.77" fill="#8c8414" opacity="0.67"/><circle cx="286.58" cy="628.43" r="0.57" fill="#8c8414" opacity="0.37"/><circle cx="283.47" cy="615.11" r="0.55" fill="#dcd448" opacity="0.40"/><circle cx="254.33" cy="635.01" r="0.91" fill="#dcd448" opacity="0.57"/><circle cx="276.02" cy="615.53" r="0.57" fill="#dcd448" opacity="0.73"/><circle cx="296.29" cy="624.24" r="0.90" fill="#dcd448" opacity="0.70"/><circle cx="287.86" cy="633.08" r="0.60" fill="#8c8414" opacity="0.38"/><circle cx="275.07" cy="620.18" r="0.80" fill="#8c8414" opacity="0.50"/><circle cx="250.38" cy="615.64" r="0.89" fill="#dcd448" opacity="0.78"/><circle cx="289.47" cy="613.91" r="0.73" fill="#8c8414" opacity="0.35"/><circle cx="285.62" cy="618.20" r="0.84" fill="#dcd448" opacity="0.64"/><circle cx="245.70" cy="614.53" r="0.81" fill="#8c8414" opacity="0.51"/><circle cx="256.94" cy="616.95" r="0.65" fill="#dcd448" opacity="0.46"/><circle cx="270.31" cy="628.56" r="0.91" fill="#dcd448" opacity="0.78"/><circle cx="261.93" cy="631.04" r="0.91" fill="#8c8414" opacity="0.76"/><circle cx="276.32" cy="632.43" r="0.64" fill="#8c8414" opacity="0.61"/><circle cx="272.35" cy="607.80" r="0.63" fill="#8c8414" opacity="0.52"/><circle cx="281.80" cy="628.00" r="0.78" fill="#dcd448" opacity="0.55"/><circle cx="294.15" cy="615.44" r="0.54" fill="#8c8414" opacity="0.52"/><circle cx="253.66" cy="621.39" r="0.96" fill="#8c8414" opacity="0.45"/><circle cx="242.98" cy="618.66" r="0.63" fill="#8c8414" opacity="0.75"/><circle cx="297.23" cy="633.40" r="0.64" fill="#8c8414" opacity="0.60"/><circle cx="272.31" cy="622.24" r="0.61" fill="#dcd448" opacity="0.37"/><circle cx="281.13" cy="611.00" r="0.93" fill="#8c8414" opacity="0.49"/><circle cx="292.61" cy="608.77" r="0.60" fill="#8c8414" opacity="0.52"/><circle cx="293.32" cy="620.77" r="0.50" fill="#8c8414" opacity="0.79"/><circle cx="267.82" cy="627.44" r="0.84" fill="#dcd448" opacity="0.69"/><circle cx="270.05" cy="626.83" r="0.50" fill="#dcd448" opacity="0.44"/><circle cx="294.40" cy="606.89" r="0.51" fill="#dcd448" opacity="0.72"/><circle cx="253.31" cy="626.47" r="0.89" fill="#8c8414" opacity="0.52"/><circle cx="284.21" cy="609.58" r="0.63" fill="#8c8414" opacity="0.45"/><circle cx="256.95" cy="610.09" r="0.77" fill="#8c8414" opacity="0.42"/></g>
<path d="M242.50,613.50 C242.68,613.17 245.45,611.65 246.00,611.50 C246.55,611.35 252.70,610.30 253.50,610.50 C254.30,610.70 261.18,615.05 262.00,615.50 C262.82,615.95 269.43,619.40 270.00,619.50 C270.57,619.60 273.25,617.90 273.50,617.50 C273.75,617.10 274.73,612.02 275.00,611.50 C275.27,610.98 278.60,607.27 279.00,607.00 C279.40,606.73 282.45,605.80 283.00,606.00 C283.55,606.20 289.23,610.40 290.00,611.00 C290.77,611.60 298.12,617.42 298.50,618.00 C298.88,618.58 297.82,622.12 297.50,622.50 C297.18,622.88 292.68,625.23 292.00,625.50 C291.32,625.77 284.70,627.67 284.00,628.00 C283.30,628.33 278.45,631.65 278.00,632.00 C277.55,632.35 275.50,634.80 275.00,635.00 C274.50,635.20 268.65,636.05 268.00,636.00 C267.35,635.95 262.40,634.30 262.00,634.00 C261.60,633.70 260.50,630.38 260.00,630.00 C259.50,629.62 252.75,626.90 252.00,626.50 C251.25,626.10 245.47,622.42 245.00,622.00 C244.53,621.58 242.62,618.42 242.50,618.00 C242.38,617.58 242.32,613.83 242.50,613.50 Z" fill="none" stroke="#7a7210" stroke-width="0.6"/>
<clipPath id="bc8"><path d="M242.80,663.10 C242.80,662.76 244.55,659.25 244.90,658.90 C245.25,658.55 249.28,656.35 249.80,656.10 C250.33,655.86 254.84,654.17 255.40,654.00 C255.96,653.83 260.44,652.71 261.00,652.60 C261.56,652.50 266.13,651.88 266.70,651.90 C267.26,651.92 271.78,652.89 272.30,653.00 C272.82,653.11 276.78,653.88 277.20,654.00 C277.62,654.12 280.31,655.26 280.70,655.40 C281.08,655.54 284.34,656.71 284.90,656.80 C285.46,656.89 291.27,657.13 291.90,657.20 C292.53,657.27 297.19,657.98 297.50,658.20 C297.81,658.43 298.31,661.38 298.20,661.70 C298.09,662.02 296.00,664.33 295.40,664.50 C294.80,664.67 287.04,665.19 286.30,665.20 C285.56,665.22 281.15,664.94 280.70,664.80 C280.25,664.66 277.62,662.55 277.20,662.40 C276.78,662.25 272.82,661.70 272.30,661.70 C271.78,661.70 267.26,662.29 266.70,662.40 C266.13,662.50 261.56,663.68 261.00,663.80 C260.44,663.92 255.96,664.69 255.40,664.80 C254.84,664.90 250.33,665.86 249.80,665.90 C249.28,665.94 245.25,665.74 244.90,665.60 C244.55,665.46 242.80,663.44 242.80,663.10 Z"/></clipPath>
<path d="M242.80,663.10 C242.80,662.76 244.55,659.25 244.90,658.90 C245.25,658.55 249.28,656.35 249.80,656.10 C250.33,655.86 254.84,654.17 255.40,654.00 C255.96,653.83 260.44,652.71 261.00,652.60 C261.56,652.50 266.13,651.88 266.70,651.90 C267.26,651.92 271.78,652.89 272.30,653.00 C272.82,653.11 276.78,653.88 277.20,654.00 C277.62,654.12 280.31,655.26 280.70,655.40 C281.08,655.54 284.34,656.71 284.90,656.80 C285.46,656.89 291.27,657.13 291.90,657.20 C292.53,657.27 297.19,657.98 297.50,658.20 C297.81,658.43 298.31,661.38 298.20,661.70 C298.09,662.02 296.00,664.33 295.40,664.50 C294.80,664.67 287.04,665.19 286.30,665.20 C285.56,665.22 281.15,664.94 280.70,664.80 C280.25,664.66 277.62,662.55 277.20,662.40 C276.78,662.25 272.82,661.70 272.30,661.70 C271.78,661.70 267.26,662.29 266.70,662.40 C266.13,662.50 261.56,663.68 261.00,663.80 C260.44,663.92 255.96,664.69 255.40,664.80 C254.84,664.90 250.33,665.86 249.80,665.90 C249.28,665.94 245.25,665.74 244.90,665.60 C244.55,665.46 242.80,663.44 242.80,663.10 Z" fill="#b8b024"/>
<g clip-path="url(#bc8)"><circle cx="252.84" cy="661.16" r="0.67" fill="#dcd448" opacity="0.57"/><circle cx="270.17" cy="658.62" r="0.73" fill="#dcd448" opacity="0.46"/><circle cx="281.13" cy="656.44" r="0.84" fill="#8c8414" opacity="0.74"/><circle cx="295.10" cy="655.18" r="0.62" fill="#8c8414" opacity="0.61"/><circle cx="253.98" cy="661.39" r="0.94" fill="#8c8414" opacity="0.45"/><circle cx="259.36" cy="651.99" r="0.99" fill="#dcd448" opacity="0.68"/><circle cx="272.60" cy="660.21" r="0.76" fill="#8c8414" opacity="0.62"/><circle cx="259.60" cy="653.51" r="0.74" fill="#8c8414" opacity="0.42"/><circle cx="280.69" cy="660.74" r="0.58" fill="#dcd448" opacity="0.66"/><circle cx="267.01" cy="657.60" r="0.74" fill="#dcd448" opacity="0.67"/><circle cx="275.40" cy="659.38" r="0.67" fill="#8c8414" opacity="0.72"/><circle cx="272.99" cy="653.14" r="0.57" fill="#dcd448" opacity="0.39"/><circle cx="278.72" cy="659.51" r="0.60" fill="#8c8414" opacity="0.63"/><circle cx="286.69" cy="663.35" r="0.84" fill="#8c8414" opacity="0.79"/><circle cx="250.16" cy="661.55" r="0.94" fill="#dcd448" opacity="0.72"/><circle cx="252.85" cy="657.73" r="0.64" fill="#dcd448" opacity="0.67"/><circle cx="250.75" cy="656.64" r="0.92" fill="#dcd448" opacity="0.41"/><circle cx="297.89" cy="659.48" r="0.51" fill="#8c8414" opacity="0.42"/><circle cx="251.82" cy="662.24" r="0.83" fill="#dcd448" opacity="0.58"/><circle cx="273.75" cy="658.32" r="0.55" fill="#8c8414" opacity="0.70"/><circle cx="266.18" cy="657.55" r="0.81" fill="#dcd448" opacity="0.54"/><circle cx="291.34" cy="664.57" r="0.58" fill="#dcd448" opacity="0.70"/><circle cx="295.85" cy="662.12" r="0.65" fill="#dcd448" opacity="0.72"/><circle cx="294.33" cy="662.52" r="0.87" fill="#8c8414" opacity="0.59"/><circle cx="294.33" cy="655.57" r="0.54" fill="#8c8414" opacity="0.66"/><circle cx="286.92" cy="653.72" r="0.65" fill="#8c8414" opacity="0.38"/><circle cx="261.00" cy="660.34" r="0.97" fill="#8c8414" opacity="0.53"/><circle cx="265.40" cy="659.08" r="0.87" fill="#8c8414" opacity="0.35"/><circle cx="294.07" cy="663.14" r="0.52" fill="#dcd448" opacity="0.47"/><circle cx="254.74" cy="654.17" r="0.57" fill="#8c8414" opacity="0.55"/><circle cx="248.73" cy="663.71" r="0.92" fill="#dcd448" opacity="0.72"/><circle cx="285.78" cy="659.32" r="0.54" fill="#8c8414" opacity="0.74"/><circle cx="291.93" cy="665.20" r="0.58" fill="#8c8414" opacity="0.39"/><circle cx="262.95" cy="659.45" r="0.82" fill="#8c8414" opacity="0.76"/><circle cx="285.71" cy="663.93" r="0.84" fill="#dcd448" opacity="0.36"/><circle cx="278.64" cy="665.00" r="0.60" fill="#8c8414" opacity="0.36"/><circle cx="264.80" cy="662.41" r="0.86" fill="#8c8414" opacity="0.48"/><circle cx="256.45" cy="653.86" r="0.82" fill="#dcd448" opacity="0.41"/><circle cx="282.52" cy="658.15" r="0.51" fill="#dcd448" opacity="0.77"/><circle cx="271.15" cy="655.66" r="0.57" fill="#dcd448" opacity="0.46"/><circle cx="258.03" cy="652.75" r="0.80" fill="#8c8414" opacity="0.58"/><circle cx="276.71" cy="655.99" r="1.00" fill="#dcd448" opacity="0.76"/><circle cx="243.59" cy="661.15" r="0.94" fill="#8c8414" opacity="0.45"/><circle cx="252.08" cy="665.74" r="1.00" fill="#dcd448" opacity="0.54"/><circle cx="288.69" cy="664.04" r="0.51" fill="#8c8414" opacity="0.46"/><circle cx="247.44" cy="661.60" r="0.74" fill="#dcd448" opacity="0.69"/><circle cx="260.67" cy="655.59" r="0.65" fill="#dcd448" opacity="0.73"/><circle cx="261.06" cy="664.95" r="0.84" fill="#8c8414" opacity="0.75"/><circle cx="263.46" cy="652.40" r="0.83" fill="#dcd448" opacity="0.77"/><circle cx="296.73" cy="657.38" r="0.54" fill="#8c8414" opacity="0.47"/><circle cx="296.36" cy="658.58" r="0.94" fill="#8c8414" opacity="0.42"/><circle cx="261.32" cy="657.93" r="0.60" fill="#8c8414" opacity="0.44"/><circle cx="255.89" cy="654.46" r="0.58" fill="#8c8414" opacity="0.44"/><circle cx="275.45" cy="653.66" r="0.91" fill="#8c8414" opacity="0.77"/><circle cx="245.85" cy="661.28" r="0.86" fill="#dcd448" opacity="0.66"/><circle cx="260.65" cy="660.08" r="0.93" fill="#8c8414" opacity="0.50"/><circle cx="257.15" cy="665.24" r="0.62" fill="#dcd448" opacity="0.54"/><circle cx="263.01" cy="659.38" r="0.56" fill="#dcd448" opacity="0.65"/><circle cx="289.80" cy="658.77" r="0.62" fill="#dcd448" opacity="0.44"/><circle cx="250.92" cy="656.20" r="0.69" fill="#8c8414" opacity="0.69"/><circle cx="293.86" cy="658.78" r="0.60" fill="#8c8414" opacity="0.66"/><circle cx="297.87" cy="655.12" r="0.88" fill="#8c8414" opacity="0.53"/><circle cx="271.65" cy="653.40" r="0.84" fill="#dcd448" opacity="0.70"/><circle cx="284.66" cy="663.54" r="0.92" fill="#dcd448" opacity="0.74"/><circle cx="281.93" cy="665.17" r="0.95" fill="#dcd448" opacity="0.74"/><circle cx="253.86" cy="665.47" r="0.84" fill="#8c8414" opacity="0.60"/><circle cx="274.59" cy="655.29" r="0.90" fill="#8c8414" opacity="0.45"/><circle cx="284.58" cy="660.05" r="0.71" fill="#8c8414" opacity="0.54"/><circle cx="280.36" cy="659.49" r="0.68" fill="#dcd448" opacity="0.62"/><circle cx="252.98" cy="654.31" r="0.66" fill="#8c8414" opacity="0.43"/><circle cx="285.39" cy="656.49" r="0.97" fill="#dcd448" opacity="0.73"/><circle cx="288.45" cy="663.51" r="0.82" fill="#dcd448" opacity="0.78"/><circle cx="255.13" cy="661.74" r="0.70" fill="#dcd448" opacity="0.54"/><circle cx="260.40" cy="662.94" r="0.60" fill="#8c8414" opacity="0.36"/><circle cx="247.60" cy="660.61" r="0.96" fill="#8c8414" opacity="0.42"/><circle cx="293.29" cy="661.32" r="0.50" fill="#dcd448" opacity="0.53"/><circle cx="272.19" cy="659.82" r="0.92" fill="#8c8414" opacity="0.78"/><circle cx="265.28" cy="656.64" r="0.83" fill="#8c8414" opacity="0.54"/><circle cx="245.44" cy="657.21" r="0.60" fill="#8c8414" opacity="0.50"/><circle cx="267.99" cy="660.55" r="0.53" fill="#dcd448" opacity="0.58"/><circle cx="256.75" cy="652.75" r="0.87" fill="#8c8414" opacity="0.63"/><circle cx="249.95" cy="663.30" r="1.00" fill="#dcd448" opacity="0.66"/><circle cx="245.65" cy="653.45" r="0.67" fill="#8c8414" opacity="0.56"/><circle cx="272.72" cy="664.32" r="0.70" fill="#dcd448" opacity="0.39"/><circle cx="255.72" cy="660.48" r="0.94" fill="#8c8414" opacity="0.47"/><circle cx="279.85" cy="656.38" r="0.78" fill="#dcd448" opacity="0.77"/><circle cx="286.03" cy="662.50" r="0.82" fill="#dcd448" opacity="0.73"/><circle cx="270.86" cy="661.19" r="0.64" fill="#dcd448" opacity="0.67"/><circle cx="260.29" cy="652.53" r="0.65" fill="#dcd448" opacity="0.43"/><circle cx="250.52" cy="661.90" r="0.73" fill="#8c8414" opacity="0.67"/><circle cx="245.42" cy="659.13" r="0.99" fill="#dcd448" opacity="0.67"/><circle cx="252.66" cy="657.20" r="0.72" fill="#dcd448" opacity="0.46"/><circle cx="261.18" cy="658.52" r="0.70" fill="#dcd448" opacity="0.46"/><circle cx="272.92" cy="662.64" r="0.74" fill="#dcd448" opacity="0.72"/><circle cx="277.49" cy="658.85" r="0.65" fill="#8c8414" opacity="0.40"/><circle cx="293.94" cy="656.18" r="0.96" fill="#dcd448" opacity="0.66"/><circle cx="269.29" cy="660.50" r="0.54" fill="#dcd448" opacity="0.51"/><circle cx="273.76" cy="661.96" r="0.98" fill="#dcd448" opacity="0.37"/><circle cx="252.93" cy="664.72" r="0.77" fill="#8c8414" opacity="0.80"/><circle cx="286.83" cy="660.15" r="0.89" fill="#dcd448" opacity="0.72"/></g>
<path d="M242.80,663.10 C242.80,662.76 244.55,659.25 244.90,658.90 C245.25,658.55 249.28,656.35 249.80,656.10 C250.33,655.86 254.84,654.17 255.40,654.00 C255.96,653.83 260.44,652.71 261.00,652.60 C261.56,652.50 266.13,651.88 266.70,651.90 C267.26,651.92 271.78,652.89 272.30,653.00 C272.82,653.11 276.78,653.88 277.20,654.00 C277.62,654.12 280.31,655.26 280.70,655.40 C281.08,655.54 284.34,656.71 284.90,656.80 C285.46,656.89 291.27,657.13 291.90,657.20 C292.53,657.27 297.19,657.98 297.50,658.20 C297.81,658.43 298.31,661.38 298.20,661.70 C298.09,662.02 296.00,664.33 295.40,664.50 C294.80,664.67 287.04,665.19 286.30,665.20 C285.56,665.22 281.15,664.94 280.70,664.80 C280.25,664.66 277.62,662.55 277.20,662.40 C276.78,662.25 272.82,661.70 272.30,661.70 C271.78,661.70 267.26,662.29 266.70,662.40 C266.13,662.50 261.56,663.68 261.00,663.80 C260.44,663.92 255.96,664.69 255.40,664.80 C254.84,664.90 250.33,665.86 249.80,665.90 C249.28,665.94 245.25,665.74 244.90,665.60 C244.55,665.46 242.80,663.44 242.80,663.10 Z" fill="none" stroke="#7a7210" stroke-width="0.6"/>
<line x1="265.50" y1="643.40" x2="273.00" y2="643.40" stroke="#999" stroke-width="0.7" />
<path d="M266.90,640.80 C270.30,640.80 270.30,646.00 267.30,646.00" fill="none" stroke="#111" stroke-width="1.3"/>
<polygon points="266.10,646.00 268.40,644.40 268.20,647.60" fill="#111" stroke="none" stroke-width="1" />
<text x="274.40" y="646.40" font-size="8.3" stroke="#000" stroke-width="0.18">90°</text>
<line x1="290.50" y1="668.00" x2="297.50" y2="668.00" stroke="#444" stroke-width="0.9" />
<text x="167.90" y="572.00" font-size="8.5" stroke="#000" stroke-width="0.18">+BRME1</text>
<line x1="202.50" y1="562.50" x2="202.50" y2="576.60" stroke="#000" stroke-width="0.8" />
<polygon points="202.50,582.00 200.00,573.00 202.50,576.42 205.00,573.00" fill="#000" stroke="none" stroke-width="1" />
<line x1="229.80" y1="563.50" x2="237.07" y2="577.23" stroke="#000" stroke-width="0.8" />
<polygon points="239.60,582.00 233.18,575.22 236.99,577.07 237.60,572.88" fill="#000" stroke="none" stroke-width="1" />
<text x="241.00" y="571.50" font-size="8.5" stroke="#000" stroke-width="0.18">Self-association</text>
<text x="319.80" y="506.30" font-size="10" stroke="#000" stroke-width="0.18" font-weight="bold">l</text>
<text x="369.70" y="509.30" font-size="8.5" text-anchor="middle" stroke="#000" stroke-width="0.18">MEILB2</text>
<text x="371.60" y="518.90" font-size="6.9" text-anchor="middle" stroke="#000" stroke-width="0.18"><tspan font-family="Liberation Serif" font-size="1.05em">α</tspan>1+2 dimer</text>
<rect x="343.50" y="522.70" width="17.90" height="6.60" fill="#ccccee" stroke="#333" stroke-width="0.8"/>
<rect x="363.80" y="522.70" width="31.30" height="6.60" fill="#ccccee" stroke="#333" stroke-width="0.8"/>
<line x1="361.40" y1="526.00" x2="363.80" y2="526.00" stroke="#333" stroke-width="0.6" />
<text x="352.45" y="527.80" font-size="6.8" text-anchor="middle" fill="#444" stroke="#444" stroke-width="0.18"><tspan font-family="Liberation Serif" font-size="1.05em">α</tspan>1</text>
<text x="379.45" y="527.80" font-size="6.8" text-anchor="middle" fill="#444" stroke="#444" stroke-width="0.18"><tspan font-family="Liberation Serif" font-size="1.05em">α</tspan>2</text>
<rect x="343.50" y="532.30" width="17.90" height="6.80" fill="#ccccee" stroke="#333" stroke-width="0.8"/>
<rect x="363.80" y="532.30" width="31.30" height="6.80" fill="#ccccee" stroke="#333" stroke-width="0.8"/>
<line x1="361.40" y1="535.70" x2="363.80" y2="535.70" stroke="#333" stroke-width="0.6" />
<text x="352.45" y="537.60" font-size="6.8" text-anchor="middle" fill="#444" stroke="#444" stroke-width="0.18"><tspan font-family="Liberation Serif" font-size="1.05em">α</tspan>1</text>
<text x="379.45" y="537.60" font-size="6.8" text-anchor="middle" fill="#444" stroke="#444" stroke-width="0.18"><tspan font-family="Liberation Serif" font-size="1.05em">α</tspan>2</text>
<line x1="365.80" y1="543.90" x2="362.25" y2="556.06" stroke="#000" stroke-width="0.9" />
<polygon points="360.40,562.40 361.08,551.14 362.31,555.85 365.88,552.54" fill="#000" stroke="none" stroke-width="1" />
<line x1="373.10" y1="543.40" x2="377.04" y2="556.10" stroke="#000" stroke-width="0.9" />
<polygon points="379.00,562.40 373.35,552.64 376.98,555.89 378.13,551.15" fill="#000" stroke="none" stroke-width="1" />
<text x="320.50" y="568.30" font-size="8.5" fill="#f06070" stroke="#f06070" stroke-width="0.18">BRME1</text>
<rect x="322.00" y="571.10" width="17.90" height="6.90" fill="#d58a8a" stroke="#333" stroke-width="0.8"/>
<rect x="322.00" y="580.70" width="17.90" height="6.20" fill="#ccccee" stroke="#333" stroke-width="0.8"/>
<rect x="342.30" y="580.70" width="29.80" height="6.20" fill="#ccccee" stroke="#333" stroke-width="0.8"/>
<line x1="339.90" y1="583.80" x2="342.30" y2="583.80" stroke="#333" stroke-width="0.6" />
<text x="330.95" y="585.40" font-size="6.8" text-anchor="middle" fill="#444" stroke="#444" stroke-width="0.18"><tspan font-family="Liberation Serif" font-size="1.05em">α</tspan>1</text>
<text x="357.20" y="585.40" font-size="6.8" text-anchor="middle" fill="#444" stroke="#444" stroke-width="0.18"><tspan font-family="Liberation Serif" font-size="1.05em">α</tspan>2</text>
<rect x="322.00" y="589.60" width="17.90" height="6.90" fill="#ccccee" stroke="#333" stroke-width="0.8"/>
<rect x="342.30" y="589.60" width="29.80" height="6.90" fill="#ccccee" stroke="#333" stroke-width="0.8"/>
<line x1="339.90" y1="593.05" x2="342.30" y2="593.05" stroke="#333" stroke-width="0.6" />
<text x="330.95" y="595.00" font-size="6.8" text-anchor="middle" fill="#444" stroke="#444" stroke-width="0.18"><tspan font-family="Liberation Serif" font-size="1.05em">α</tspan>1</text>
<text x="357.20" y="595.00" font-size="6.8" text-anchor="middle" fill="#444" stroke="#444" stroke-width="0.18"><tspan font-family="Liberation Serif" font-size="1.05em">α</tspan>2</text>
<rect x="322.00" y="598.90" width="17.90" height="6.50" fill="#d58a8a" stroke="#333" stroke-width="0.8"/>
<text x="320.50" y="614.00" font-size="8.5" fill="#f06070" stroke="#f06070" stroke-width="0.18">BRME1</text>
<text x="319.90" y="625.00" font-size="8.5" stroke="#000" stroke-width="0.18">2:2 complex</text>
<rect x="382.60" y="558.30" width="17.00" height="3.80" fill="#eeeef8" opacity="0.7"/>
<rect x="402.00" y="558.30" width="29.60" height="3.80" fill="#eeeef8" opacity="0.7"/>
<rect x="382.60" y="565.10" width="17.00" height="6.00" fill="#ccccee" stroke="#333" stroke-width="0.6" opacity="0.25"/>
<rect x="402.00" y="565.10" width="29.60" height="6.00" fill="#ccccee" stroke="#333" stroke-width="0.6" opacity="0.25"/>
<line x1="399.60" y1="568.10" x2="402.00" y2="568.10" stroke="#333" stroke-width="0.6" opacity="0.25"/>
<rect x="382.60" y="574.40" width="17.00" height="6.20" fill="#ccccee" stroke="#333" stroke-width="0.8"/>
<rect x="402.00" y="574.40" width="29.60" height="6.20" fill="#ccccee" stroke="#333" stroke-width="0.8"/>
<line x1="399.60" y1="577.50" x2="402.00" y2="577.50" stroke="#333" stroke-width="0.6" />
<text x="391.10" y="579.10" font-size="6.8" text-anchor="middle" fill="#444" stroke="#444" stroke-width="0.18"><tspan font-family="Liberation Serif" font-size="1.05em">α</tspan>1</text>
<text x="416.80" y="579.10" font-size="6.8" text-anchor="middle" fill="#444" stroke="#444" stroke-width="0.18"><tspan font-family="Liberation Serif" font-size="1.05em">α</tspan>2</text>
<rect x="382.60" y="583.50" width="17.00" height="6.40" fill="#ccccee" stroke="#333" stroke-width="0.8"/>
<rect x="402.00" y="583.50" width="29.60" height="6.40" fill="#ccccee" stroke="#333" stroke-width="0.8"/>
<line x1="399.60" y1="586.70" x2="402.00" y2="586.70" stroke="#333" stroke-width="0.6" />
<text x="391.10" y="588.40" font-size="6.8" text-anchor="middle" fill="#444" stroke="#444" stroke-width="0.18"><tspan font-family="Liberation Serif" font-size="1.05em">α</tspan>1</text>
<text x="416.80" y="588.40" font-size="6.8" text-anchor="middle" fill="#444" stroke="#444" stroke-width="0.18"><tspan font-family="Liberation Serif" font-size="1.05em">α</tspan>2</text>
<rect x="382.60" y="593.00" width="17.00" height="6.30" fill="#ccccee" stroke="#333" stroke-width="0.8"/>
<rect x="402.00" y="593.00" width="29.60" height="6.30" fill="#ccccee" stroke="#333" stroke-width="0.8"/>
<line x1="399.60" y1="596.15" x2="402.00" y2="596.15" stroke="#333" stroke-width="0.6" />
<text x="391.10" y="597.80" font-size="6.8" text-anchor="middle" fill="#444" stroke="#444" stroke-width="0.18"><tspan font-family="Liberation Serif" font-size="1.05em">α</tspan>1</text>
<text x="416.80" y="597.80" font-size="6.8" text-anchor="middle" fill="#444" stroke="#444" stroke-width="0.18"><tspan font-family="Liberation Serif" font-size="1.05em">α</tspan>2</text>
<rect x="382.60" y="602.70" width="17.00" height="6.30" fill="#ccccee" stroke="#333" stroke-width="0.8"/>
<rect x="402.00" y="602.70" width="29.60" height="6.30" fill="#ccccee" stroke="#333" stroke-width="0.8"/>
<line x1="399.60" y1="605.85" x2="402.00" y2="605.85" stroke="#333" stroke-width="0.6" />
<text x="391.10" y="607.50" font-size="6.8" text-anchor="middle" fill="#444" stroke="#444" stroke-width="0.18"><tspan font-family="Liberation Serif" font-size="1.05em">α</tspan>1</text>
<text x="416.80" y="607.50" font-size="6.8" text-anchor="middle" fill="#444" stroke="#444" stroke-width="0.18"><tspan font-family="Liberation Serif" font-size="1.05em">α</tspan>2</text>
<rect x="382.60" y="611.40" width="17.00" height="6.60" fill="#ccccee" stroke="#333" stroke-width="0.6" opacity="0.25"/>
<rect x="402.00" y="611.40" width="29.60" height="6.60" fill="#ccccee" stroke="#333" stroke-width="0.6" opacity="0.25"/>
<line x1="399.60" y1="614.70" x2="402.00" y2="614.70" stroke="#333" stroke-width="0.6" opacity="0.25"/>
<text x="401.50" y="630.80" font-size="8.5" text-anchor="middle" stroke="#000" stroke-width="0.18">Lateral</text>
<text x="407.30" y="640.80" font-size="8.5" text-anchor="middle" stroke="#000" stroke-width="0.18">association</text>
</svg>
</body></html>
